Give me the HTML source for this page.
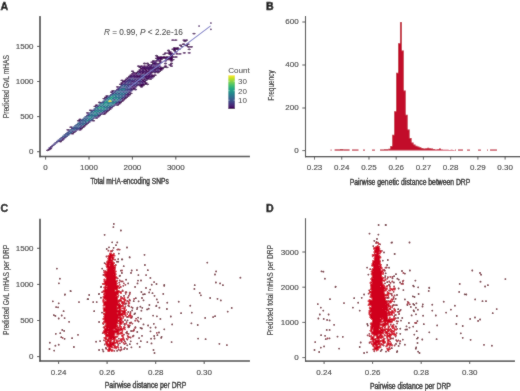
<!DOCTYPE html>
<html><head><meta charset="utf-8"><style>
html,body{margin:0;padding:0;background:#fff;}
svg{display:block;will-change:transform;}
text{font-family:"Liberation Sans",sans-serif;}
</style></head><body>
<svg width="520" height="391" viewBox="0 0 520 391">
<defs><filter id="sb" x="0" y="0" width="520" height="391" filterUnits="userSpaceOnUse"><feConvolveMatrix order="3" kernelMatrix="1 2 1 2 24 2 1 2 1" divisor="36" edgeMode="duplicate"/></filter></defs>
<rect width="520" height="391" fill="#fff"/>
<g filter="url(#sb)">
<rect width="520" height="391" fill="#fff"/>
<g><path d="M194.00 32.70l1.56 0.46v0.87l-1.56 0.46l-1.56 -0.46v-0.87zM186.50 39.20l1.56 0.46v0.87l-1.56 0.46l-1.56 -0.46v-0.87zM185.00 40.50l1.56 0.46v0.87l-1.56 0.46l-1.56 -0.46v-0.87zM180.50 44.40l1.56 0.46v0.87l-1.56 0.46l-1.56 -0.46v-0.87zM182.00 45.70l1.56 0.46v0.87l-1.56 0.46l-1.56 -0.46v-0.87zM174.50 47.00l1.56 0.46v0.87l-1.56 0.46l-1.56 -0.46v-0.87zM177.50 47.00l1.56 0.46v0.87l-1.56 0.46l-1.56 -0.46v-0.87zM173.00 48.30l1.56 0.46v0.87l-1.56 0.46l-1.56 -0.46v-0.87zM176.00 48.30l1.56 0.46v0.87l-1.56 0.46l-1.56 -0.46v-0.87zM179.00 48.30l1.56 0.46v0.87l-1.56 0.46l-1.56 -0.46v-0.87zM168.50 49.60l1.56 0.46v0.87l-1.56 0.46l-1.56 -0.46v-0.87zM174.50 49.60l1.56 0.46v0.87l-1.56 0.46l-1.56 -0.46v-0.87zM170.00 50.90l1.56 0.46v0.87l-1.56 0.46l-1.56 -0.46v-0.87zM176.00 50.90l1.56 0.46v0.87l-1.56 0.46l-1.56 -0.46v-0.87zM165.50 52.20l1.56 0.46v0.87l-1.56 0.46l-1.56 -0.46v-0.87zM168.50 52.20l1.56 0.46v0.87l-1.56 0.46l-1.56 -0.46v-0.87zM171.50 52.20l1.56 0.46v0.87l-1.56 0.46l-1.56 -0.46v-0.87zM164.00 53.50l1.56 0.46v0.87l-1.56 0.46l-1.56 -0.46v-0.87zM170.00 53.50l1.56 0.46v0.87l-1.56 0.46l-1.56 -0.46v-0.87zM173.00 53.50l1.56 0.46v0.87l-1.56 0.46l-1.56 -0.46v-0.87zM156.50 54.80l1.56 0.46v0.87l-1.56 0.46l-1.56 -0.46v-0.87zM171.50 54.80l1.56 0.46v0.87l-1.56 0.46l-1.56 -0.46v-0.87zM158.00 56.10l1.56 0.46v0.87l-1.56 0.46l-1.56 -0.46v-0.87zM161.00 56.10l1.56 0.46v0.87l-1.56 0.46l-1.56 -0.46v-0.87zM164.00 56.10l1.56 0.46v0.87l-1.56 0.46l-1.56 -0.46v-0.87zM167.00 56.10l1.56 0.46v0.87l-1.56 0.46l-1.56 -0.46v-0.87zM170.00 56.10l1.56 0.46v0.87l-1.56 0.46l-1.56 -0.46v-0.87zM173.00 56.10l1.56 0.46v0.87l-1.56 0.46l-1.56 -0.46v-0.87zM176.00 56.10l1.56 0.46v0.87l-1.56 0.46l-1.56 -0.46v-0.87zM156.50 57.40l1.56 0.46v0.87l-1.56 0.46l-1.56 -0.46v-0.87zM159.50 57.40l1.56 0.46v0.87l-1.56 0.46l-1.56 -0.46v-0.87zM162.50 57.40l1.56 0.46v0.87l-1.56 0.46l-1.56 -0.46v-0.87zM165.50 57.40l1.56 0.46v0.87l-1.56 0.46l-1.56 -0.46v-0.87zM168.50 57.40l1.56 0.46v0.87l-1.56 0.46l-1.56 -0.46v-0.87zM171.50 57.40l1.56 0.46v0.87l-1.56 0.46l-1.56 -0.46v-0.87zM161.00 58.70l1.56 0.46v0.87l-1.56 0.46l-1.56 -0.46v-0.87zM167.00 58.70l1.56 0.46v0.87l-1.56 0.46l-1.56 -0.46v-0.87zM170.00 58.70l1.56 0.46v0.87l-1.56 0.46l-1.56 -0.46v-0.87zM173.00 58.70l1.56 0.46v0.87l-1.56 0.46l-1.56 -0.46v-0.87zM153.50 60.00l1.56 0.46v0.87l-1.56 0.46l-1.56 -0.46v-0.87zM156.50 60.00l1.56 0.46v0.87l-1.56 0.46l-1.56 -0.46v-0.87zM159.50 60.00l1.56 0.46v0.87l-1.56 0.46l-1.56 -0.46v-0.87zM171.50 60.00l1.56 0.46v0.87l-1.56 0.46l-1.56 -0.46v-0.87zM152.00 61.30l1.56 0.46v0.87l-1.56 0.46l-1.56 -0.46v-0.87zM161.00 61.30l1.56 0.46v0.87l-1.56 0.46l-1.56 -0.46v-0.87zM144.50 62.60l1.56 0.46v0.87l-1.56 0.46l-1.56 -0.46v-0.87zM147.50 62.60l1.56 0.46v0.87l-1.56 0.46l-1.56 -0.46v-0.87zM153.50 62.60l1.56 0.46v0.87l-1.56 0.46l-1.56 -0.46v-0.87zM171.50 62.60l1.56 0.46v0.87l-1.56 0.46l-1.56 -0.46v-0.87zM170.00 63.90l1.56 0.46v0.87l-1.56 0.46l-1.56 -0.46v-0.87zM138.50 65.20l1.56 0.46v0.87l-1.56 0.46l-1.56 -0.46v-0.87zM141.50 65.20l1.56 0.46v0.87l-1.56 0.46l-1.56 -0.46v-0.87zM144.50 65.20l1.56 0.46v0.87l-1.56 0.46l-1.56 -0.46v-0.87zM165.50 65.20l1.56 0.46v0.87l-1.56 0.46l-1.56 -0.46v-0.87zM171.50 65.20l1.56 0.46v0.87l-1.56 0.46l-1.56 -0.46v-0.87zM140.00 66.50l1.56 0.46v0.87l-1.56 0.46l-1.56 -0.46v-0.87zM161.00 66.50l1.56 0.46v0.87l-1.56 0.46l-1.56 -0.46v-0.87zM164.00 66.50l1.56 0.46v0.87l-1.56 0.46l-1.56 -0.46v-0.87zM167.00 66.50l1.56 0.46v0.87l-1.56 0.46l-1.56 -0.46v-0.87zM141.50 67.80l1.56 0.46v0.87l-1.56 0.46l-1.56 -0.46v-0.87zM144.50 67.80l1.56 0.46v0.87l-1.56 0.46l-1.56 -0.46v-0.87zM159.50 67.80l1.56 0.46v0.87l-1.56 0.46l-1.56 -0.46v-0.87zM162.50 67.80l1.56 0.46v0.87l-1.56 0.46l-1.56 -0.46v-0.87zM146.00 69.10l1.56 0.46v0.87l-1.56 0.46l-1.56 -0.46v-0.87zM161.00 69.10l1.56 0.46v0.87l-1.56 0.46l-1.56 -0.46v-0.87zM132.50 70.40l1.56 0.46v0.87l-1.56 0.46l-1.56 -0.46v-0.87zM147.50 70.40l1.56 0.46v0.87l-1.56 0.46l-1.56 -0.46v-0.87zM159.50 70.40l1.56 0.46v0.87l-1.56 0.46l-1.56 -0.46v-0.87zM137.00 71.70l1.56 0.46v0.87l-1.56 0.46l-1.56 -0.46v-0.87zM149.00 71.70l1.56 0.46v0.87l-1.56 0.46l-1.56 -0.46v-0.87zM152.00 71.70l1.56 0.46v0.87l-1.56 0.46l-1.56 -0.46v-0.87zM158.00 71.70l1.56 0.46v0.87l-1.56 0.46l-1.56 -0.46v-0.87zM132.50 73.00l1.56 0.46v0.87l-1.56 0.46l-1.56 -0.46v-0.87zM135.50 73.00l1.56 0.46v0.87l-1.56 0.46l-1.56 -0.46v-0.87zM147.50 73.00l1.56 0.46v0.87l-1.56 0.46l-1.56 -0.46v-0.87zM152.00 74.30l1.56 0.46v0.87l-1.56 0.46l-1.56 -0.46v-0.87zM155.00 74.30l1.56 0.46v0.87l-1.56 0.46l-1.56 -0.46v-0.87zM138.50 75.60l1.56 0.46v0.87l-1.56 0.46l-1.56 -0.46v-0.87zM144.50 75.60l1.56 0.46v0.87l-1.56 0.46l-1.56 -0.46v-0.87zM153.50 75.60l1.56 0.46v0.87l-1.56 0.46l-1.56 -0.46v-0.87zM144.50 78.20l1.56 0.46v0.87l-1.56 0.46l-1.56 -0.46v-0.87zM150.50 78.20l1.56 0.46v0.87l-1.56 0.46l-1.56 -0.46v-0.87zM122.00 79.50l1.56 0.46v0.87l-1.56 0.46l-1.56 -0.46v-0.87zM144.50 80.80l1.56 0.46v0.87l-1.56 0.46l-1.56 -0.46v-0.87zM122.00 82.10l1.56 0.46v0.87l-1.56 0.46l-1.56 -0.46v-0.87zM146.00 82.10l1.56 0.46v0.87l-1.56 0.46l-1.56 -0.46v-0.87zM120.50 83.40l1.56 0.46v0.87l-1.56 0.46l-1.56 -0.46v-0.87zM141.50 83.40l1.56 0.46v0.87l-1.56 0.46l-1.56 -0.46v-0.87zM144.50 83.40l1.56 0.46v0.87l-1.56 0.46l-1.56 -0.46v-0.87zM147.50 83.40l1.56 0.46v0.87l-1.56 0.46l-1.56 -0.46v-0.87zM140.00 84.70l1.56 0.46v0.87l-1.56 0.46l-1.56 -0.46v-0.87zM143.00 84.70l1.56 0.46v0.87l-1.56 0.46l-1.56 -0.46v-0.87zM117.50 86.00l1.56 0.46v0.87l-1.56 0.46l-1.56 -0.46v-0.87zM141.50 86.00l1.56 0.46v0.87l-1.56 0.46l-1.56 -0.46v-0.87zM113.00 89.90l1.56 0.46v0.87l-1.56 0.46l-1.56 -0.46v-0.87zM111.50 91.20l1.56 0.46v0.87l-1.56 0.46l-1.56 -0.46v-0.87zM131.00 92.50l1.56 0.46v0.87l-1.56 0.46l-1.56 -0.46v-0.87zM129.50 93.80l1.56 0.46v0.87l-1.56 0.46l-1.56 -0.46v-0.87zM107.00 95.10l1.56 0.46v0.87l-1.56 0.46l-1.56 -0.46v-0.87zM105.50 96.40l1.56 0.46v0.87l-1.56 0.46l-1.56 -0.46v-0.87zM126.50 96.40l1.56 0.46v0.87l-1.56 0.46l-1.56 -0.46v-0.87zM104.00 97.70l1.56 0.46v0.87l-1.56 0.46l-1.56 -0.46v-0.87zM125.00 97.70l1.56 0.46v0.87l-1.56 0.46l-1.56 -0.46v-0.87zM123.50 99.00l1.56 0.46v0.87l-1.56 0.46l-1.56 -0.46v-0.87zM122.00 100.30l1.56 0.46v0.87l-1.56 0.46l-1.56 -0.46v-0.87zM99.50 101.60l1.56 0.46v0.87l-1.56 0.46l-1.56 -0.46v-0.87zM120.50 101.60l1.56 0.46v0.87l-1.56 0.46l-1.56 -0.46v-0.87zM119.00 102.90l1.56 0.46v0.87l-1.56 0.46l-1.56 -0.46v-0.87zM96.50 104.20l1.56 0.46v0.87l-1.56 0.46l-1.56 -0.46v-0.87zM117.50 104.20l1.56 0.46v0.87l-1.56 0.46l-1.56 -0.46v-0.87zM95.00 105.50l1.56 0.46v0.87l-1.56 0.46l-1.56 -0.46v-0.87zM90.50 109.40l1.56 0.46v0.87l-1.56 0.46l-1.56 -0.46v-0.87zM107.00 110.70l1.56 0.46v0.87l-1.56 0.46l-1.56 -0.46v-0.87zM87.50 112.00l1.56 0.46v0.87l-1.56 0.46l-1.56 -0.46v-0.87zM105.50 112.00l1.56 0.46v0.87l-1.56 0.46l-1.56 -0.46v-0.87zM104.00 113.30l1.56 0.46v0.87l-1.56 0.46l-1.56 -0.46v-0.87zM80.00 118.50l1.56 0.46v0.87l-1.56 0.46l-1.56 -0.46v-0.87zM78.50 119.80l1.56 0.46v0.87l-1.56 0.46l-1.56 -0.46v-0.87zM93.50 119.80l1.56 0.46v0.87l-1.56 0.46l-1.56 -0.46v-0.87zM84.50 125.00l1.56 0.46v0.87l-1.56 0.46l-1.56 -0.46v-0.87zM71.00 126.30l1.56 0.46v0.87l-1.56 0.46l-1.56 -0.46v-0.87zM83.00 126.30l1.56 0.46v0.87l-1.56 0.46l-1.56 -0.46v-0.87zM81.50 127.60l1.56 0.46v0.87l-1.56 0.46l-1.56 -0.46v-0.87zM68.00 128.90l1.56 0.46v0.87l-1.56 0.46l-1.56 -0.46v-0.87zM80.00 128.90l1.56 0.46v0.87l-1.56 0.46l-1.56 -0.46v-0.87zM72.50 132.80l1.56 0.46v0.87l-1.56 0.46l-1.56 -0.46v-0.87zM60.50 140.60l1.56 0.46v0.87l-1.56 0.46l-1.56 -0.46v-0.87zM47.60 149.50l1.56 0.46v0.87l-1.56 0.46l-1.56 -0.46v-0.87zM49.10 148.60l1.56 0.46v0.87l-1.56 0.46l-1.56 -0.46v-0.87zM50.60 147.70l1.56 0.46v0.87l-1.56 0.46l-1.56 -0.46v-0.87zM172.80 39.20l1.56 0.46v0.87l-1.56 0.46l-1.56 -0.46v-0.87zM175.80 39.20l1.56 0.46v0.87l-1.56 0.46l-1.56 -0.46v-0.87zM184.00 39.20l1.56 0.46v0.87l-1.56 0.46l-1.56 -0.46v-0.87zM183.50 43.30l1.56 0.46v0.87l-1.56 0.46l-1.56 -0.46v-0.87zM186.50 44.60l1.56 0.46v0.87l-1.56 0.46l-1.56 -0.46v-0.87zM188.00 43.30l1.56 0.46v0.87l-1.56 0.46l-1.56 -0.46v-0.87zM188.60 45.90l1.56 0.46v0.87l-1.56 0.46l-1.56 -0.46v-0.87zM191.30 45.90l1.56 0.46v0.87l-1.56 0.46l-1.56 -0.46v-0.87zM189.20 48.50l1.56 0.46v0.87l-1.56 0.46l-1.56 -0.46v-0.87zM184.30 52.00l1.56 0.46v0.87l-1.56 0.46l-1.56 -0.46v-0.87zM189.20 52.00l1.56 0.46v0.87l-1.56 0.46l-1.56 -0.46v-0.87zM180.00 53.00l1.56 0.46v0.87l-1.56 0.46l-1.56 -0.46v-0.87zM177.00 53.00l1.56 0.46v0.87l-1.56 0.46l-1.56 -0.46v-0.87z" fill="#440154"/>
<path d="M158.00 58.70l1.56 0.46v0.87l-1.56 0.46l-1.56 -0.46v-0.87zM165.50 60.00l1.56 0.46v0.87l-1.56 0.46l-1.56 -0.46v-0.87zM155.00 61.30l1.56 0.46v0.87l-1.56 0.46l-1.56 -0.46v-0.87zM155.00 63.90l1.56 0.46v0.87l-1.56 0.46l-1.56 -0.46v-0.87zM158.00 66.50l1.56 0.46v0.87l-1.56 0.46l-1.56 -0.46v-0.87zM132.50 75.60l1.56 0.46v0.87l-1.56 0.46l-1.56 -0.46v-0.87zM137.00 76.90l1.56 0.46v0.87l-1.56 0.46l-1.56 -0.46v-0.87zM140.00 76.90l1.56 0.46v0.87l-1.56 0.46l-1.56 -0.46v-0.87zM146.00 79.50l1.56 0.46v0.87l-1.56 0.46l-1.56 -0.46v-0.87zM132.50 80.80l1.56 0.46v0.87l-1.56 0.46l-1.56 -0.46v-0.87zM135.50 80.80l1.56 0.46v0.87l-1.56 0.46l-1.56 -0.46v-0.87zM141.50 80.80l1.56 0.46v0.87l-1.56 0.46l-1.56 -0.46v-0.87zM143.00 82.10l1.56 0.46v0.87l-1.56 0.46l-1.56 -0.46v-0.87zM138.50 83.40l1.56 0.46v0.87l-1.56 0.46l-1.56 -0.46v-0.87zM137.00 84.70l1.56 0.46v0.87l-1.56 0.46l-1.56 -0.46v-0.87zM129.50 91.20l1.56 0.46v0.87l-1.56 0.46l-1.56 -0.46v-0.87zM111.50 106.80l1.56 0.46v0.87l-1.56 0.46l-1.56 -0.46v-0.87zM101.00 113.30l1.56 0.46v0.87l-1.56 0.46l-1.56 -0.46v-0.87zM99.50 114.60l1.56 0.46v0.87l-1.56 0.46l-1.56 -0.46v-0.87zM98.00 115.90l1.56 0.46v0.87l-1.56 0.46l-1.56 -0.46v-0.87zM89.00 121.10l1.56 0.46v0.87l-1.56 0.46l-1.56 -0.46v-0.87zM87.50 122.40l1.56 0.46v0.87l-1.56 0.46l-1.56 -0.46v-0.87zM75.50 130.20l1.56 0.46v0.87l-1.56 0.46l-1.56 -0.46v-0.87zM51.50 145.80l1.56 0.46v0.87l-1.56 0.46l-1.56 -0.46v-0.87zM50.00 147.10l1.56 0.46v0.87l-1.56 0.46l-1.56 -0.46v-0.87z" fill="#471f70"/>
<path d="M156.50 62.60l1.56 0.46v0.87l-1.56 0.46l-1.56 -0.46v-0.87zM152.00 63.90l1.56 0.46v0.87l-1.56 0.46l-1.56 -0.46v-0.87zM150.50 65.20l1.56 0.46v0.87l-1.56 0.46l-1.56 -0.46v-0.87zM143.00 66.50l1.56 0.46v0.87l-1.56 0.46l-1.56 -0.46v-0.87zM146.00 66.50l1.56 0.46v0.87l-1.56 0.46l-1.56 -0.46v-0.87zM149.00 66.50l1.56 0.46v0.87l-1.56 0.46l-1.56 -0.46v-0.87zM152.00 66.50l1.56 0.46v0.87l-1.56 0.46l-1.56 -0.46v-0.87zM155.00 66.50l1.56 0.46v0.87l-1.56 0.46l-1.56 -0.46v-0.87zM147.50 67.80l1.56 0.46v0.87l-1.56 0.46l-1.56 -0.46v-0.87zM150.50 67.80l1.56 0.46v0.87l-1.56 0.46l-1.56 -0.46v-0.87zM143.00 69.10l1.56 0.46v0.87l-1.56 0.46l-1.56 -0.46v-0.87zM149.00 69.10l1.56 0.46v0.87l-1.56 0.46l-1.56 -0.46v-0.87zM141.50 70.40l1.56 0.46v0.87l-1.56 0.46l-1.56 -0.46v-0.87zM144.50 70.40l1.56 0.46v0.87l-1.56 0.46l-1.56 -0.46v-0.87zM156.50 70.40l1.56 0.46v0.87l-1.56 0.46l-1.56 -0.46v-0.87zM140.00 71.70l1.56 0.46v0.87l-1.56 0.46l-1.56 -0.46v-0.87zM146.00 71.70l1.56 0.46v0.87l-1.56 0.46l-1.56 -0.46v-0.87zM144.50 73.00l1.56 0.46v0.87l-1.56 0.46l-1.56 -0.46v-0.87zM150.50 73.00l1.56 0.46v0.87l-1.56 0.46l-1.56 -0.46v-0.87zM134.00 74.30l1.56 0.46v0.87l-1.56 0.46l-1.56 -0.46v-0.87zM140.00 74.30l1.56 0.46v0.87l-1.56 0.46l-1.56 -0.46v-0.87zM149.00 74.30l1.56 0.46v0.87l-1.56 0.46l-1.56 -0.46v-0.87zM135.50 75.60l1.56 0.46v0.87l-1.56 0.46l-1.56 -0.46v-0.87zM147.50 75.60l1.56 0.46v0.87l-1.56 0.46l-1.56 -0.46v-0.87zM150.50 75.60l1.56 0.46v0.87l-1.56 0.46l-1.56 -0.46v-0.87zM134.00 76.90l1.56 0.46v0.87l-1.56 0.46l-1.56 -0.46v-0.87zM152.00 76.90l1.56 0.46v0.87l-1.56 0.46l-1.56 -0.46v-0.87zM141.50 78.20l1.56 0.46v0.87l-1.56 0.46l-1.56 -0.46v-0.87zM132.50 83.40l1.56 0.46v0.87l-1.56 0.46l-1.56 -0.46v-0.87zM132.50 86.00l1.56 0.46v0.87l-1.56 0.46l-1.56 -0.46v-0.87zM135.50 86.00l1.56 0.46v0.87l-1.56 0.46l-1.56 -0.46v-0.87zM135.50 88.60l1.56 0.46v0.87l-1.56 0.46l-1.56 -0.46v-0.87zM63.50 138.00l1.56 0.46v0.87l-1.56 0.46l-1.56 -0.46v-0.87zM62.00 139.30l1.56 0.46v0.87l-1.56 0.46l-1.56 -0.46v-0.87z" fill="#461567"/>
<path d="M159.50 62.60l1.56 0.46v0.87l-1.56 0.46l-1.56 -0.46v-0.87zM165.50 62.60l1.56 0.46v0.87l-1.56 0.46l-1.56 -0.46v-0.87zM149.00 63.90l1.56 0.46v0.87l-1.56 0.46l-1.56 -0.46v-0.87zM158.00 63.90l1.56 0.46v0.87l-1.56 0.46l-1.56 -0.46v-0.87zM147.50 65.20l1.56 0.46v0.87l-1.56 0.46l-1.56 -0.46v-0.87zM156.50 65.20l1.56 0.46v0.87l-1.56 0.46l-1.56 -0.46v-0.87zM153.50 67.80l1.56 0.46v0.87l-1.56 0.46l-1.56 -0.46v-0.87zM156.50 67.80l1.56 0.46v0.87l-1.56 0.46l-1.56 -0.46v-0.87zM140.00 69.10l1.56 0.46v0.87l-1.56 0.46l-1.56 -0.46v-0.87zM152.00 69.10l1.56 0.46v0.87l-1.56 0.46l-1.56 -0.46v-0.87zM155.00 69.10l1.56 0.46v0.87l-1.56 0.46l-1.56 -0.46v-0.87zM138.50 70.40l1.56 0.46v0.87l-1.56 0.46l-1.56 -0.46v-0.87zM150.50 70.40l1.56 0.46v0.87l-1.56 0.46l-1.56 -0.46v-0.87zM134.00 71.70l1.56 0.46v0.87l-1.56 0.46l-1.56 -0.46v-0.87zM143.00 71.70l1.56 0.46v0.87l-1.56 0.46l-1.56 -0.46v-0.87zM155.00 71.70l1.56 0.46v0.87l-1.56 0.46l-1.56 -0.46v-0.87zM141.50 73.00l1.56 0.46v0.87l-1.56 0.46l-1.56 -0.46v-0.87zM131.00 74.30l1.56 0.46v0.87l-1.56 0.46l-1.56 -0.46v-0.87zM137.00 74.30l1.56 0.46v0.87l-1.56 0.46l-1.56 -0.46v-0.87zM146.00 74.30l1.56 0.46v0.87l-1.56 0.46l-1.56 -0.46v-0.87zM129.50 75.60l1.56 0.46v0.87l-1.56 0.46l-1.56 -0.46v-0.87zM128.00 76.90l1.56 0.46v0.87l-1.56 0.46l-1.56 -0.46v-0.87zM146.00 76.90l1.56 0.46v0.87l-1.56 0.46l-1.56 -0.46v-0.87zM149.00 76.90l1.56 0.46v0.87l-1.56 0.46l-1.56 -0.46v-0.87zM126.50 78.20l1.56 0.46v0.87l-1.56 0.46l-1.56 -0.46v-0.87zM147.50 78.20l1.56 0.46v0.87l-1.56 0.46l-1.56 -0.46v-0.87zM125.00 79.50l1.56 0.46v0.87l-1.56 0.46l-1.56 -0.46v-0.87zM143.00 79.50l1.56 0.46v0.87l-1.56 0.46l-1.56 -0.46v-0.87zM123.50 80.80l1.56 0.46v0.87l-1.56 0.46l-1.56 -0.46v-0.87zM138.50 80.80l1.56 0.46v0.87l-1.56 0.46l-1.56 -0.46v-0.87zM134.00 87.30l1.56 0.46v0.87l-1.56 0.46l-1.56 -0.46v-0.87zM132.50 88.60l1.56 0.46v0.87l-1.56 0.46l-1.56 -0.46v-0.87zM128.00 95.10l1.56 0.46v0.87l-1.56 0.46l-1.56 -0.46v-0.87zM110.00 108.10l1.56 0.46v0.87l-1.56 0.46l-1.56 -0.46v-0.87zM108.50 109.40l1.56 0.46v0.87l-1.56 0.46l-1.56 -0.46v-0.87zM96.50 117.20l1.56 0.46v0.87l-1.56 0.46l-1.56 -0.46v-0.87zM86.00 123.70l1.56 0.46v0.87l-1.56 0.46l-1.56 -0.46v-0.87zM74.00 131.50l1.56 0.46v0.87l-1.56 0.46l-1.56 -0.46v-0.87z" fill="#450b5d"/>
<path d="M153.50 65.20l1.56 0.46v0.87l-1.56 0.46l-1.56 -0.46v-0.87zM159.50 65.20l1.56 0.46v0.87l-1.56 0.46l-1.56 -0.46v-0.87zM158.00 69.10l1.56 0.46v0.87l-1.56 0.46l-1.56 -0.46v-0.87zM153.50 70.40l1.56 0.46v0.87l-1.56 0.46l-1.56 -0.46v-0.87zM141.50 75.60l1.56 0.46v0.87l-1.56 0.46l-1.56 -0.46v-0.87zM131.00 76.90l1.56 0.46v0.87l-1.56 0.46l-1.56 -0.46v-0.87zM138.50 78.20l1.56 0.46v0.87l-1.56 0.46l-1.56 -0.46v-0.87zM137.00 79.50l1.56 0.46v0.87l-1.56 0.46l-1.56 -0.46v-0.87zM126.50 80.80l1.56 0.46v0.87l-1.56 0.46l-1.56 -0.46v-0.87zM125.00 82.10l1.56 0.46v0.87l-1.56 0.46l-1.56 -0.46v-0.87zM129.50 83.40l1.56 0.46v0.87l-1.56 0.46l-1.56 -0.46v-0.87zM131.00 87.30l1.56 0.46v0.87l-1.56 0.46l-1.56 -0.46v-0.87zM117.50 88.60l1.56 0.46v0.87l-1.56 0.46l-1.56 -0.46v-0.87zM128.00 92.50l1.56 0.46v0.87l-1.56 0.46l-1.56 -0.46v-0.87zM126.50 93.80l1.56 0.46v0.87l-1.56 0.46l-1.56 -0.46v-0.87zM116.00 102.90l1.56 0.46v0.87l-1.56 0.46l-1.56 -0.46v-0.87zM113.00 105.50l1.56 0.46v0.87l-1.56 0.46l-1.56 -0.46v-0.87zM53.00 144.50l1.56 0.46v0.87l-1.56 0.46l-1.56 -0.46v-0.87z" fill="#472978"/>
<path d="M138.50 73.00l1.56 0.46v0.87l-1.56 0.46l-1.56 -0.46v-0.87zM143.00 76.90l1.56 0.46v0.87l-1.56 0.46l-1.56 -0.46v-0.87zM137.00 82.10l1.56 0.46v0.87l-1.56 0.46l-1.56 -0.46v-0.87zM123.50 83.40l1.56 0.46v0.87l-1.56 0.46l-1.56 -0.46v-0.87zM126.50 83.40l1.56 0.46v0.87l-1.56 0.46l-1.56 -0.46v-0.87zM135.50 83.40l1.56 0.46v0.87l-1.56 0.46l-1.56 -0.46v-0.87zM131.00 84.70l1.56 0.46v0.87l-1.56 0.46l-1.56 -0.46v-0.87zM129.50 88.60l1.56 0.46v0.87l-1.56 0.46l-1.56 -0.46v-0.87zM113.00 92.50l1.56 0.46v0.87l-1.56 0.46l-1.56 -0.46v-0.87zM117.50 101.60l1.56 0.46v0.87l-1.56 0.46l-1.56 -0.46v-0.87zM93.50 109.40l1.56 0.46v0.87l-1.56 0.46l-1.56 -0.46v-0.87zM87.50 114.60l1.56 0.46v0.87l-1.56 0.46l-1.56 -0.46v-0.87zM72.50 127.60l1.56 0.46v0.87l-1.56 0.46l-1.56 -0.46v-0.87zM77.00 128.90l1.56 0.46v0.87l-1.56 0.46l-1.56 -0.46v-0.87zM72.50 130.20l1.56 0.46v0.87l-1.56 0.46l-1.56 -0.46v-0.87zM62.00 136.70l1.56 0.46v0.87l-1.56 0.46l-1.56 -0.46v-0.87zM57.50 140.60l1.56 0.46v0.87l-1.56 0.46l-1.56 -0.46v-0.87zM54.50 143.20l1.56 0.46v0.87l-1.56 0.46l-1.56 -0.46v-0.87z" fill="#433b82"/>
<path d="M143.00 74.30l1.56 0.46v0.87l-1.56 0.46l-1.56 -0.46v-0.87zM132.50 78.20l1.56 0.46v0.87l-1.56 0.46l-1.56 -0.46v-0.87zM140.00 79.50l1.56 0.46v0.87l-1.56 0.46l-1.56 -0.46v-0.87zM129.50 80.80l1.56 0.46v0.87l-1.56 0.46l-1.56 -0.46v-0.87zM128.00 82.10l1.56 0.46v0.87l-1.56 0.46l-1.56 -0.46v-0.87zM128.00 84.70l1.56 0.46v0.87l-1.56 0.46l-1.56 -0.46v-0.87zM129.50 86.00l1.56 0.46v0.87l-1.56 0.46l-1.56 -0.46v-0.87zM126.50 88.60l1.56 0.46v0.87l-1.56 0.46l-1.56 -0.46v-0.87zM116.00 89.90l1.56 0.46v0.87l-1.56 0.46l-1.56 -0.46v-0.87zM128.00 89.90l1.56 0.46v0.87l-1.56 0.46l-1.56 -0.46v-0.87zM114.50 91.20l1.56 0.46v0.87l-1.56 0.46l-1.56 -0.46v-0.87zM123.50 96.40l1.56 0.46v0.87l-1.56 0.46l-1.56 -0.46v-0.87zM114.50 99.00l1.56 0.46v0.87l-1.56 0.46l-1.56 -0.46v-0.87zM102.50 101.60l1.56 0.46v0.87l-1.56 0.46l-1.56 -0.46v-0.87zM98.00 105.50l1.56 0.46v0.87l-1.56 0.46l-1.56 -0.46v-0.87zM105.50 109.40l1.56 0.46v0.87l-1.56 0.46l-1.56 -0.46v-0.87zM104.00 110.70l1.56 0.46v0.87l-1.56 0.46l-1.56 -0.46v-0.87zM89.00 113.30l1.56 0.46v0.87l-1.56 0.46l-1.56 -0.46v-0.87zM93.50 117.20l1.56 0.46v0.87l-1.56 0.46l-1.56 -0.46v-0.87zM90.50 119.80l1.56 0.46v0.87l-1.56 0.46l-1.56 -0.46v-0.87zM80.00 121.10l1.56 0.46v0.87l-1.56 0.46l-1.56 -0.46v-0.87zM81.50 125.00l1.56 0.46v0.87l-1.56 0.46l-1.56 -0.46v-0.87zM80.00 126.30l1.56 0.46v0.87l-1.56 0.46l-1.56 -0.46v-0.87zM69.50 130.20l1.56 0.46v0.87l-1.56 0.46l-1.56 -0.46v-0.87zM66.50 135.40l1.56 0.46v0.87l-1.56 0.46l-1.56 -0.46v-0.87zM59.00 139.30l1.56 0.46v0.87l-1.56 0.46l-1.56 -0.46v-0.87z" fill="#414487"/>
<path d="M129.50 78.20l1.56 0.46v0.87l-1.56 0.46l-1.56 -0.46v-0.87zM135.50 78.20l1.56 0.46v0.87l-1.56 0.46l-1.56 -0.46v-0.87zM128.00 79.50l1.56 0.46v0.87l-1.56 0.46l-1.56 -0.46v-0.87zM131.00 79.50l1.56 0.46v0.87l-1.56 0.46l-1.56 -0.46v-0.87zM134.00 79.50l1.56 0.46v0.87l-1.56 0.46l-1.56 -0.46v-0.87zM131.00 82.10l1.56 0.46v0.87l-1.56 0.46l-1.56 -0.46v-0.87zM134.00 82.10l1.56 0.46v0.87l-1.56 0.46l-1.56 -0.46v-0.87zM140.00 82.10l1.56 0.46v0.87l-1.56 0.46l-1.56 -0.46v-0.87zM134.00 84.70l1.56 0.46v0.87l-1.56 0.46l-1.56 -0.46v-0.87zM120.50 86.00l1.56 0.46v0.87l-1.56 0.46l-1.56 -0.46v-0.87zM119.00 87.30l1.56 0.46v0.87l-1.56 0.46l-1.56 -0.46v-0.87zM131.00 89.90l1.56 0.46v0.87l-1.56 0.46l-1.56 -0.46v-0.87zM125.00 95.10l1.56 0.46v0.87l-1.56 0.46l-1.56 -0.46v-0.87zM122.00 97.70l1.56 0.46v0.87l-1.56 0.46l-1.56 -0.46v-0.87zM119.00 100.30l1.56 0.46v0.87l-1.56 0.46l-1.56 -0.46v-0.87zM114.50 104.20l1.56 0.46v0.87l-1.56 0.46l-1.56 -0.46v-0.87zM102.50 112.00l1.56 0.46v0.87l-1.56 0.46l-1.56 -0.46v-0.87zM65.00 136.70l1.56 0.46v0.87l-1.56 0.46l-1.56 -0.46v-0.87zM56.00 141.90l1.56 0.46v0.87l-1.56 0.46l-1.56 -0.46v-0.87z" fill="#45327d"/>
<path d="M122.00 84.70l1.56 0.46v0.87l-1.56 0.46l-1.56 -0.46v-0.87zM126.50 86.00l1.56 0.46v0.87l-1.56 0.46l-1.56 -0.46v-0.87zM128.00 87.30l1.56 0.46v0.87l-1.56 0.46l-1.56 -0.46v-0.87zM122.00 89.90l1.56 0.46v0.87l-1.56 0.46l-1.56 -0.46v-0.87zM125.00 89.90l1.56 0.46v0.87l-1.56 0.46l-1.56 -0.46v-0.87zM119.00 92.50l1.56 0.46v0.87l-1.56 0.46l-1.56 -0.46v-0.87zM111.50 93.80l1.56 0.46v0.87l-1.56 0.46l-1.56 -0.46v-0.87zM110.00 95.10l1.56 0.46v0.87l-1.56 0.46l-1.56 -0.46v-0.87zM105.50 99.00l1.56 0.46v0.87l-1.56 0.46l-1.56 -0.46v-0.87zM99.50 112.00l1.56 0.46v0.87l-1.56 0.46l-1.56 -0.46v-0.87zM86.00 115.90l1.56 0.46v0.87l-1.56 0.46l-1.56 -0.46v-0.87zM95.00 115.90l1.56 0.46v0.87l-1.56 0.46l-1.56 -0.46v-0.87zM81.50 119.80l1.56 0.46v0.87l-1.56 0.46l-1.56 -0.46v-0.87zM75.50 127.60l1.56 0.46v0.87l-1.56 0.46l-1.56 -0.46v-0.87zM78.50 127.60l1.56 0.46v0.87l-1.56 0.46l-1.56 -0.46v-0.87zM68.00 131.50l1.56 0.46v0.87l-1.56 0.46l-1.56 -0.46v-0.87zM65.00 134.10l1.56 0.46v0.87l-1.56 0.46l-1.56 -0.46v-0.87zM60.50 138.00l1.56 0.46v0.87l-1.56 0.46l-1.56 -0.46v-0.87z" fill="#3e4c89"/>
<path d="M125.00 84.70l1.56 0.46v0.87l-1.56 0.46l-1.56 -0.46v-0.87zM123.50 86.00l1.56 0.46v0.87l-1.56 0.46l-1.56 -0.46v-0.87zM126.50 91.20l1.56 0.46v0.87l-1.56 0.46l-1.56 -0.46v-0.87zM116.00 92.50l1.56 0.46v0.87l-1.56 0.46l-1.56 -0.46v-0.87zM119.00 95.10l1.56 0.46v0.87l-1.56 0.46l-1.56 -0.46v-0.87zM108.50 96.40l1.56 0.46v0.87l-1.56 0.46l-1.56 -0.46v-0.87zM107.00 97.70l1.56 0.46v0.87l-1.56 0.46l-1.56 -0.46v-0.87zM104.00 100.30l1.56 0.46v0.87l-1.56 0.46l-1.56 -0.46v-0.87zM113.00 100.30l1.56 0.46v0.87l-1.56 0.46l-1.56 -0.46v-0.87zM110.00 105.50l1.56 0.46v0.87l-1.56 0.46l-1.56 -0.46v-0.87zM108.50 106.80l1.56 0.46v0.87l-1.56 0.46l-1.56 -0.46v-0.87zM95.00 108.10l1.56 0.46v0.87l-1.56 0.46l-1.56 -0.46v-0.87zM92.00 110.70l1.56 0.46v0.87l-1.56 0.46l-1.56 -0.46v-0.87zM90.50 112.00l1.56 0.46v0.87l-1.56 0.46l-1.56 -0.46v-0.87zM84.50 117.20l1.56 0.46v0.87l-1.56 0.46l-1.56 -0.46v-0.87zM87.50 117.20l1.56 0.46v0.87l-1.56 0.46l-1.56 -0.46v-0.87zM92.00 118.50l1.56 0.46v0.87l-1.56 0.46l-1.56 -0.46v-0.87zM84.50 119.80l1.56 0.46v0.87l-1.56 0.46l-1.56 -0.46v-0.87zM86.00 121.10l1.56 0.46v0.87l-1.56 0.46l-1.56 -0.46v-0.87zM84.50 122.40l1.56 0.46v0.87l-1.56 0.46l-1.56 -0.46v-0.87zM77.00 123.70l1.56 0.46v0.87l-1.56 0.46l-1.56 -0.46v-0.87zM74.00 126.30l1.56 0.46v0.87l-1.56 0.46l-1.56 -0.46v-0.87zM77.00 126.30l1.56 0.46v0.87l-1.56 0.46l-1.56 -0.46v-0.87zM71.00 128.90l1.56 0.46v0.87l-1.56 0.46l-1.56 -0.46v-0.87zM63.50 135.40l1.56 0.46v0.87l-1.56 0.46l-1.56 -0.46v-0.87z" fill="#375b8c"/>
<path d="M122.00 87.30l1.56 0.46v0.87l-1.56 0.46l-1.56 -0.46v-0.87zM125.00 87.30l1.56 0.46v0.87l-1.56 0.46l-1.56 -0.46v-0.87zM119.00 89.90l1.56 0.46v0.87l-1.56 0.46l-1.56 -0.46v-0.87zM123.50 91.20l1.56 0.46v0.87l-1.56 0.46l-1.56 -0.46v-0.87zM122.00 95.10l1.56 0.46v0.87l-1.56 0.46l-1.56 -0.46v-0.87zM120.50 99.00l1.56 0.46v0.87l-1.56 0.46l-1.56 -0.46v-0.87zM83.00 118.50l1.56 0.46v0.87l-1.56 0.46l-1.56 -0.46v-0.87zM81.50 122.40l1.56 0.46v0.87l-1.56 0.46l-1.56 -0.46v-0.87zM80.00 123.70l1.56 0.46v0.87l-1.56 0.46l-1.56 -0.46v-0.87zM75.50 125.00l1.56 0.46v0.87l-1.56 0.46l-1.56 -0.46v-0.87zM66.50 132.80l1.56 0.46v0.87l-1.56 0.46l-1.56 -0.46v-0.87zM69.50 132.80l1.56 0.46v0.87l-1.56 0.46l-1.56 -0.46v-0.87zM68.00 134.10l1.56 0.46v0.87l-1.56 0.46l-1.56 -0.46v-0.87z" fill="#3a538a"/>
<path d="M120.50 88.60l1.56 0.46v0.87l-1.56 0.46l-1.56 -0.46v-0.87zM117.50 91.20l1.56 0.46v0.87l-1.56 0.46l-1.56 -0.46v-0.87zM117.50 93.80l1.56 0.46v0.87l-1.56 0.46l-1.56 -0.46v-0.87zM120.50 93.80l1.56 0.46v0.87l-1.56 0.46l-1.56 -0.46v-0.87zM116.00 100.30l1.56 0.46v0.87l-1.56 0.46l-1.56 -0.46v-0.87zM105.50 106.80l1.56 0.46v0.87l-1.56 0.46l-1.56 -0.46v-0.87zM98.00 108.10l1.56 0.46v0.87l-1.56 0.46l-1.56 -0.46v-0.87zM102.50 109.40l1.56 0.46v0.87l-1.56 0.46l-1.56 -0.46v-0.87zM92.00 113.30l1.56 0.46v0.87l-1.56 0.46l-1.56 -0.46v-0.87zM90.50 114.60l1.56 0.46v0.87l-1.56 0.46l-1.56 -0.46v-0.87zM83.00 123.70l1.56 0.46v0.87l-1.56 0.46l-1.56 -0.46v-0.87z" fill="#2d718e"/>
<path d="M123.50 88.60l1.56 0.46v0.87l-1.56 0.46l-1.56 -0.46v-0.87zM108.50 101.60l1.56 0.46v0.87l-1.56 0.46l-1.56 -0.46v-0.87zM114.50 101.60l1.56 0.46v0.87l-1.56 0.46l-1.56 -0.46v-0.87zM107.00 102.90l1.56 0.46v0.87l-1.56 0.46l-1.56 -0.46v-0.87zM110.00 102.90l1.56 0.46v0.87l-1.56 0.46l-1.56 -0.46v-0.87zM101.00 110.70l1.56 0.46v0.87l-1.56 0.46l-1.56 -0.46v-0.87zM89.00 115.90l1.56 0.46v0.87l-1.56 0.46l-1.56 -0.46v-0.87z" fill="#25868d"/>
<path d="M120.50 91.20l1.56 0.46v0.87l-1.56 0.46l-1.56 -0.46v-0.87zM125.00 92.50l1.56 0.46v0.87l-1.56 0.46l-1.56 -0.46v-0.87zM99.50 104.20l1.56 0.46v0.87l-1.56 0.46l-1.56 -0.46v-0.87zM104.00 105.50l1.56 0.46v0.87l-1.56 0.46l-1.56 -0.46v-0.87zM107.00 108.10l1.56 0.46v0.87l-1.56 0.46l-1.56 -0.46v-0.87zM83.00 121.10l1.56 0.46v0.87l-1.56 0.46l-1.56 -0.46v-0.87zM78.50 125.00l1.56 0.46v0.87l-1.56 0.46l-1.56 -0.46v-0.87zM74.00 128.90l1.56 0.46v0.87l-1.56 0.46l-1.56 -0.46v-0.87zM71.00 131.50l1.56 0.46v0.87l-1.56 0.46l-1.56 -0.46v-0.87z" fill="#33638d"/>
<path d="M122.00 92.50l1.56 0.46v0.87l-1.56 0.46l-1.56 -0.46v-0.87zM114.50 93.80l1.56 0.46v0.87l-1.56 0.46l-1.56 -0.46v-0.87zM116.00 95.10l1.56 0.46v0.87l-1.56 0.46l-1.56 -0.46v-0.87zM114.50 96.40l1.56 0.46v0.87l-1.56 0.46l-1.56 -0.46v-0.87zM117.50 96.40l1.56 0.46v0.87l-1.56 0.46l-1.56 -0.46v-0.87zM120.50 96.40l1.56 0.46v0.87l-1.56 0.46l-1.56 -0.46v-0.87zM113.00 97.70l1.56 0.46v0.87l-1.56 0.46l-1.56 -0.46v-0.87zM117.50 99.00l1.56 0.46v0.87l-1.56 0.46l-1.56 -0.46v-0.87zM111.50 101.60l1.56 0.46v0.87l-1.56 0.46l-1.56 -0.46v-0.87zM101.00 105.50l1.56 0.46v0.87l-1.56 0.46l-1.56 -0.46v-0.87zM101.00 108.10l1.56 0.46v0.87l-1.56 0.46l-1.56 -0.46v-0.87z" fill="#2a788e"/>
<path d="M123.50 93.80l1.56 0.46v0.87l-1.56 0.46l-1.56 -0.46v-0.87zM119.00 97.70l1.56 0.46v0.87l-1.56 0.46l-1.56 -0.46v-0.87zM101.00 102.90l1.56 0.46v0.87l-1.56 0.46l-1.56 -0.46v-0.87zM111.50 104.20l1.56 0.46v0.87l-1.56 0.46l-1.56 -0.46v-0.87zM96.50 106.80l1.56 0.46v0.87l-1.56 0.46l-1.56 -0.46v-0.87zM99.50 109.40l1.56 0.46v0.87l-1.56 0.46l-1.56 -0.46v-0.87zM93.50 112.00l1.56 0.46v0.87l-1.56 0.46l-1.56 -0.46v-0.87zM96.50 112.00l1.56 0.46v0.87l-1.56 0.46l-1.56 -0.46v-0.87zM98.00 113.30l1.56 0.46v0.87l-1.56 0.46l-1.56 -0.46v-0.87zM93.50 114.60l1.56 0.46v0.87l-1.56 0.46l-1.56 -0.46v-0.87zM96.50 114.60l1.56 0.46v0.87l-1.56 0.46l-1.56 -0.46v-0.87zM86.00 118.50l1.56 0.46v0.87l-1.56 0.46l-1.56 -0.46v-0.87zM78.50 122.40l1.56 0.46v0.87l-1.56 0.46l-1.56 -0.46v-0.87z" fill="#306a8d"/>
<path d="M113.00 95.10l1.56 0.46v0.87l-1.56 0.46l-1.56 -0.46v-0.87zM108.50 99.00l1.56 0.46v0.87l-1.56 0.46l-1.56 -0.46v-0.87zM104.00 102.90l1.56 0.46v0.87l-1.56 0.46l-1.56 -0.46v-0.87zM113.00 102.90l1.56 0.46v0.87l-1.56 0.46l-1.56 -0.46v-0.87zM102.50 104.20l1.56 0.46v0.87l-1.56 0.46l-1.56 -0.46v-0.87zM108.50 104.20l1.56 0.46v0.87l-1.56 0.46l-1.56 -0.46v-0.87zM107.00 105.50l1.56 0.46v0.87l-1.56 0.46l-1.56 -0.46v-0.87zM96.50 109.40l1.56 0.46v0.87l-1.56 0.46l-1.56 -0.46v-0.87zM92.00 115.90l1.56 0.46v0.87l-1.56 0.46l-1.56 -0.46v-0.87zM90.50 117.20l1.56 0.46v0.87l-1.56 0.46l-1.56 -0.46v-0.87zM89.00 118.50l1.56 0.46v0.87l-1.56 0.46l-1.56 -0.46v-0.87zM87.50 119.80l1.56 0.46v0.87l-1.56 0.46l-1.56 -0.46v-0.87z" fill="#277f8d"/>
<path d="M111.50 96.40l1.56 0.46v0.87l-1.56 0.46l-1.56 -0.46v-0.87z" fill="#22a186"/>
<path d="M110.00 97.70l1.56 0.46v0.87l-1.56 0.46l-1.56 -0.46v-0.87zM116.00 97.70l1.56 0.46v0.87l-1.56 0.46l-1.56 -0.46v-0.87zM105.50 104.20l1.56 0.46v0.87l-1.56 0.46l-1.56 -0.46v-0.87zM102.50 106.80l1.56 0.46v0.87l-1.56 0.46l-1.56 -0.46v-0.87z" fill="#219b89"/>
<path d="M111.50 99.00l1.56 0.46v0.87l-1.56 0.46l-1.56 -0.46v-0.87zM105.50 101.60l1.56 0.46v0.87l-1.56 0.46l-1.56 -0.46v-0.87z" fill="#21948b"/>
<path d="M107.00 100.30l1.56 0.46v0.87l-1.56 0.46l-1.56 -0.46v-0.87zM104.00 108.10l1.56 0.46v0.87l-1.56 0.46l-1.56 -0.46v-0.87zM95.00 110.70l1.56 0.46v0.87l-1.56 0.46l-1.56 -0.46v-0.87zM98.00 110.70l1.56 0.46v0.87l-1.56 0.46l-1.56 -0.46v-0.87zM95.00 113.30l1.56 0.46v0.87l-1.56 0.46l-1.56 -0.46v-0.87z" fill="#228d8c"/>
<path d="M110.00 100.30l1.56 0.46v0.87l-1.56 0.46l-1.56 -0.46v-0.87z" fill="#ebe525"/>
<path d="M99.50 106.80l1.56 0.46v0.87l-1.56 0.46l-1.56 -0.46v-0.87z" fill="#2caf7e"/>
<path d="M199.1 26h0M210.9 23h0M210.9 29.3h0" stroke="#3a0a55" stroke-width="1.7" stroke-linecap="round"/>
<line x1="47" y1="149.26" x2="128" y2="88.19" stroke="#7070c0" stroke-width="0.8" opacity="0.25"/>
<line x1="128" y1="88.19" x2="210.6" y2="25.91" stroke="#7c7cc6" stroke-width="1.1" opacity="0.95"/>
<defs><linearGradient id="vg" x1="0" y1="1" x2="0" y2="0">
<stop offset="0.00" stop-color="#440154"/>
<stop offset="0.10" stop-color="#482475"/>
<stop offset="0.20" stop-color="#414487"/>
<stop offset="0.30" stop-color="#355f8d"/>
<stop offset="0.40" stop-color="#2a788e"/>
<stop offset="0.50" stop-color="#21918c"/>
<stop offset="0.60" stop-color="#22a884"/>
<stop offset="0.70" stop-color="#44bf70"/>
<stop offset="0.80" stop-color="#7ad151"/>
<stop offset="0.90" stop-color="#bddf26"/>
<stop offset="1.00" stop-color="#fde725"/>
</linearGradient></defs>
<rect x="228.3" y="75.3" width="6.6" height="33.7" fill="url(#vg)"/>
<line x1="228.3" y1="81.2" x2="229.6" y2="81.2" stroke="#fff" stroke-width="0.5"/>
<line x1="233.6" y1="81.2" x2="234.9" y2="81.2" stroke="#fff" stroke-width="0.5"/>
<line x1="228.3" y1="90.7" x2="229.6" y2="90.7" stroke="#fff" stroke-width="0.5"/>
<line x1="233.6" y1="90.7" x2="234.9" y2="90.7" stroke="#fff" stroke-width="0.5"/>
<line x1="228.3" y1="100.2" x2="229.6" y2="100.2" stroke="#fff" stroke-width="0.5"/>
<line x1="233.6" y1="100.2" x2="234.9" y2="100.2" stroke="#fff" stroke-width="0.5"/></g>
<g><path d="M388.25 150.60V148.80H390.20V146.00H392.15V134.80H394.10V111.20H396.05V72.70H398.00V43.20H399.95V22.10H401.90V50.60H403.85V90.60H405.80V114.80H407.75V129.50H409.70V138.00H411.65V142.50H413.60V144.50H415.55V145.80H417.50V146.40H419.45V147.30H421.40V148.00H423.35V148.40H425.30V148.30H427.25V147.80H429.20V148.20H431.15V148.60H433.10V149.10H435.05V149.40H437.00V149.30H438.95V148.60H440.90V149.60H442.85V149.70H444.80V149.80H446.75V149.70H448.70V149.90H450.65V149.80H452.60V149.90H454.55V150.60Z" fill="#c20a2a"/>
<rect x="330.60" y="149.60" width="1.00" height="1.00" fill="#b8182e"/>
<rect x="334.60" y="149.40" width="5.40" height="1.20" fill="#b8182e"/>
<rect x="340.00" y="149.00" width="3.50" height="1.60" fill="#b8182e"/>
<rect x="343.50" y="149.40" width="6.10" height="1.20" fill="#b8182e"/>
<rect x="352.00" y="149.50" width="6.50" height="1.10" fill="#b8182e"/>
<rect x="363.00" y="149.60" width="2.00" height="1.00" fill="#b8182e"/>
<rect x="372.00" y="149.60" width="3.00" height="1.00" fill="#b8182e"/>
<rect x="380.00" y="149.50" width="4.00" height="1.10" fill="#b8182e"/>
<rect x="384.00" y="149.20" width="4.25" height="1.40" fill="#b8182e"/>
<rect x="455.00" y="149.60" width="1.00" height="1.00" fill="#b8182e"/>
<rect x="458.00" y="149.50" width="5.00" height="1.10" fill="#b8182e"/>
<rect x="467.00" y="149.60" width="3.00" height="1.00" fill="#b8182e"/>
<rect x="478.00" y="149.60" width="3.00" height="1.00" fill="#b8182e"/>
<rect x="487.00" y="149.60" width="1.00" height="1.00" fill="#b8182e"/>
<rect x="490.00" y="149.50" width="7.00" height="1.10" fill="#b8182e"/></g>
<g fill="#c8102e"><path d="M147.8 270.2h0M141.4 292.0h0M142.0 335.8h0M141.4 310.7h0M120.8 270.6h0M101.2 286.7h0M127.1 348.9h0M161.2 337.8h0M142.0 298.0h0M149.2 292.4h0M140.8 341.2h0M121.9 273.0h0M116.9 261.7h0M127.5 320.3h0M148.7 308.7h0M140.8 318.7h0M118.2 259.1h0M119.6 275.9h0M127.3 345.3h0M140.4 306.7h0M143.5 300.3h0M133.5 335.7h0M105.9 348.0h0M141.0 280.5h0M161.6 336.8h0M132.6 307.8h0M102.0 312.6h0M118.3 261.7h0M156.3 306.2h0M137.3 343.6h0M143.5 324.4h0M135.4 327.2h0M141.9 328.5h0M132.2 310.4h0M124.1 349.1h0M139.7 346.9h0M156.9 316.3h0M144.8 294.2h0M103.4 351.4h0M131.7 270.5h0M117.1 350.8h0M131.1 331.0h0M133.7 301.2h0M150.2 289.6h0M154.5 338.5h0M155.6 327.5h0M126.1 279.7h0M134.4 314.2h0M158.0 302.3h0M131.4 347.3h0M120.0 275.7h0M151.5 343.4h0M139.1 338.1h0M147.1 309.4h0M137.0 309.1h0M128.2 283.4h0M146.0 287.9h0M100.9 297.7h0M104.6 263.1h0M151.1 338.7h0M138.6 301.3h0M135.8 298.2h0M154.2 336.0h0M124.0 295.8h0M130.7 341.3h0M149.4 305.0h0M143.1 294.4h0M142.3 307.8h0M159.0 332.5h0M135.1 313.3h0M138.6 321.6h0M153.1 315.6h0M156.8 299.4h0M140.5 327.8h0M137.3 332.0h0M125.0 320.1h0M152.5 293.2h0M138.1 317.6h0M156.5 284.0h0M153.8 323.8h0M135.1 286.9h0M129.8 344.2h0M150.5 327.6h0M137.4 307.6h0M146.1 275.1h0M147.3 342.1h0M148.1 325.5h0M56.9 268.6h0M59.9 278.7h0M58.9 283.3h0M102.2 268.6h0M70.5 290.9h0M65.0 294.5h0M52.8 301.3h0M58.7 303.3h0M56.1 307.1h0M58.1 307.3h0M79.0 302.1h0M88.2 299.2h0M89.2 294.8h0M93.2 302.1h0M96.7 302.1h0M99.1 293.9h0M63.6 311.2h0M53.8 315.1h0M55.4 315.9h0M61.7 315.5h0M58.7 318.5h0M64.6 318.1h0M69.1 321.8h0M94.2 311.2h0M99.1 322.0h0M62.3 329.9h0M64.2 330.9h0M55.8 333.8h0M60.3 333.2h0M78.0 334.8h0M61.3 337.2h0M64.6 338.8h0M72.1 338.2h0M49.8 342.7h0M55.4 345.7h0M58.7 344.7h0M49.5 349.0h0M54.2 350.6h0M73.9 347.0h0M96.1 341.7h0M100.1 341.1h0M99.1 350.0h0M102.6 349.6h0M101.0 287.0h0M70.7 291.2h0M64.9 294.8h0M89.2 295.0h0M98.8 294.1h0M87.6 299.2h0M120.9 230.5h0M127.0 247.5h0M129.6 257.2h0M121.8 259.4h0M144.5 254.8h0M144.9 265.0h0M123.7 266.2h0M131.0 272.9h0M136.9 270.1h0M138.4 275.1h0M150.4 277.9h0M138.0 280.6h0M154.1 282.1h0M137.5 283.4h0M164.2 285.8h0M151.7 284.7h0M164.3 285.0h0M178.7 301.7h0M181.1 313.2h0M167.3 302.7h0M166.9 309.0h0M170.8 316.5h0M172.2 324.4h0M160.4 318.9h0M164.3 329.3h0M171.6 342.1h0M153.5 350.0h0M154.5 353.0h0M157.4 335.2h0M150.5 331.3h0M163.3 293.9h0M154.5 295.8h0M156.4 305.7h0M159.4 307.7h0M207.3 262.6h0M216.1 271.4h0M215.0 274.5h0M240.4 277.7h0M194.7 285.2h0M215.9 282.5h0M220.1 283.4h0M222.9 285.2h0M194.4 288.9h0M199.7 292.9h0M200.9 295.3h0M210.2 298.0h0M217.5 298.8h0M220.8 300.4h0M190.3 305.7h0M231.7 307.9h0M227.7 311.6h0M191.8 312.6h0M205.2 317.9h0M213.1 317.1h0M215.1 316.2h0M191.4 323.3h0M197.7 325.0h0M198.1 338.6h0M205.6 339.2h0M219.4 343.8h0M226.9 345.1h0M113.8 223.9h0M113.4 227.1h0M104.6 234.8h0M112.2 242.3h0M117.3 242.4h0M116.0 245.2h0M106.7 249.0h0M109.0 247.3h0M113.6 247.8h0M118.8 253.6h0M129.7 257.4h0M122.3 259.4h0" stroke="#600516" stroke-width="1.80" stroke-linecap="round" fill="none"/>
<path d="M130.1 323.0h0M102.7 333.2h0M124.3 340.5h0M124.7 324.9h0M123.1 321.6h0M122.5 290.4h0M128.1 336.6h0M102.9 323.4h0M125.1 341.6h0M103.8 270.6h0M103.5 324.0h0M119.3 282.7h0M130.1 292.6h0M126.2 332.7h0M127.4 339.6h0M126.6 322.1h0M124.4 344.1h0M106.5 256.5h0M131.1 322.4h0M121.1 347.4h0M125.6 292.2h0M118.3 344.9h0M124.3 323.9h0M121.0 296.7h0M132.1 316.5h0M156.8 332.8h0M121.5 349.7h0M129.1 337.2h0M119.7 280.4h0M123.3 285.8h0M121.5 349.5h0M129.7 292.7h0M133.0 331.0h0M128.0 317.1h0M117.7 278.3h0M120.3 350.5h0M103.6 327.4h0M127.0 331.7h0M132.4 323.6h0M122.8 291.0h0M127.7 297.6h0M134.1 329.4h0M125.7 293.8h0M126.1 303.5h0M122.7 281.3h0M131.5 307.2h0M124.9 347.8h0M130.4 313.5h0M128.3 305.5h0M103.6 327.3h0M102.1 292.2h0M126.4 292.2h0M126.7 338.8h0M127.1 333.5h0M129.6 299.7h0M122.0 270.5h0M133.9 330.6h0M121.3 281.4h0M128.2 325.8h0M132.8 336.4h0M129.2 306.3h0M130.0 300.6h0M135.4 327.8h0M115.1 259.7h0M121.7 341.8h0M131.1 317.9h0M124.0 334.6h0M125.4 306.5h0M129.2 327.0h0M111.9 251.0h0M136.1 318.6h0M130.5 311.9h0M125.0 304.0h0M120.8 286.9h0M125.9 343.4h0M104.8 344.5h0M135.2 320.7h0M118.8 338.6h0M129.7 322.8h0M128.6 305.7h0M125.0 323.8h0M103.9 340.3h0M124.8 327.5h0M120.8 347.3h0M128.3 327.3h0M130.6 337.5h0M137.5 320.5h0M115.8 264.9h0M123.8 283.3h0M106.2 348.8h0M114.3 350.9h0M127.0 317.0h0M128.2 312.0h0M129.8 325.5h0M112.7 250.3h0M128.8 295.7h0M118.6 349.6h0M129.7 294.1h0M128.6 333.8h0M128.0 297.4h0M119.9 343.3h0M129.4 303.1h0M131.8 317.6h0M118.3 249.3h0M127.2 300.9h0M134.1 298.9h0M115.7 265.2h0M125.4 284.8h0M103.4 275.0h0M62.6 337.8h0M117.3 249.6h0M119.7 249.6h0M108.4 250.7h0M111.9 251.3h0" stroke="#960a20" stroke-width="1.80" stroke-linecap="round" fill="none"/>
<path d="M115.9 317.4h0M116.5 321.7h0M110.8 305.7h0M109.2 286.0h0M105.4 308.9h0M112.3 321.1h0M111.8 305.8h0M106.4 328.1h0M106.7 324.6h0M112.8 278.4h0M109.3 321.2h0M111.0 289.5h0M119.5 314.5h0M118.3 317.3h0M111.8 270.8h0M110.7 296.0h0M113.4 291.4h0M107.0 277.3h0M110.6 279.4h0M108.6 298.7h0M117.2 289.1h0M106.7 299.0h0M112.8 291.0h0M116.4 289.6h0M109.7 287.7h0M120.6 339.4h0M117.0 293.8h0M103.5 302.5h0M112.5 319.8h0M110.6 270.2h0M111.0 294.9h0M107.7 280.8h0M109.4 307.1h0M115.4 306.9h0M110.5 264.4h0M108.1 279.6h0M113.2 284.5h0M112.2 323.9h0M113.9 253.7h0M109.5 303.5h0M109.1 289.2h0M116.1 306.5h0M111.8 286.5h0M111.2 347.1h0M110.0 304.9h0M103.5 291.7h0M106.5 304.7h0M115.6 283.3h0M109.5 297.7h0M111.5 304.9h0M110.6 309.2h0M108.9 319.4h0M115.7 301.7h0M113.8 345.5h0M113.1 316.6h0M111.1 331.4h0M109.2 304.0h0M112.4 288.1h0M108.0 302.4h0M113.8 307.5h0M113.7 290.7h0M110.2 290.3h0M117.1 329.6h0M107.8 339.4h0M112.0 337.6h0M114.9 294.9h0M112.1 294.5h0M114.5 342.7h0M113.8 319.9h0M112.2 282.3h0M115.3 289.2h0M107.6 285.2h0M112.8 288.6h0M117.1 318.1h0M112.1 295.8h0M111.0 263.1h0M110.4 310.9h0M109.4 343.3h0M110.8 325.5h0M110.5 343.2h0M112.3 274.8h0M121.3 300.2h0M109.7 272.0h0M108.3 303.7h0M114.2 282.5h0M107.5 306.6h0M110.8 321.3h0M106.3 304.8h0M118.7 329.7h0M116.8 311.9h0M107.8 291.7h0M111.9 328.3h0M109.4 255.4h0M112.0 327.5h0M112.0 289.8h0M108.6 279.3h0M115.9 286.9h0M108.8 307.4h0M110.5 279.0h0M107.0 262.1h0M108.2 308.3h0M109.1 298.9h0M123.3 337.2h0M120.1 318.7h0M110.7 275.9h0M112.0 286.4h0M113.2 283.2h0M117.3 321.7h0M109.5 300.5h0M114.9 298.2h0M111.1 309.7h0M113.6 315.7h0M112.3 286.1h0M111.5 269.6h0M112.7 300.3h0M113.2 292.0h0M104.5 311.1h0M107.4 271.4h0M107.3 335.0h0M109.4 300.3h0M106.9 332.7h0M105.3 315.0h0M109.1 300.3h0M112.6 281.5h0M117.1 299.2h0M108.8 282.6h0M109.5 342.0h0M111.3 284.3h0M112.9 304.1h0M115.3 285.0h0M124.6 302.1h0M110.3 306.8h0M113.7 304.8h0M109.3 328.2h0M114.7 303.4h0M109.7 292.1h0M117.8 311.6h0M110.5 289.4h0M113.1 264.8h0M110.8 281.3h0M109.7 289.7h0M111.8 325.5h0M106.0 303.8h0M106.6 284.5h0M112.4 342.8h0M111.8 329.6h0M116.3 293.5h0M112.1 304.1h0M110.7 291.1h0M112.3 278.5h0M112.9 298.2h0M111.8 305.5h0M111.2 310.3h0M110.8 307.1h0M113.0 327.3h0M108.9 337.9h0M111.2 302.5h0M112.9 318.6h0M107.7 332.3h0M115.7 286.9h0M109.6 297.4h0M111.0 253.5h0M108.9 312.5h0M106.1 322.2h0M105.1 272.9h0M110.5 254.6h0M118.9 310.5h0M108.4 351.2h0M112.6 255.8h0M110.2 330.4h0M106.1 312.6h0M107.1 317.7h0M112.6 299.8h0M110.7 301.0h0M110.6 255.3h0M110.9 340.6h0M109.5 288.0h0M111.1 284.9h0M121.7 313.8h0M108.2 294.3h0M113.4 273.4h0M110.0 276.3h0M106.9 308.3h0M109.3 330.4h0M108.0 289.0h0M109.9 313.2h0M107.5 329.0h0M106.1 277.1h0M109.4 290.0h0M110.6 296.8h0M114.2 337.8h0M121.7 323.7h0M108.8 313.5h0M113.6 292.8h0M122.4 330.2h0M107.3 289.1h0M116.6 296.5h0M110.6 304.2h0M116.9 341.4h0M108.8 295.7h0M112.4 320.2h0M111.4 313.2h0M107.7 279.4h0M114.7 310.9h0M114.6 278.5h0M111.4 293.3h0M111.0 299.7h0M125.0 329.3h0M109.4 300.4h0M116.3 293.3h0M111.0 290.0h0M109.0 292.6h0M108.6 307.0h0M106.7 271.8h0M109.4 286.4h0M108.7 302.5h0M105.1 317.9h0M112.1 322.7h0M110.8 286.3h0M103.7 301.2h0M107.7 300.7h0M120.4 306.1h0M107.5 306.2h0M109.7 275.7h0M107.2 287.2h0M111.9 327.3h0M116.3 309.1h0M104.0 314.2h0M106.8 309.9h0M122.5 313.5h0M113.6 319.0h0M109.5 327.0h0M110.4 290.5h0M108.7 333.8h0M121.0 310.6h0M105.3 298.5h0M111.4 254.5h0M107.6 281.4h0M110.5 298.2h0M117.0 322.1h0M112.7 287.1h0M107.2 287.5h0M110.0 306.5h0M110.5 270.3h0M110.3 292.2h0M113.6 332.9h0M116.3 336.9h0M109.4 289.9h0M111.0 294.2h0M105.8 320.2h0M109.7 331.4h0M123.6 308.2h0M111.7 283.0h0M110.4 286.6h0M112.5 330.6h0M110.3 315.7h0M115.0 284.9h0M109.5 341.1h0M109.7 296.4h0M116.4 285.0h0M110.7 327.7h0M107.8 287.9h0M114.7 291.3h0M111.0 318.0h0M111.9 296.3h0M117.4 332.3h0M108.1 323.2h0M110.4 291.7h0M109.1 305.3h0M110.0 302.6h0M115.0 279.9h0M110.5 300.6h0M116.9 340.9h0M103.4 299.2h0M113.0 302.7h0M107.1 318.9h0M112.6 294.7h0M108.2 283.7h0M109.5 315.1h0M105.2 296.5h0M105.6 314.0h0M107.7 334.9h0M108.0 323.5h0M116.6 277.5h0M108.9 282.7h0M113.5 272.4h0M103.6 291.5h0M105.9 286.9h0M106.4 314.5h0M116.1 313.6h0M122.3 310.9h0M108.9 304.7h0M108.8 333.7h0M113.5 314.1h0M108.3 321.7h0M110.2 269.4h0M110.9 315.6h0M111.3 327.6h0M110.3 278.2h0M113.8 344.1h0M114.0 289.3h0M106.5 279.4h0M116.1 310.0h0M112.3 284.4h0M111.1 344.0h0M113.9 291.0h0M109.1 303.1h0M110.3 320.3h0M110.5 294.6h0M105.6 341.2h0M114.3 303.1h0M107.7 308.6h0M108.9 321.2h0M119.3 288.2h0M114.1 307.9h0M109.5 289.4h0M113.5 309.5h0M115.4 318.4h0M109.3 295.6h0M112.6 300.9h0M111.9 266.0h0M106.3 314.1h0M112.1 275.9h0M112.2 323.1h0M111.3 287.3h0M114.5 341.9h0M105.2 296.9h0M109.2 290.9h0M109.0 300.1h0M109.6 290.2h0M106.5 331.2h0M109.9 318.3h0M111.3 308.0h0M107.3 261.5h0M109.0 301.7h0M110.1 292.0h0M107.4 330.4h0M116.8 332.4h0M118.2 286.2h0M111.0 308.7h0M106.5 294.2h0M109.0 325.1h0M111.6 291.4h0M109.9 334.9h0M112.6 343.2h0M114.3 275.1h0M118.5 295.5h0M111.7 306.7h0M108.9 297.7h0M121.3 314.0h0M117.1 298.6h0M107.9 268.1h0M107.1 316.1h0M112.8 281.2h0M114.8 289.1h0M104.9 298.2h0M107.5 306.7h0M112.0 307.4h0M111.5 268.0h0M116.1 307.2h0M110.5 311.7h0M111.2 319.8h0M110.3 268.8h0M113.4 308.5h0M113.8 309.0h0M124.9 314.3h0M108.0 311.0h0M107.8 279.0h0M109.3 284.0h0M110.0 328.7h0M111.9 322.3h0M108.4 312.7h0M112.6 295.3h0M115.0 286.4h0M104.9 272.2h0M120.4 312.3h0M107.1 264.3h0M109.9 302.9h0M110.9 284.6h0M110.8 294.1h0M108.8 290.9h0M112.9 344.4h0M118.4 347.7h0M109.0 277.1h0M107.8 325.2h0M111.9 317.6h0M108.4 329.9h0M117.0 310.0h0M110.4 293.9h0M117.1 334.1h0M110.5 290.2h0M110.9 281.3h0M107.5 315.1h0M105.3 296.5h0M112.3 289.3h0M107.0 298.5h0M111.8 322.0h0M110.8 303.1h0M119.8 320.3h0M109.9 301.1h0M104.1 287.5h0M109.4 284.8h0M112.0 295.0h0M108.4 288.9h0M108.8 292.7h0M112.4 318.0h0M108.7 306.1h0M109.4 305.6h0M109.8 283.5h0M111.8 293.8h0M108.4 288.2h0M118.8 320.3h0M115.1 345.8h0M113.7 327.5h0M110.8 281.7h0M112.0 294.8h0M107.6 318.5h0M110.7 297.2h0M112.6 275.2h0M110.4 275.0h0M111.6 316.6h0M115.9 287.3h0M104.2 318.7h0M107.5 325.1h0M125.4 300.0h0M112.4 284.5h0M116.9 340.2h0M111.6 300.5h0M105.4 313.2h0M110.7 312.8h0M114.1 300.4h0M105.8 305.8h0M111.7 320.2h0M125.0 313.1h0M107.9 262.1h0M106.2 294.4h0M108.4 291.2h0M112.2 293.2h0M121.2 338.8h0M108.0 265.8h0M117.2 318.5h0M110.1 274.4h0M110.9 290.0h0M116.7 314.7h0M108.2 283.2h0M111.0 332.8h0M117.5 325.8h0M108.9 295.5h0M116.1 295.1h0M111.3 292.9h0M111.4 284.8h0M115.6 286.4h0M105.9 305.4h0M108.6 317.3h0M107.2 283.9h0M110.5 318.4h0M110.6 317.0h0M109.4 336.4h0M111.6 289.5h0M113.2 273.6h0M111.6 302.0h0M108.7 315.1h0M113.0 278.4h0M112.5 281.2h0M111.7 274.3h0M112.2 316.3h0M108.5 274.6h0M118.2 304.8h0M109.1 302.0h0M110.1 296.5h0M109.3 302.4h0M109.0 272.6h0M111.2 281.4h0M110.8 310.4h0M113.8 342.5h0M110.9 319.7h0M114.2 304.0h0M103.5 308.1h0M110.9 335.7h0M112.0 328.7h0M110.7 261.9h0M110.1 301.9h0M115.3 331.3h0M111.2 284.6h0M108.3 304.8h0M109.2 297.8h0M111.6 350.9h0M109.7 337.0h0M107.9 287.0h0M119.4 303.5h0M107.5 290.3h0M114.0 325.7h0M111.6 314.4h0M111.8 280.4h0M114.0 300.9h0M105.3 276.3h0M112.3 329.6h0M111.2 309.4h0M112.2 324.2h0M104.2 272.5h0M104.0 302.8h0M110.5 345.2h0M111.8 289.8h0M108.9 300.3h0M107.7 290.3h0M110.3 286.4h0M112.7 305.5h0M116.3 298.0h0M115.2 282.9h0M102.7 283.8h0M109.8 314.6h0M111.4 336.1h0M116.3 311.5h0M110.4 314.0h0M114.4 288.0h0M113.2 295.0h0M105.9 283.7h0M110.7 303.3h0M114.3 331.3h0M108.7 333.7h0M119.1 306.1h0M110.0 299.4h0M110.7 276.0h0M106.8 289.4h0M115.5 310.4h0M114.2 309.3h0M109.5 318.9h0M114.0 285.3h0M112.0 297.8h0M116.8 324.1h0M107.6 311.1h0M110.2 253.4h0M116.8 302.3h0M106.0 321.9h0M107.9 317.0h0M116.0 313.7h0M109.8 288.4h0M108.7 289.1h0M106.4 307.4h0M108.5 293.3h0M104.6 329.0h0M113.2 320.2h0M112.9 321.8h0M107.6 281.9h0M118.1 330.4h0M111.6 306.9h0M114.1 306.5h0M114.1 322.9h0M107.1 289.3h0M114.7 288.5h0M111.6 294.5h0M111.1 275.1h0M107.7 297.4h0M110.1 256.2h0M110.4 337.4h0M114.8 343.7h0M110.4 319.8h0M110.8 307.7h0M113.6 257.7h0M110.8 285.8h0M105.0 283.4h0M110.6 308.0h0M124.5 298.6h0M106.3 313.6h0M111.2 325.9h0M112.0 273.4h0M111.0 267.5h0M107.6 287.5h0M110.5 325.9h0M106.8 309.2h0M106.4 306.4h0M108.7 298.6h0M108.5 330.8h0M111.8 280.1h0M109.5 285.2h0M108.6 312.5h0M117.8 334.0h0M110.3 307.7h0M114.3 272.7h0M117.1 304.9h0M115.2 265.3h0M107.4 323.5h0M121.2 319.0h0M108.0 301.2h0M113.6 316.9h0M106.2 276.3h0M110.1 259.0h0M106.9 294.8h0M114.0 293.3h0M109.9 257.2h0M110.4 306.4h0M109.5 325.4h0M111.7 339.1h0M119.9 330.7h0M114.1 303.3h0M110.3 323.8h0M112.7 337.3h0M109.3 305.8h0M107.0 316.9h0M109.1 311.4h0M108.1 321.4h0M110.6 285.8h0M114.2 262.9h0M114.9 298.3h0M108.0 302.4h0M107.3 300.2h0M110.2 323.4h0M116.8 297.4h0M110.5 318.6h0M110.8 318.1h0M109.5 306.1h0M110.5 296.8h0M113.1 271.5h0M109.5 275.4h0M112.6 317.6h0M114.8 288.4h0M108.6 294.1h0M111.3 319.3h0M107.8 318.9h0M109.8 291.1h0M106.5 266.0h0M105.3 291.4h0M106.4 281.2h0M120.0 329.8h0M112.1 262.7h0M112.9 305.1h0M116.2 312.8h0M108.6 258.3h0M109.4 309.8h0M113.3 308.7h0M119.1 340.9h0M111.1 315.5h0M108.5 322.5h0M105.9 307.6h0M106.3 338.8h0M114.2 289.3h0M121.0 340.8h0M108.4 264.2h0M114.8 289.2h0M105.9 335.4h0M117.8 329.2h0M113.7 297.8h0M111.9 295.2h0M110.6 320.5h0M110.2 267.3h0M123.6 316.6h0M109.6 335.4h0M109.2 269.9h0M116.2 342.5h0M110.6 345.7h0M111.3 288.7h0M111.3 276.0h0M107.4 302.4h0M107.1 313.9h0M112.5 295.1h0M112.3 276.5h0M110.9 331.4h0M109.0 286.3h0M107.9 277.2h0M112.3 283.4h0M104.8 318.4h0M104.8 290.2h0M108.7 291.3h0M113.5 325.6h0M120.7 293.0h0M111.2 310.8h0M110.2 312.3h0M128.0 325.1h0M109.2 288.0h0M111.1 270.5h0M110.9 292.1h0M107.4 276.1h0M107.0 325.0h0M103.8 310.2h0M116.1 348.3h0M110.1 321.2h0M113.6 297.9h0M111.3 336.1h0M111.3 284.0h0M118.7 330.5h0M110.4 328.9h0M107.3 296.9h0M112.7 284.9h0M106.1 303.5h0M111.5 292.6h0M110.2 305.3h0M112.3 315.0h0M112.8 310.9h0M118.4 306.0h0M114.8 311.1h0M117.1 342.7h0M110.3 309.1h0M109.4 289.4h0M105.0 331.2h0M111.6 305.9h0M106.6 332.8h0M109.4 341.4h0M110.7 300.5h0M110.5 329.6h0M116.5 325.1h0M110.9 287.1h0M113.5 290.0h0M105.0 322.5h0M112.9 258.6h0M116.2 293.7h0M104.4 290.1h0M109.9 299.5h0M114.3 303.4h0M108.0 349.7h0M114.5 274.2h0M130.2 317.1h0M114.5 281.1h0M114.5 324.3h0M114.8 323.1h0M119.7 284.8h0M109.5 310.0h0M112.4 291.8h0M107.4 301.8h0M106.5 312.4h0M109.9 273.3h0M110.6 269.8h0M110.4 279.1h0M111.8 288.6h0M109.9 316.1h0M113.9 324.5h0M111.2 342.2h0M114.3 282.4h0M114.5 321.9h0M112.5 285.0h0M105.7 263.9h0M114.8 339.6h0M121.2 328.4h0M107.3 285.2h0M115.4 297.8h0M116.9 322.5h0M114.3 326.9h0M109.6 322.1h0M109.7 286.1h0M112.0 302.9h0M110.7 272.5h0M116.0 293.0h0M111.9 334.8h0M107.6 309.5h0M108.9 262.5h0M119.0 291.8h0M111.7 275.8h0M108.5 315.6h0M111.0 288.9h0M110.7 301.8h0M114.9 276.9h0M109.1 315.3h0M105.8 338.3h0M119.5 314.0h0M110.3 302.1h0M107.2 291.9h0M113.2 295.8h0M111.2 261.0h0M113.8 317.7h0M107.9 284.9h0M111.5 308.3h0M119.5 304.8h0M114.6 325.9h0M123.2 317.8h0M116.7 319.1h0M107.9 275.6h0M112.8 318.5h0M107.1 313.9h0M105.5 299.7h0M112.3 292.0h0M104.1 311.2h0M106.6 314.9h0M111.6 302.3h0M107.0 306.1h0M112.4 293.7h0M108.7 287.3h0M109.6 271.9h0M111.0 327.0h0M111.0 312.6h0M118.7 306.8h0M115.6 295.7h0M123.4 311.6h0M108.4 288.4h0M106.5 323.3h0M114.6 308.7h0M112.1 305.2h0M105.9 298.1h0M112.0 284.1h0M109.0 334.7h0M109.4 299.7h0M114.0 324.5h0M112.6 288.7h0M109.4 307.6h0M113.1 329.1h0M110.2 272.8h0M116.1 284.5h0M111.5 280.5h0M111.0 310.9h0M108.1 263.2h0M111.6 291.6h0M109.9 269.0h0M113.3 263.7h0M108.0 295.6h0M111.6 331.8h0M110.6 330.2h0M113.0 276.9h0M111.5 265.4h0M108.9 259.8h0M107.4 318.3h0M113.5 323.9h0M121.9 335.6h0M105.5 296.1h0M110.7 271.2h0M108.9 308.8h0M112.8 301.1h0M111.4 337.5h0M112.1 301.4h0M116.1 324.4h0M112.6 286.6h0M109.3 313.4h0M122.7 314.7h0M112.3 288.7h0M108.3 303.0h0M113.2 328.4h0M103.2 323.2h0M109.2 278.7h0M111.3 333.2h0M111.4 339.4h0M114.8 287.6h0M111.1 314.8h0M112.6 280.3h0M111.7 306.9h0M112.6 301.6h0M107.2 311.2h0M120.3 315.5h0M116.8 292.5h0M120.3 326.4h0M113.6 277.7h0M109.7 303.3h0M120.7 313.9h0M115.9 316.3h0M111.4 281.0h0M108.6 269.4h0M130.8 315.3h0M108.8 289.9h0M108.8 256.5h0M110.5 324.2h0M118.5 312.4h0M109.5 300.0h0M107.3 281.6h0M116.3 306.2h0M112.2 319.0h0M110.4 302.6h0M112.2 291.3h0M116.4 304.3h0M116.5 311.5h0M109.2 322.8h0M109.2 289.7h0M116.9 283.4h0M111.9 289.8h0M108.8 290.5h0M119.5 301.1h0M109.7 346.2h0M112.1 289.2h0M113.6 290.2h0M115.2 322.3h0M114.3 301.5h0M114.1 296.2h0M108.4 266.9h0M109.4 272.2h0M116.0 319.0h0M112.0 311.9h0M120.5 317.1h0M105.7 282.5h0M110.6 308.1h0M109.7 303.1h0M107.0 304.4h0M107.3 264.6h0M116.0 336.5h0M117.7 291.3h0M111.6 329.1h0M108.9 272.3h0M111.9 288.3h0M108.7 309.3h0M108.0 315.3h0M112.0 311.7h0M111.6 264.3h0M115.8 310.9h0M105.4 285.0h0M107.7 340.5h0M112.0 296.7h0M114.2 299.7h0M111.2 310.8h0M110.4 310.9h0M105.2 289.0h0M112.2 308.3h0M117.2 302.8h0M107.4 275.7h0M111.5 266.3h0M103.8 318.9h0M109.0 308.0h0M108.6 261.8h0M116.7 320.1h0M109.5 303.1h0M111.3 292.7h0M113.6 302.2h0M104.3 281.1h0M108.7 274.5h0M115.6 312.0h0M109.0 344.4h0M110.0 328.5h0M119.9 325.2h0M113.8 321.0h0M117.1 314.6h0M115.8 325.3h0M111.8 325.2h0M108.3 275.6h0M112.6 286.5h0M110.7 338.4h0M113.8 283.2h0M112.3 260.9h0M115.5 332.4h0M105.3 305.1h0M107.2 315.4h0M118.3 332.5h0M112.8 281.6h0M118.7 307.8h0M106.7 310.4h0M111.6 297.4h0M103.8 300.9h0M108.3 296.5h0M105.5 314.8h0M108.1 286.0h0M110.3 300.6h0M107.3 277.0h0M114.1 305.9h0M113.6 324.8h0M112.2 285.5h0M109.8 278.6h0M108.8 344.8h0M110.1 302.6h0M114.6 312.6h0M113.3 300.8h0M114.0 285.9h0M109.4 274.0h0M108.3 339.8h0M111.8 309.4h0M121.0 317.8h0M109.6 313.1h0M114.3 287.5h0M114.2 309.4h0M108.8 315.4h0M112.6 327.7h0M121.6 313.7h0M107.9 293.3h0M109.0 305.7h0M110.5 320.2h0M107.9 326.8h0M110.7 294.5h0M112.4 288.8h0M114.9 269.3h0M112.4 290.4h0M111.5 307.6h0M124.0 327.0h0M108.6 277.2h0M112.6 262.5h0M109.7 281.4h0M107.1 297.9h0M108.6 349.2h0M107.0 296.6h0M110.5 308.7h0M113.8 304.7h0M109.4 299.3h0M122.2 336.2h0M116.5 301.9h0M108.7 305.5h0M114.5 312.7h0M112.5 326.3h0M108.2 270.1h0M112.9 283.2h0M112.6 294.6h0M117.6 287.5h0M109.1 298.7h0M107.3 280.4h0M111.9 280.8h0M115.7 273.9h0M107.4 307.3h0M107.2 336.1h0M108.6 280.1h0M115.0 330.7h0M108.2 258.5h0M117.3 308.3h0M111.5 311.9h0M103.4 297.1h0M105.9 306.1h0M108.6 336.1h0M106.1 306.2h0M107.6 312.0h0M106.9 274.5h0M107.3 320.2h0M107.7 319.3h0M111.5 321.6h0M116.3 301.0h0M117.0 322.5h0M111.4 299.4h0M105.3 317.2h0M124.3 309.7h0M106.7 278.3h0M104.1 330.6h0M114.4 290.6h0M113.8 298.1h0M115.1 310.9h0M109.6 297.1h0M121.0 319.7h0M118.8 320.8h0M106.0 334.6h0M116.4 307.9h0M116.1 287.6h0M111.2 283.3h0M116.7 316.4h0M120.8 306.7h0M120.0 292.0h0M109.3 336.3h0M108.3 278.4h0M114.0 316.4h0M112.2 319.9h0M117.1 302.6h0M111.4 272.2h0M107.0 320.4h0M110.1 316.0h0M128.7 315.9h0M113.1 326.1h0M107.1 293.6h0M108.1 267.9h0M110.7 251.1h0M123.5 303.8h0M111.2 319.0h0M109.8 310.8h0M107.5 306.5h0M109.0 288.7h0M110.9 304.5h0M109.2 325.0h0M108.1 279.1h0M117.4 333.9h0M114.0 298.9h0M113.4 318.5h0M109.8 287.1h0M110.9 322.7h0M117.2 300.6h0M109.9 303.0h0M110.9 310.8h0M107.3 343.2h0M110.8 319.4h0M105.6 308.2h0M114.6 276.5h0M106.9 274.5h0M109.0 311.5h0M125.0 308.1h0M108.3 303.7h0M114.1 284.0h0M106.9 302.7h0M110.5 309.1h0M117.0 341.7h0M116.0 315.1h0M115.2 319.3h0M110.2 280.0h0M110.6 323.5h0M107.3 289.6h0M112.9 294.0h0M112.0 308.4h0M111.6 292.8h0M113.3 289.3h0M109.9 316.0h0M109.4 282.9h0M120.1 307.6h0M107.8 289.5h0M125.7 315.7h0M110.5 306.2h0M110.9 283.8h0M110.4 325.8h0M104.8 310.7h0M110.0 331.0h0M110.6 339.1h0M105.2 314.7h0M104.2 316.4h0M104.4 293.3h0M114.1 293.6h0M104.3 279.5h0M112.2 265.1h0M112.8 254.6h0M105.9 310.2h0M111.8 331.4h0M107.7 296.0h0M117.9 286.3h0M109.7 309.8h0M107.7 329.5h0M111.0 256.7h0M109.3 294.2h0M107.1 304.3h0M114.4 273.8h0M109.5 275.2h0M118.9 290.8h0M112.5 280.2h0M117.9 316.5h0M113.6 297.7h0M117.1 304.3h0M109.7 267.2h0M120.1 304.7h0M111.8 315.5h0M122.4 305.2h0M112.0 297.9h0M109.3 350.3h0M117.6 317.4h0M109.6 304.5h0M110.8 287.0h0M116.8 319.4h0M111.6 301.7h0M113.7 282.4h0M107.2 300.1h0M107.2 301.2h0M107.9 282.0h0M107.9 272.4h0M104.4 281.7h0M105.7 290.4h0M111.0 278.5h0M113.5 314.4h0M115.3 267.1h0M109.8 268.7h0M110.8 275.4h0M110.3 291.2h0M111.1 314.4h0M117.9 297.0h0M111.5 321.1h0M114.5 300.3h0M118.0 304.8h0M110.8 328.3h0M110.2 303.1h0M108.1 311.2h0M113.6 290.2h0M114.6 276.5h0M112.2 291.1h0M110.0 337.6h0M112.5 306.0h0M109.0 271.7h0M114.6 311.4h0M123.3 299.1h0M110.2 318.0h0M113.1 308.3h0M110.9 292.0h0M109.1 341.4h0M119.1 308.4h0M109.4 350.6h0M116.9 315.9h0M116.2 308.8h0M108.8 278.5h0M114.5 294.7h0M109.1 311.2h0M109.7 279.6h0M110.3 325.9h0M110.4 304.9h0M111.1 305.2h0M115.2 300.9h0M108.7 310.6h0M107.9 321.7h0M110.7 301.9h0M111.8 308.0h0M108.5 293.1h0M113.9 299.5h0M111.9 263.2h0M112.7 305.2h0M106.4 309.2h0M110.5 279.3h0M105.6 291.5h0M109.1 327.4h0M114.6 332.2h0M114.7 270.8h0M109.2 281.8h0M119.9 312.4h0M122.6 329.6h0M121.8 319.1h0M112.2 309.1h0M113.9 325.4h0M110.6 318.4h0M106.9 272.6h0M109.1 314.4h0M118.2 293.0h0M108.0 293.8h0M111.1 304.6h0M113.3 299.8h0M110.4 299.7h0M112.6 324.0h0M110.9 349.5h0M107.0 312.8h0M106.6 284.1h0M111.4 272.9h0M112.2 272.1h0M111.0 269.1h0M106.9 297.3h0M105.4 331.5h0M116.8 310.2h0M120.7 324.0h0M119.3 303.6h0M111.8 321.9h0M111.1 308.8h0M113.6 316.8h0M111.9 319.3h0M111.7 278.5h0M114.8 297.5h0M116.5 340.3h0M106.2 319.3h0M119.6 314.9h0M111.1 316.9h0M112.5 339.2h0M113.6 288.5h0M108.8 303.1h0M113.5 287.2h0M110.5 292.4h0M107.6 305.0h0M108.2 290.5h0M115.4 312.5h0M111.2 266.0h0M111.2 306.7h0M110.1 284.4h0M113.4 295.2h0M112.9 337.2h0M114.6 291.1h0M109.0 306.1h0M114.2 318.0h0M111.6 326.7h0M108.4 325.1h0M117.7 294.3h0M113.1 287.4h0M111.2 325.7h0M112.3 333.7h0M111.2 277.3h0M111.2 325.7h0M111.8 302.6h0M114.9 316.2h0M109.2 285.9h0M116.7 325.6h0M109.6 256.9h0M115.5 337.7h0M114.4 309.5h0M108.9 278.2h0M108.8 325.1h0M111.0 279.2h0M115.5 321.1h0M107.3 336.5h0M107.3 291.8h0M109.7 286.7h0M111.5 266.7h0M112.3 288.7h0M110.3 343.9h0M112.3 277.8h0M109.6 336.2h0M109.8 323.4h0M116.0 294.4h0M111.1 317.7h0M110.4 305.4h0M111.3 308.1h0M108.3 320.4h0M111.1 316.4h0M106.8 291.0h0M108.3 307.4h0M112.8 308.7h0M116.2 299.1h0M128.5 301.3h0M115.9 300.8h0M110.6 301.2h0M107.0 305.6h0M107.8 275.2h0M110.1 257.6h0M122.4 333.2h0M110.7 307.1h0M111.6 280.6h0M110.9 321.5h0M107.0 295.4h0M113.5 284.3h0M103.9 332.7h0M112.5 328.0h0M109.4 295.8h0M128.4 337.7h0M114.1 316.8h0M111.6 270.6h0M108.3 266.6h0M110.2 306.9h0M109.9 289.6h0M121.0 293.2h0M110.5 296.6h0M111.5 308.6h0M110.7 320.2h0M109.6 298.1h0M113.5 284.0h0M110.6 323.6h0M111.1 274.9h0M112.5 274.7h0M113.2 289.2h0M107.7 287.4h0M120.3 322.7h0M108.0 289.8h0M111.1 323.3h0M120.2 299.8h0M110.2 342.2h0M110.5 294.9h0M112.4 289.1h0M110.0 309.8h0M111.7 330.5h0M114.5 332.2h0M108.2 284.2h0M113.5 262.8h0M111.5 332.7h0M114.7 285.1h0M111.2 279.6h0M111.1 327.6h0M106.7 299.8h0M109.6 300.0h0M105.8 337.2h0M110.7 318.9h0M113.1 271.6h0M110.3 310.9h0M120.1 315.9h0M127.6 335.8h0M109.6 269.6h0M109.7 297.8h0M108.4 283.4h0M109.9 304.1h0M112.2 279.4h0M115.1 319.3h0M111.8 326.3h0M112.3 328.3h0M123.8 312.7h0M106.5 333.6h0M111.8 333.8h0M109.6 299.1h0M113.7 281.2h0M109.7 289.1h0M108.1 288.7h0M123.0 322.1h0M107.3 319.8h0M108.9 323.5h0M109.1 284.8h0M110.3 292.0h0M111.2 273.1h0M116.7 320.5h0M115.6 323.2h0M115.5 308.7h0M112.2 309.8h0M109.3 288.6h0M111.0 336.2h0M116.3 331.7h0M109.4 274.8h0M107.4 287.2h0M113.9 326.5h0M113.6 285.1h0M111.4 260.8h0M112.2 318.0h0M108.8 323.1h0M119.9 325.8h0M111.8 271.0h0M121.0 322.0h0M115.3 301.6h0M115.8 295.7h0M107.9 309.4h0M108.1 279.4h0M109.4 333.3h0M123.1 302.1h0M107.2 306.6h0M105.9 312.5h0M108.4 301.4h0M109.5 321.3h0M113.6 303.9h0M106.9 315.7h0M113.6 275.9h0M112.6 313.8h0M114.2 303.1h0M114.0 273.3h0M110.0 302.5h0M124.7 300.8h0M112.1 290.1h0M113.2 268.4h0M115.1 278.4h0M109.0 283.9h0M115.2 300.0h0M106.2 303.6h0M110.8 296.3h0M110.6 281.5h0M105.6 303.3h0M110.5 330.0h0M113.3 309.7h0M108.6 310.7h0M112.8 298.5h0M116.5 305.1h0M115.8 311.5h0M115.7 310.2h0M116.7 318.5h0M110.6 327.8h0M115.8 329.2h0M112.3 315.1h0M108.6 297.3h0M111.2 277.8h0M113.3 326.5h0M111.5 317.3h0M113.4 279.7h0M111.0 309.7h0M113.7 334.9h0M110.8 335.9h0M105.9 324.9h0M110.4 324.9h0M108.7 332.9h0M114.3 322.8h0M108.6 287.1h0M106.9 312.7h0M107.1 267.5h0M114.7 279.4h0M114.4 281.2h0M109.0 290.5h0M108.2 319.6h0M109.6 278.5h0M113.6 319.3h0M107.3 326.9h0M107.3 276.8h0M108.8 325.7h0M107.5 317.9h0M115.0 337.1h0M122.0 303.1h0M116.1 288.7h0M112.7 300.0h0M112.1 299.8h0M112.2 280.1h0M116.8 293.9h0M110.9 281.8h0M111.2 315.8h0M110.8 327.9h0M105.5 271.1h0M118.4 331.2h0M115.8 281.5h0M117.0 316.7h0M107.2 296.6h0M109.0 336.3h0M111.4 304.5h0M110.1 305.8h0M107.2 303.4h0M103.4 300.3h0M108.2 311.2h0M107.0 345.6h0M110.9 340.6h0M121.4 333.2h0M105.4 305.9h0M105.6 301.8h0M104.6 284.1h0M107.6 280.8h0M115.4 288.2h0M113.6 310.5h0M111.7 310.9h0M106.9 298.0h0M112.3 286.8h0M114.4 255.6h0M119.3 300.0h0M106.9 327.2h0M111.2 277.3h0M108.9 305.8h0M109.8 315.5h0M107.2 311.2h0M105.7 320.7h0M108.8 310.5h0M110.6 323.8h0M114.0 302.7h0M120.9 314.5h0M118.5 301.8h0M113.5 297.1h0M109.3 280.5h0M114.5 303.9h0M106.7 285.2h0M112.3 303.5h0M113.8 273.3h0M113.7 331.1h0M113.8 306.5h0M107.3 293.3h0M112.0 297.4h0M109.3 320.0h0M111.9 287.5h0M114.9 311.8h0M114.7 295.4h0M111.0 273.1h0M105.8 292.9h0M107.0 302.9h0M113.6 313.2h0M113.8 338.7h0M114.4 279.2h0M111.1 287.6h0M112.7 313.9h0M108.7 300.5h0M113.3 267.4h0M107.8 322.6h0M110.8 276.9h0M114.9 269.2h0M113.5 278.0h0M111.6 257.9h0M111.9 283.7h0M108.5 310.6h0M106.5 327.2h0M118.0 292.5h0M110.1 284.8h0M113.3 303.6h0M109.4 290.1h0M123.9 310.9h0M111.2 314.7h0M109.5 322.4h0M112.3 299.3h0M109.9 322.7h0M108.2 256.1h0M107.7 310.7h0M109.8 325.6h0M110.5 278.9h0M111.8 313.4h0M111.1 300.8h0M106.8 294.9h0M116.5 277.1h0M113.5 339.3h0M109.6 296.9h0M110.3 323.1h0M117.7 304.2h0M113.4 273.5h0M108.6 303.4h0M108.4 260.6h0M110.4 303.0h0M112.8 265.2h0M111.3 314.9h0M109.0 335.7h0M110.1 283.7h0M111.0 257.2h0M105.4 288.1h0M112.2 339.2h0M111.0 273.7h0M108.0 346.6h0M106.2 275.4h0M111.0 305.7h0M111.6 265.4h0M115.0 320.2h0M112.1 296.2h0M111.9 331.4h0M113.4 305.4h0M114.1 313.9h0M110.3 319.5h0M109.9 313.6h0M118.3 311.8h0M110.8 297.7h0M110.2 299.5h0M116.8 288.4h0M109.9 332.9h0M106.9 292.3h0M109.9 253.7h0M108.9 324.9h0M114.5 288.6h0M108.9 300.9h0M121.7 306.1h0M108.5 316.9h0M111.9 336.7h0M113.5 306.6h0M130.2 314.4h0M115.7 327.9h0M109.5 315.8h0M109.1 293.4h0M104.1 302.5h0M107.7 341.2h0M107.0 308.6h0M114.6 314.2h0M106.0 281.1h0M105.6 337.3h0M114.7 292.0h0M105.9 305.8h0M114.1 309.1h0M106.8 284.3h0M110.6 278.1h0M109.1 304.7h0M112.5 287.2h0M115.3 305.1h0M108.9 307.1h0M110.9 265.9h0M109.3 284.8h0M108.1 349.9h0M109.8 341.8h0M109.1 328.9h0M114.1 295.9h0M106.2 316.0h0M107.7 326.7h0M105.6 299.0h0M114.5 326.2h0M123.2 334.9h0M111.9 310.4h0M106.2 287.1h0M111.4 321.3h0M116.3 302.2h0M107.3 324.9h0M109.4 295.3h0M110.6 276.0h0M111.2 344.0h0M112.7 326.7h0M113.8 300.7h0M106.2 280.0h0M109.3 279.2h0M109.8 335.0h0M111.6 313.3h0M110.5 309.0h0M111.5 262.6h0M112.6 306.9h0M112.1 294.9h0M110.5 312.1h0M108.1 302.5h0M119.5 309.7h0M113.4 304.3h0M107.8 293.1h0M109.4 330.8h0M113.1 289.7h0M114.0 293.0h0M104.1 332.6h0M121.6 333.3h0M109.0 307.1h0M119.9 320.5h0M119.3 320.0h0M122.2 315.7h0M108.6 272.9h0M113.1 331.3h0M109.7 299.2h0M112.9 257.4h0M114.0 278.8h0M110.4 285.6h0M110.2 299.3h0M104.3 337.8h0M124.8 311.3h0M104.7 297.9h0M113.2 272.9h0M118.9 328.9h0M109.1 304.0h0M108.6 278.0h0M109.7 319.2h0M113.1 339.4h0M119.2 307.4h0M109.6 298.9h0M111.3 326.3h0M111.1 272.2h0M107.3 336.4h0M108.2 289.4h0M113.0 262.2h0M109.3 282.4h0M105.9 328.8h0M110.4 275.1h0M107.7 294.6h0M110.1 312.9h0M107.3 345.6h0M112.7 285.7h0M109.3 297.0h0M108.9 303.4h0M112.3 289.0h0M112.2 350.5h0M112.9 335.3h0M115.6 323.2h0M105.4 302.6h0M117.2 331.4h0M113.0 268.0h0M120.2 318.5h0M110.6 326.1h0M112.8 313.0h0M107.3 281.8h0M109.1 310.5h0M106.2 318.3h0M105.0 274.6h0M109.3 301.9h0M110.2 274.4h0M109.7 280.9h0M105.6 271.3h0M103.7 309.4h0M128.8 303.7h0M112.5 277.5h0M109.0 314.7h0M108.3 279.8h0M109.1 291.2h0M109.6 275.4h0M104.9 281.9h0M112.5 336.2h0M109.5 298.7h0M108.8 276.5h0M118.1 318.1h0M114.9 291.6h0M111.9 300.9h0M114.9 306.7h0M110.3 334.1h0M107.9 327.1h0M110.8 327.1h0M105.7 338.4h0M107.8 279.6h0M109.5 291.5h0M115.6 308.5h0M118.8 330.1h0M114.5 339.9h0M119.7 330.6h0M114.3 310.3h0M121.1 292.0h0M112.1 333.2h0M109.6 272.1h0M110.9 334.6h0M111.9 311.3h0M109.9 272.8h0M116.8 297.8h0M118.6 306.2h0M107.2 324.5h0M109.1 337.9h0M111.9 304.8h0M105.9 312.1h0M104.5 308.2h0M113.2 322.6h0M109.5 269.2h0M114.7 283.5h0M113.7 281.8h0M109.2 335.0h0M110.9 273.5h0M110.5 282.3h0M116.1 326.4h0M109.9 258.0h0M115.2 278.9h0M114.0 288.9h0M112.2 334.3h0M110.1 335.8h0M113.0 271.1h0M118.7 317.1h0M108.2 258.8h0M120.8 333.7h0M113.9 267.6h0M110.0 326.4h0M105.1 290.8h0M111.7 274.1h0M105.5 295.5h0M112.0 351.1h0M110.9 301.4h0M104.0 321.3h0M112.0 330.0h0M113.4 304.5h0M110.9 307.9h0M115.6 301.4h0M112.5 289.6h0M110.7 326.6h0M111.1 312.3h0M110.9 303.2h0M117.2 320.0h0M108.5 292.4h0M108.1 294.5h0M113.0 308.2h0M110.4 262.6h0M108.8 289.5h0M107.9 287.1h0M105.7 320.6h0M107.6 273.3h0M115.8 303.5h0M113.5 310.4h0M111.4 276.8h0M114.7 346.9h0M107.1 309.7h0M106.4 325.5h0M103.5 290.8h0M104.1 304.9h0M110.3 297.3h0M106.9 327.0h0M112.4 315.9h0M107.0 287.6h0M114.3 320.1h0M110.3 262.4h0M109.3 347.9h0M115.9 271.3h0M113.7 280.0h0M114.4 320.5h0M116.7 322.5h0M111.3 328.0h0M111.9 328.6h0M112.2 310.3h0M115.6 321.0h0M109.1 302.1h0M113.5 324.6h0M106.9 315.8h0M113.0 303.9h0M113.5 304.7h0M111.9 285.1h0M120.5 306.9h0M107.5 267.2h0M109.4 292.5h0M116.3 300.2h0M118.5 311.1h0M115.6 300.5h0M108.7 291.6h0M110.8 298.9h0M109.4 292.3h0M115.2 306.4h0M123.2 338.7h0M112.4 292.1h0M108.3 311.5h0M113.1 298.1h0M116.9 300.9h0M118.3 330.5h0M110.8 260.0h0M113.1 298.3h0M113.0 278.7h0M109.9 279.7h0M113.3 285.3h0M111.1 300.0h0M111.3 317.0h0M111.9 280.7h0M111.3 274.3h0M110.4 311.2h0M113.4 336.7h0M111.2 328.7h0M112.2 328.8h0M109.2 301.3h0M112.4 321.9h0M111.6 321.4h0M109.2 260.4h0M112.0 314.1h0M110.1 277.7h0M113.1 342.1h0M108.4 304.3h0M106.1 291.5h0M109.5 315.5h0M108.1 308.8h0M113.0 324.5h0M105.6 322.0h0M107.2 274.8h0M109.2 287.3h0M109.1 299.4h0M107.2 316.9h0M114.8 338.8h0M115.9 292.4h0M111.9 312.3h0M114.5 326.7h0M107.1 319.6h0M116.7 287.3h0M105.1 304.0h0M110.3 320.3h0M112.6 301.7h0M105.5 302.5h0M111.0 292.2h0M112.4 278.0h0M112.0 293.5h0M116.5 281.4h0M108.6 294.1h0M110.3 297.3h0M117.6 341.8h0M116.0 326.4h0M125.1 313.1h0M106.1 316.4h0M110.4 334.9h0M110.4 276.3h0M112.8 287.8h0M114.5 289.6h0M107.9 314.0h0M111.3 321.7h0M108.2 278.7h0M110.7 279.5h0M112.1 319.5h0M114.3 328.1h0M113.7 312.2h0M105.6 292.4h0M113.6 299.9h0M109.8 277.3h0M111.4 277.3h0M110.1 274.0h0M109.1 303.6h0M113.3 307.6h0M111.5 295.0h0M111.7 304.9h0M116.5 313.9h0M105.3 310.5h0M108.0 292.0h0M109.6 299.2h0M106.7 312.2h0M107.2 314.5h0M118.9 327.3h0M107.7 320.9h0M111.4 287.8h0M110.8 321.5h0M111.5 298.9h0M107.7 284.8h0M109.4 273.7h0M113.1 294.8h0M108.4 285.7h0M110.6 345.4h0M112.8 298.8h0M109.4 349.9h0M108.0 301.5h0M103.9 294.4h0M103.8 313.5h0M109.4 320.0h0M114.7 298.1h0M107.4 302.2h0M106.0 304.1h0M115.2 307.5h0M114.5 317.0h0M111.6 276.8h0M112.6 322.9h0M114.8 295.6h0M110.2 307.3h0M112.3 295.1h0M113.4 334.6h0M106.4 307.2h0M115.7 346.9h0M112.9 292.0h0M109.0 292.2h0M116.9 330.7h0M109.3 351.0h0M110.5 283.7h0M113.9 322.2h0M110.7 300.5h0M110.5 326.1h0M122.2 339.1h0M115.8 299.2h0M111.9 295.9h0M112.5 314.7h0M111.4 330.1h0M118.3 321.0h0M107.1 282.2h0M111.7 309.2h0M118.3 321.1h0M108.3 303.6h0M104.0 304.2h0M115.2 268.1h0M108.8 288.5h0M110.1 345.2h0M111.1 299.7h0M114.1 299.7h0M115.1 311.5h0M108.8 293.2h0M110.4 255.3h0M123.4 328.4h0M111.7 296.6h0M105.1 320.1h0M110.8 288.1h0M111.3 327.5h0M106.2 316.4h0M109.5 276.4h0M108.8 302.0h0M116.2 317.7h0M113.5 343.9h0M116.7 291.4h0M121.7 320.3h0M112.9 295.1h0M108.5 301.6h0M112.1 305.2h0M111.6 339.5h0M118.3 314.9h0M113.7 327.9h0M117.2 293.0h0M105.6 310.3h0M110.4 315.6h0M111.2 277.9h0M110.4 329.5h0M107.7 299.2h0M110.1 259.1h0M115.4 329.2h0M113.5 284.1h0M114.0 270.2h0M111.9 306.5h0M109.6 302.2h0M112.0 332.2h0M109.1 337.5h0M109.0 326.6h0M113.2 312.3h0M111.4 314.6h0M107.7 325.1h0M110.6 284.7h0M117.2 319.8h0M114.6 316.0h0M111.6 267.0h0M107.5 269.7h0M114.7 304.1h0M112.1 307.1h0M110.1 282.3h0M103.5 331.8h0M108.1 309.7h0M105.8 325.5h0M110.6 301.4h0M109.0 297.2h0M116.7 325.4h0M110.4 304.9h0M112.5 337.0h0M111.6 309.6h0M112.2 311.9h0M114.3 290.7h0M124.2 339.5h0M116.1 297.5h0M108.0 306.5h0M114.3 302.7h0M114.1 317.8h0M107.5 295.7h0M114.0 312.3h0M109.2 326.9h0M116.2 313.3h0M116.6 305.6h0M111.9 287.6h0M105.3 317.4h0M112.3 299.6h0M116.2 284.1h0M109.3 336.9h0M116.4 346.8h0M113.9 308.9h0M109.4 326.0h0M108.4 340.1h0M109.5 322.1h0M109.0 311.6h0M114.2 308.3h0M110.5 335.0h0M114.7 280.0h0M124.4 297.7h0M118.6 317.1h0M114.2 287.6h0M111.3 275.3h0M114.3 306.1h0M110.0 302.2h0M110.5 286.4h0M108.5 319.5h0M109.0 299.7h0M111.0 288.2h0M108.3 294.4h0M117.8 285.9h0M111.5 306.2h0M113.7 298.8h0M109.2 320.1h0M112.4 294.0h0M111.6 314.2h0M109.6 312.5h0M113.7 285.8h0M108.5 295.3h0M105.3 326.0h0M107.0 319.1h0M114.0 292.3h0M111.5 346.8h0M112.8 328.6h0M111.1 320.8h0M113.3 320.5h0M110.6 330.7h0M103.1 300.9h0M110.4 315.6h0M119.3 321.0h0M112.7 280.2h0M110.1 269.1h0M108.6 310.1h0M108.7 288.9h0M109.0 309.4h0M106.4 273.8h0M121.3 329.5h0M109.0 305.8h0M113.0 336.0h0M107.3 301.2h0M107.8 293.3h0M111.6 291.5h0M114.1 255.4h0M106.3 306.3h0M121.0 324.0h0M109.3 299.0h0M107.3 300.7h0M120.6 309.3h0M110.6 260.0h0M110.3 283.6h0M107.9 274.8h0M109.8 321.5h0M109.0 345.2h0M110.5 345.7h0M112.1 299.7h0M108.6 293.2h0M111.5 332.5h0M109.9 289.3h0M112.0 288.6h0M113.7 335.3h0M115.8 274.5h0M106.2 282.6h0M108.6 321.9h0M111.4 297.2h0M119.7 310.8h0M105.5 321.9h0M114.2 324.7h0M110.7 295.5h0M111.6 307.4h0M105.3 321.9h0M112.3 347.4h0M108.9 305.2h0M111.5 289.4h0M110.1 302.6h0M118.8 317.5h0M115.7 315.1h0M117.1 280.8h0M108.9 297.9h0M111.2 284.3h0M112.8 329.2h0M106.7 312.0h0M107.4 294.4h0M110.8 295.7h0M111.2 320.8h0M108.5 317.7h0M111.3 291.1h0M105.2 313.6h0M107.4 320.8h0M116.0 324.7h0M113.4 282.8h0M115.9 281.9h0M114.8 291.3h0M114.0 295.3h0M114.2 311.4h0M108.8 265.8h0M114.4 334.1h0M107.9 313.9h0M113.0 304.1h0M118.7 312.7h0M119.7 291.8h0M108.9 307.8h0M111.6 272.5h0M110.6 294.0h0M112.6 320.1h0M105.2 298.5h0M110.7 265.8h0M111.8 284.5h0M111.6 291.4h0M108.9 310.6h0M112.1 328.5h0M123.5 342.8h0M109.9 292.8h0M106.8 281.1h0M110.4 294.4h0M113.3 288.7h0M125.0 307.9h0M114.0 273.6h0M111.1 298.1h0M114.0 305.1h0M110.2 303.6h0M121.6 302.1h0M108.7 310.2h0M115.2 307.8h0M107.9 309.4h0M107.0 306.2h0M112.8 296.6h0M111.0 280.7h0M114.2 347.8h0M110.0 285.7h0M107.8 340.2h0M108.8 321.2h0M114.7 316.9h0M121.4 305.9h0M118.5 334.5h0M115.9 296.0h0M109.1 311.0h0M109.6 293.8h0M110.3 299.1h0M113.3 286.1h0M111.8 273.1h0M115.4 328.4h0M108.9 282.1h0M108.8 302.7h0M103.5 296.6h0M104.4 291.4h0M113.0 288.8h0M110.8 305.7h0M107.7 304.2h0M105.6 297.5h0M111.1 320.2h0M121.8 340.7h0M114.9 299.8h0M114.6 303.5h0M109.4 296.7h0M107.0 310.0h0M111.3 306.3h0M109.8 294.4h0M121.6 301.6h0M113.5 319.7h0M115.0 276.9h0M109.6 310.0h0M109.6 314.8h0M109.0 262.3h0M111.3 264.0h0M108.1 293.9h0M121.7 332.7h0M109.7 294.0h0M108.8 286.7h0M106.5 311.8h0M118.1 307.3h0M109.2 288.3h0M109.0 307.1h0M116.9 329.1h0M110.7 296.5h0M108.6 335.0h0M117.8 314.0h0M117.0 316.8h0M114.1 319.1h0M112.2 290.3h0M110.0 268.2h0M112.3 319.6h0M112.7 304.4h0M107.2 272.0h0M120.8 298.2h0M113.8 290.0h0M108.0 318.0h0M110.5 299.4h0M125.1 311.4h0M119.7 287.5h0M112.9 285.2h0M110.1 293.1h0M112.6 266.0h0M111.9 345.5h0M111.4 295.5h0M116.8 323.7h0M112.3 264.5h0M110.9 282.2h0M116.0 295.5h0M108.7 290.0h0M106.7 303.3h0M105.8 284.4h0M113.3 277.4h0M110.8 311.8h0M113.1 315.8h0M105.1 334.0h0M105.1 308.8h0M111.0 306.5h0M108.8 313.9h0M111.9 309.2h0M111.5 334.4h0M111.6 293.2h0M120.7 300.4h0M107.3 280.9h0M113.1 303.9h0M112.8 293.2h0M113.2 322.8h0M109.7 319.7h0M116.5 304.7h0M122.4 311.3h0M115.2 276.0h0M114.0 302.8h0M117.8 346.7h0M111.0 320.2h0M112.9 279.3h0M106.3 275.6h0M121.2 322.6h0M109.8 281.7h0M114.8 303.9h0M111.5 268.2h0M107.8 289.7h0M107.8 306.7h0M116.3 318.9h0M118.0 329.5h0M113.9 297.5h0M109.1 309.4h0M115.6 328.8h0M115.0 306.5h0M115.8 305.9h0M108.5 300.1h0M112.6 350.2h0M114.8 309.6h0M116.6 296.6h0M118.1 291.5h0M111.0 315.5h0M108.5 273.2h0M108.3 285.8h0M109.4 319.9h0M107.3 303.2h0M113.4 298.1h0M106.6 277.4h0M105.0 283.2h0M109.1 258.7h0M111.7 325.8h0M111.4 288.1h0M106.0 304.7h0M111.1 288.0h0M113.9 310.6h0M107.4 304.0h0M111.1 314.6h0M107.0 277.0h0M115.5 271.9h0M110.6 323.4h0M113.9 333.6h0M112.6 333.6h0M112.2 260.0h0M107.4 289.2h0M114.8 300.2h0M111.7 285.0h0M109.0 306.1h0M112.4 266.7h0M109.0 350.2h0M109.7 276.3h0M110.6 305.1h0M109.5 333.9h0M111.2 319.6h0M110.6 275.5h0M109.4 291.0h0M106.2 294.6h0M108.9 339.2h0M115.6 309.1h0M106.8 296.4h0M111.6 266.2h0M112.4 268.6h0M111.5 305.2h0M110.6 327.1h0M111.3 320.5h0M113.0 315.0h0M113.3 283.1h0M110.6 316.6h0M119.1 329.9h0M109.7 262.1h0M115.3 283.2h0M110.2 343.4h0M108.5 259.3h0M110.9 282.3h0M107.6 310.8h0M122.7 313.4h0M124.0 327.7h0M108.0 286.5h0M114.9 324.5h0M105.9 329.6h0M110.8 309.4h0M108.9 297.0h0M105.2 298.4h0M108.2 279.2h0M126.2 310.1h0M107.5 324.0h0M109.6 294.8h0M112.4 300.5h0M106.7 298.8h0M115.9 307.8h0M105.0 295.1h0M116.0 302.1h0M107.9 302.5h0M112.2 288.8h0M110.9 335.9h0M108.3 291.7h0M108.1 317.2h0M115.2 322.0h0M120.0 312.0h0M104.6 283.6h0M110.8 285.2h0M111.3 278.1h0M107.6 295.2h0M119.5 315.2h0M114.5 286.4h0M121.4 318.4h0M113.0 304.0h0M106.8 314.4h0M106.1 293.6h0M110.6 324.9h0M104.3 309.3h0M106.0 343.0h0M112.7 330.3h0M113.4 305.2h0M111.8 272.5h0M113.3 299.1h0M109.5 277.8h0M109.6 338.6h0M112.7 300.2h0M113.3 292.1h0M109.3 277.7h0M113.1 283.8h0M107.1 329.1h0M114.2 292.0h0M107.0 334.6h0M121.0 314.2h0M111.4 301.0h0M110.3 278.0h0M111.2 319.1h0M106.8 330.0h0M115.2 282.5h0M113.6 313.0h0M113.3 296.4h0M108.2 297.2h0M110.3 277.4h0M107.3 335.2h0M113.4 314.1h0M109.0 270.0h0M110.4 280.7h0M120.6 328.3h0M110.2 295.3h0M103.5 305.7h0M118.2 311.0h0M110.7 299.8h0M107.4 279.7h0M114.2 340.9h0M117.4 327.0h0M104.4 317.8h0M113.4 292.2h0M110.3 310.8h0M108.7 265.3h0M106.7 310.1h0M114.4 279.3h0M110.0 321.5h0M110.7 280.7h0M107.6 274.3h0M113.1 281.0h0M122.3 308.3h0M114.3 326.5h0M109.9 307.0h0M115.3 293.7h0M113.1 270.1h0M110.6 324.5h0M109.0 291.7h0M110.0 300.0h0M108.0 301.9h0M114.9 314.0h0M111.2 303.0h0M115.6 313.3h0M113.1 283.4h0M107.4 305.3h0M108.6 289.7h0M110.1 312.4h0M126.3 323.8h0M107.1 330.2h0M109.7 272.7h0M111.8 312.6h0M110.6 291.8h0M106.0 311.3h0M110.9 279.1h0M108.0 319.6h0M110.2 302.8h0M107.4 344.8h0M111.2 322.0h0M109.2 300.5h0M115.2 324.1h0M113.9 291.6h0M114.1 308.0h0M112.4 313.7h0M110.9 312.7h0M105.6 316.6h0M106.7 266.7h0M119.7 308.2h0M110.0 276.2h0M110.0 281.3h0M105.2 309.9h0M111.6 336.4h0M108.9 307.0h0M109.6 297.0h0M114.3 328.7h0M114.9 311.3h0M108.0 298.5h0M125.6 312.6h0M108.5 299.6h0M108.8 322.6h0M110.8 298.7h0M109.1 298.5h0M117.0 311.8h0M109.0 322.0h0M109.3 349.2h0M109.7 285.2h0M110.1 345.2h0M110.0 301.3h0M107.8 284.0h0M106.6 339.4h0M109.3 310.6h0M110.6 306.5h0M110.7 311.2h0M113.8 293.7h0M107.8 278.9h0M112.7 303.7h0M114.1 335.9h0M112.9 277.1h0M107.1 284.9h0M108.2 325.1h0M116.0 301.7h0M108.8 310.4h0M112.3 308.4h0M119.8 301.1h0M112.2 283.8h0M110.2 320.9h0M117.3 329.1h0M105.4 296.4h0M108.7 295.6h0M114.6 255.7h0M120.4 312.9h0M108.2 303.1h0M107.3 299.7h0M106.5 307.0h0M113.0 311.8h0M107.7 344.4h0M110.3 295.8h0M113.4 326.9h0M115.6 278.7h0M110.5 299.5h0M108.5 291.9h0M123.0 301.8h0M119.2 313.1h0M109.4 321.3h0M107.3 292.1h0M111.0 260.4h0M111.1 327.3h0M110.1 348.4h0M109.2 316.8h0M111.1 303.5h0M112.5 315.4h0M111.1 318.5h0M121.0 300.7h0M120.8 332.9h0M111.5 282.4h0M116.2 332.1h0M109.7 302.2h0M114.7 320.1h0M115.4 298.3h0M110.8 290.3h0M111.5 306.4h0M114.1 333.0h0M115.6 285.8h0M110.3 276.2h0M112.2 301.8h0M120.4 323.1h0M110.5 303.7h0M111.7 323.3h0M110.8 330.6h0M108.4 303.4h0M111.9 282.4h0M110.5 321.0h0M111.9 282.1h0M110.8 302.5h0M110.9 298.6h0M104.5 327.0h0M107.7 290.2h0M125.1 312.5h0M107.4 320.5h0M110.8 300.8h0M111.0 286.8h0M105.5 339.1h0M112.3 286.1h0M110.8 325.0h0M109.4 300.3h0M110.1 276.4h0M109.9 308.0h0M113.7 298.9h0M113.7 302.0h0M117.5 322.8h0M109.4 285.0h0M112.0 293.0h0M107.1 319.1h0M111.8 329.7h0M107.1 341.8h0M110.5 330.6h0M104.7 275.2h0M114.8 274.6h0M118.5 330.2h0M105.1 287.1h0M114.4 290.4h0M115.8 288.9h0M113.7 266.0h0M112.1 303.1h0M115.0 305.0h0M109.9 297.2h0M108.4 308.9h0M116.4 308.2h0M109.5 296.9h0M113.2 306.2h0M111.2 314.0h0M111.6 276.3h0M117.1 280.6h0M107.2 336.6h0M114.4 307.3h0M119.3 333.5h0M111.0 285.7h0M119.4 321.6h0M111.1 279.6h0M106.5 322.0h0M106.4 307.0h0M105.4 329.8h0M106.5 282.3h0M112.8 323.9h0M106.2 289.8h0M107.0 316.1h0M111.9 276.9h0M111.4 314.3h0M111.5 300.2h0M104.5 314.6h0M110.9 306.4h0M113.8 305.3h0M110.9 297.0h0M111.8 290.1h0M110.4 282.2h0M107.5 318.4h0M105.9 297.1h0M117.8 343.3h0M112.1 328.2h0M123.1 306.0h0M121.3 326.9h0M109.4 331.2h0M107.5 284.7h0M113.5 259.4h0M111.3 325.4h0M105.6 286.3h0M112.6 264.4h0M108.1 307.1h0M112.2 294.1h0M122.3 331.4h0M117.4 336.5h0M103.3 319.0h0M116.3 320.2h0M111.9 277.8h0M114.6 333.9h0M112.6 320.3h0M123.9 299.4h0M104.0 296.3h0M113.2 279.2h0M117.8 300.6h0M110.6 293.2h0M118.0 304.4h0M114.6 301.8h0M108.4 299.8h0M110.7 279.8h0M113.0 315.4h0M110.4 300.0h0M110.5 285.7h0M107.5 306.8h0M108.5 288.2h0M127.3 314.1h0M106.6 290.0h0M114.0 336.9h0M116.7 315.6h0M112.5 310.7h0M115.6 315.2h0M109.6 322.4h0M113.1 318.2h0M121.8 328.8h0M119.2 323.6h0M118.9 317.6h0M109.6 288.0h0M111.0 309.1h0M111.6 287.4h0M111.4 289.1h0M111.4 297.3h0M108.7 284.4h0M108.6 334.6h0M107.2 293.1h0M123.2 337.4h0M106.8 312.9h0M108.1 292.9h0M113.2 324.8h0M106.8 344.7h0M114.3 305.5h0M112.6 293.1h0M110.1 321.3h0M111.5 275.1h0M109.0 263.9h0M110.9 269.5h0M117.3 290.0h0M108.8 294.2h0M111.7 297.9h0M111.4 293.2h0M112.6 265.5h0M108.7 297.2h0M110.3 257.4h0M108.2 287.0h0M115.2 277.6h0M106.5 307.4h0M115.3 301.0h0M114.5 290.2h0M110.0 271.4h0M112.4 306.5h0M113.0 308.6h0M116.4 321.1h0M114.9 313.5h0M116.1 348.4h0M111.4 304.7h0M108.8 274.9h0M111.8 309.2h0M110.0 277.3h0M105.9 330.8h0M108.8 262.1h0M107.3 287.3h0M112.4 287.9h0M113.2 334.3h0M115.3 287.4h0M106.3 313.7h0M116.9 285.7h0M104.9 333.1h0M109.5 323.3h0M112.3 301.2h0M108.9 315.7h0M110.1 297.8h0M115.1 283.0h0M107.6 263.0h0M107.2 308.6h0M105.9 307.9h0M106.4 301.6h0M108.4 302.6h0M116.2 294.0h0M113.5 292.4h0M113.0 316.8h0M110.8 301.7h0M108.3 308.2h0M106.9 277.1h0M115.1 282.2h0M128.4 303.1h0M124.3 314.3h0M111.3 289.5h0M116.7 315.7h0M112.2 309.9h0M106.7 311.6h0M105.9 312.4h0M106.9 302.3h0M117.4 286.1h0M122.3 297.8h0M112.2 255.9h0M114.3 326.5h0M114.8 292.6h0M109.0 294.8h0M129.8 315.2h0M106.2 293.1h0M114.2 276.2h0M114.0 338.8h0M112.3 294.8h0M116.3 329.3h0M110.7 321.4h0M109.9 291.1h0M111.3 338.7h0M103.4 284.2h0" stroke="#d0041f" stroke-width="1.80" stroke-linecap="round" fill="none"/></g>
<g fill="#c8102e"><path d="M394.1 276.2h0M399.8 343.5h0M395.7 298.8h0M409.5 327.6h0M381.7 349.7h0M416.2 347.5h0M413.9 286.4h0M406.5 326.3h0M404.9 344.7h0M407.0 329.5h0M423.8 324.2h0M411.6 315.4h0M413.6 310.5h0M401.0 320.6h0M367.3 323.9h0M385.3 276.1h0M412.8 296.3h0M415.9 307.7h0M414.3 304.9h0M397.4 278.7h0M393.9 282.5h0M396.0 343.9h0M417.5 343.0h0M385.7 273.3h0M417.9 309.7h0M405.4 329.6h0M404.9 299.4h0M398.1 317.9h0M410.8 306.9h0M400.3 333.8h0M397.3 351.2h0M414.3 334.6h0M414.5 297.0h0M416.7 331.2h0M386.0 351.6h0M413.3 303.9h0M418.2 287.3h0M392.5 278.3h0M416.4 303.3h0M400.7 309.8h0M414.1 311.3h0M396.9 352.1h0M403.4 290.1h0M415.8 348.7h0M417.8 337.7h0M422.8 304.3h0M398.6 288.5h0M423.1 315.7h0M407.4 305.0h0M402.8 339.6h0M416.0 314.3h0M400.3 328.7h0M397.0 295.0h0M398.8 279.6h0M380.7 351.1h0M387.3 282.2h0M422.3 339.5h0M398.2 309.2h0M417.0 338.6h0M398.6 345.9h0M417.4 321.1h0M413.2 285.7h0M394.3 301.6h0M382.8 260.6h0M408.9 323.0h0M391.8 348.2h0M396.8 305.2h0M418.6 294.0h0M367.8 325.5h0M402.3 317.9h0M413.2 326.6h0M422.5 306.5h0M321.5 271.3h0M323.4 271.7h0M324.9 278.7h0M335.7 286.6h0M367.1 267.6h0M368.4 274.6h0M335.5 287.0h0M330.0 299.2h0M317.8 304.1h0M320.8 307.6h0M323.3 310.6h0M319.8 314.5h0M328.6 314.5h0M318.4 318.5h0M323.7 318.9h0M327.1 319.9h0M329.6 320.4h0M334.1 324.8h0M344.0 303.1h0M354.2 298.2h0M358.2 302.7h0M361.7 297.8h0M364.1 294.5h0M352.9 307.6h0M359.7 310.6h0M326.7 329.9h0M329.6 329.9h0M321.1 335.2h0M325.1 335.8h0M337.5 336.6h0M342.8 336.8h0M325.7 339.2h0M329.5 338.3h0M315.2 342.1h0M360.7 342.5h0M320.8 347.6h0M324.1 346.4h0M314.5 350.0h0M319.2 352.0h0M339.1 348.6h0M359.7 347.0h0M364.1 353.0h0M367.0 352.3h0M385.9 225.0h0M392.0 242.5h0M409.5 242.5h0M394.6 253.9h0M387.8 260.0h0M387.2 265.0h0M389.1 267.7h0M402.0 271.0h0M404.9 273.6h0M409.9 270.5h0M396.0 274.2h0M415.4 280.6h0M400.1 282.5h0M429.2 287.6h0M429.3 288.0h0M428.7 290.9h0M443.7 301.7h0M432.3 304.7h0M446.1 312.6h0M432.3 310.6h0M435.8 315.5h0M437.2 325.4h0M429.3 332.3h0M436.6 339.2h0M418.1 351.6h0M419.5 353.0h0M472.3 270.5h0M480.0 272.9h0M481.1 274.7h0M505.4 279.1h0M459.7 283.9h0M480.5 281.7h0M485.1 286.5h0M487.9 285.2h0M459.2 291.9h0M464.7 294.3h0M466.3 294.5h0M475.2 299.4h0M482.5 301.2h0M486.0 301.2h0M454.9 305.7h0M450.9 309.6h0M496.7 309.1h0M492.7 313.2h0M456.8 316.0h0M470.2 318.9h0M475.0 317.5h0M478.1 320.9h0M480.1 319.5h0M456.4 324.0h0M462.7 326.0h0M460.8 333.3h0M462.7 337.8h0M470.6 339.8h0M484.0 344.8h0M491.9 345.7h0M378.6 225.0h0M385.6 225.0h0M369.5 233.6h0M378.4 234.6h0M377.0 238.9h0M374.3 240.8h0M391.5 242.7h0M373.3 246.1h0M394.7 254.0h0M384.0 252.4h0" stroke="#600516" stroke-width="1.80" stroke-linecap="round" fill="none"/>
<path d="M407.5 304.1h0M401.4 283.8h0M395.8 326.5h0M390.3 276.8h0M397.1 323.4h0M392.4 305.9h0M395.6 336.5h0M369.6 342.4h0M415.0 322.8h0M390.4 309.2h0M393.6 324.7h0M384.6 338.6h0M393.2 338.6h0M384.6 270.4h0M387.4 278.6h0M387.3 298.0h0M369.2 290.3h0M391.6 338.3h0M396.2 340.1h0M392.3 281.5h0M391.9 295.4h0M374.3 351.3h0M392.1 299.3h0M409.8 304.3h0M398.4 340.4h0M385.1 277.8h0M398.0 321.3h0M368.6 293.7h0M388.9 284.8h0M384.2 269.7h0M399.0 311.7h0M390.7 324.7h0M397.9 311.9h0M398.9 314.1h0M394.2 316.2h0M395.8 314.9h0M384.9 335.6h0M384.9 270.7h0M395.1 305.1h0M391.7 293.8h0M369.5 336.1h0M378.7 243.7h0M394.3 308.7h0M386.7 267.5h0M383.6 345.5h0M390.9 293.7h0M399.2 314.0h0M396.3 326.8h0M394.6 345.5h0M403.1 280.8h0M416.4 323.0h0M389.2 290.5h0M373.3 349.4h0M390.5 282.8h0M369.6 342.9h0M393.6 297.2h0M395.2 310.2h0M385.0 283.3h0M396.6 321.2h0M400.2 310.6h0M389.6 285.0h0M393.2 338.5h0M390.4 338.9h0M383.0 344.9h0M387.9 277.2h0M407.7 301.8h0M385.5 267.6h0M408.6 302.7h0M395.0 315.1h0M394.6 295.4h0M392.5 306.2h0M367.6 335.3h0M389.4 347.3h0M397.2 328.8h0M369.4 333.8h0M400.3 341.2h0M370.2 269.2h0M402.8 281.5h0M393.6 298.9h0M376.1 243.0h0M387.4 285.8h0M393.4 305.0h0M388.7 297.8h0M389.2 281.5h0M389.9 286.7h0M395.8 318.2h0M396.6 333.1h0M395.0 288.5h0M402.7 283.6h0M388.1 300.9h0M394.1 286.4h0M397.1 341.4h0M388.6 350.9h0M415.8 323.2h0M391.9 344.9h0M393.6 291.8h0M327.5 338.5h0M403.4 272.9h0M392.4 276.9h0M403.4 280.6h0M403.0 283.9h0M376.5 241.8h0M378.1 242.7h0M380.2 244.3h0M381.9 250.8h0" stroke="#960a20" stroke-width="1.80" stroke-linecap="round" fill="none"/>
<path d="M376.2 297.4h0M375.1 328.8h0M376.6 331.3h0M377.0 294.0h0M378.9 296.1h0M379.7 347.5h0M375.2 293.8h0M379.5 325.5h0M373.0 298.3h0M373.0 264.5h0M385.0 327.2h0M371.2 287.0h0M384.0 338.9h0M384.2 295.5h0M373.5 264.9h0M375.1 272.2h0M384.2 295.6h0M376.7 338.7h0M378.4 299.7h0M373.6 311.0h0M374.2 291.1h0M377.3 318.4h0M381.7 309.1h0M377.4 273.9h0M374.7 268.2h0M387.7 342.4h0M374.6 271.1h0M376.5 331.1h0M379.1 296.9h0M376.0 291.6h0M377.0 329.8h0M387.7 345.0h0M377.6 336.4h0M377.7 314.7h0M374.9 332.0h0M386.3 333.4h0M376.2 299.1h0M375.7 311.3h0M387.3 344.5h0M373.6 261.4h0M385.9 297.8h0M384.7 316.8h0M386.0 311.5h0M374.1 262.5h0M375.9 296.5h0M381.5 295.5h0M376.4 316.0h0M370.3 315.3h0M380.6 305.0h0M383.5 305.1h0M373.5 308.4h0M375.8 259.6h0M385.2 323.8h0M373.2 294.3h0M375.6 296.3h0M376.7 326.0h0M377.4 254.7h0M377.5 319.8h0M385.2 303.1h0M378.6 297.8h0M379.9 305.2h0M378.0 247.5h0M374.7 324.9h0M377.3 293.6h0M388.9 305.0h0M376.8 257.2h0M386.1 306.5h0M379.3 341.9h0M377.0 256.4h0M376.8 316.4h0M374.5 315.3h0M378.6 303.5h0M375.6 262.7h0M382.7 303.9h0M381.4 283.5h0M382.8 301.2h0M372.2 296.9h0M380.2 278.8h0M382.3 287.7h0M388.2 339.9h0M376.6 285.8h0M377.0 299.6h0M376.6 269.1h0M373.9 332.1h0M396.1 335.1h0M375.8 341.3h0M375.7 264.1h0M371.7 304.4h0M383.0 333.2h0M383.8 311.8h0M375.1 326.1h0M394.0 312.9h0M377.1 286.1h0M373.1 341.1h0M375.9 322.4h0M373.3 328.9h0M382.6 316.0h0M375.0 276.9h0M379.7 273.9h0M377.3 292.9h0M374.2 270.2h0M378.8 309.1h0M375.4 255.1h0M373.3 310.9h0M379.6 318.9h0M374.0 312.1h0M380.0 321.3h0M384.1 281.1h0M383.5 342.5h0M377.2 320.7h0M375.7 255.5h0M387.5 324.4h0M387.6 350.1h0M385.0 313.9h0M379.9 253.5h0M372.0 291.3h0M374.6 307.3h0M379.2 320.1h0M371.5 325.2h0M380.2 334.1h0M392.0 311.0h0M375.9 321.3h0M379.0 276.5h0M375.5 311.8h0M383.8 329.8h0M388.0 304.2h0M383.3 320.9h0M377.1 326.8h0M374.5 329.5h0M371.0 328.9h0M384.0 310.6h0M387.6 295.1h0M378.6 314.0h0M379.9 282.5h0M374.5 294.5h0M379.2 271.8h0M375.0 294.6h0M381.7 300.4h0M370.1 311.2h0M376.8 287.9h0M374.8 310.0h0M372.0 333.7h0M375.1 327.4h0M388.5 312.9h0M375.2 280.8h0M374.0 280.9h0M378.5 277.2h0M381.2 283.5h0M375.2 328.3h0M386.9 286.3h0M380.7 302.9h0M377.9 298.3h0M388.5 326.2h0M383.6 308.1h0M379.7 312.7h0M375.1 278.2h0M376.6 321.4h0M379.0 330.9h0M389.4 319.4h0M371.9 317.0h0M376.2 308.8h0M390.3 319.4h0M377.0 263.3h0M379.6 261.8h0M375.7 295.0h0M385.5 323.6h0M374.3 275.6h0M374.8 327.8h0M375.0 332.2h0M373.4 311.9h0M380.5 328.0h0M383.1 301.4h0M374.0 275.1h0M376.2 279.1h0M376.6 300.8h0M375.8 321.4h0M378.6 307.8h0M374.4 339.1h0M378.5 263.3h0M377.9 290.5h0M373.5 283.0h0M377.1 297.4h0M377.4 283.7h0M371.9 323.7h0M375.6 274.1h0M379.3 346.3h0M386.7 307.2h0M381.3 334.0h0M376.7 254.8h0M373.8 315.3h0M378.8 295.9h0M380.1 296.0h0M385.8 316.9h0M375.1 313.8h0M378.4 305.9h0M375.0 267.8h0M375.4 312.3h0M377.3 322.9h0M383.7 309.5h0M374.9 305.4h0M380.0 304.1h0M392.1 312.4h0M376.8 292.3h0M374.7 294.0h0M379.5 293.3h0M382.1 292.1h0M378.1 267.6h0M381.1 309.5h0M375.4 299.4h0M376.1 324.7h0M374.8 279.2h0M372.9 288.4h0M377.3 301.8h0M382.0 307.3h0M376.5 318.1h0M392.5 301.2h0M375.2 340.0h0M377.3 308.9h0M380.9 274.5h0M379.5 291.8h0M378.0 302.9h0M375.2 313.9h0M372.7 323.9h0M373.7 295.8h0M373.4 294.5h0M376.8 260.3h0M375.7 263.3h0M378.8 324.8h0M375.9 294.4h0M378.1 250.0h0M390.2 288.4h0M385.4 329.5h0M377.8 267.4h0M375.8 258.8h0M383.8 292.6h0M383.3 298.4h0M374.4 325.2h0M383.5 305.8h0M388.6 321.2h0M375.8 270.2h0M372.7 297.9h0M379.3 270.1h0M376.7 266.7h0M373.8 268.1h0M378.5 314.9h0M384.3 310.9h0M382.3 306.4h0M372.1 278.9h0M372.1 285.9h0M377.7 309.0h0M379.5 305.3h0M390.3 344.2h0M381.9 305.8h0M378.4 313.1h0M386.8 319.4h0M376.7 283.0h0M374.4 278.1h0M374.4 281.4h0M377.1 300.3h0M387.6 323.2h0M377.9 255.5h0M371.7 304.7h0M388.6 311.5h0M380.2 261.5h0M372.0 303.6h0M383.8 299.0h0M374.6 278.7h0M372.9 288.8h0M376.5 322.3h0M381.0 312.7h0M375.3 304.8h0M377.0 262.2h0M382.7 300.5h0M373.4 314.5h0M378.7 308.9h0M374.8 292.4h0M371.0 341.9h0M383.0 333.5h0M378.6 282.9h0M377.2 261.9h0M376.5 344.6h0M377.7 306.6h0M378.1 286.8h0M374.1 290.5h0M374.1 285.0h0M373.1 306.0h0M379.7 332.1h0M377.4 262.0h0M378.0 263.7h0M376.9 287.8h0M383.4 300.0h0M380.9 314.7h0M373.9 248.8h0M372.9 337.2h0M377.9 263.0h0M386.8 319.1h0M382.8 298.9h0M374.4 316.2h0M379.0 280.9h0M373.3 306.9h0M374.7 290.1h0M384.6 307.1h0M378.8 282.2h0M384.2 305.0h0M380.2 298.0h0M387.9 315.5h0M375.0 281.6h0M376.6 275.1h0M392.0 332.5h0M380.6 294.1h0M371.5 304.8h0M375.3 327.1h0M376.9 286.2h0M380.5 315.5h0M375.7 302.0h0M383.2 304.9h0M383.8 343.2h0M377.8 299.4h0M375.0 311.8h0M375.4 307.9h0M375.7 320.2h0M376.5 279.6h0M376.7 329.1h0M380.8 252.0h0M377.1 305.5h0M379.0 312.7h0M375.0 280.5h0M376.2 311.7h0M375.3 256.2h0M376.0 262.9h0M380.5 282.8h0M376.0 289.9h0M377.8 269.9h0M384.4 317.9h0M379.1 295.3h0M379.0 272.7h0M376.7 331.7h0M384.5 341.7h0M381.7 279.2h0M382.9 294.5h0M378.4 305.7h0M383.3 302.8h0M382.6 290.0h0M375.8 287.1h0M372.1 307.5h0M391.2 343.3h0M377.2 254.1h0M373.0 276.6h0M387.2 344.8h0M382.7 300.9h0M378.8 267.2h0M374.5 283.5h0M386.7 324.7h0M377.3 307.7h0M372.9 320.3h0M372.9 297.2h0M373.2 283.8h0M383.3 277.8h0M386.3 310.9h0M375.9 341.6h0M379.3 327.4h0M379.8 292.9h0M377.1 267.0h0M372.9 255.2h0M371.0 303.4h0M372.3 327.0h0M377.2 297.5h0M376.7 314.8h0M372.7 280.7h0M371.4 338.0h0M377.8 325.5h0M379.5 313.8h0M377.4 316.6h0M380.2 294.0h0M379.7 290.8h0M373.7 290.9h0M373.2 295.7h0M377.0 302.1h0M378.7 310.0h0M386.5 314.3h0M387.9 333.1h0M391.7 289.0h0M386.1 309.6h0M377.6 296.8h0M378.6 307.7h0M371.8 302.3h0M392.4 325.7h0M378.3 288.2h0M372.7 275.5h0M386.8 310.2h0M381.5 307.0h0M372.7 344.9h0M376.8 303.3h0M374.5 281.8h0M373.4 291.1h0M380.5 317.1h0M378.8 338.1h0M380.1 305.2h0M376.4 349.5h0M377.2 284.4h0M382.4 300.1h0M378.4 270.0h0M376.0 290.3h0M381.3 299.1h0M378.0 253.4h0M377.2 288.9h0M381.0 331.5h0M375.1 259.0h0M377.2 260.6h0M384.2 320.1h0M379.1 253.5h0M376.4 348.0h0M390.2 341.7h0M381.2 321.7h0M381.8 297.0h0M376.3 278.6h0M374.1 317.7h0M381.8 308.2h0M373.6 264.8h0M377.8 251.4h0M372.3 263.8h0M374.4 307.1h0M377.4 309.5h0M380.8 275.4h0M375.7 332.1h0M391.1 329.6h0M392.7 328.2h0M381.7 301.4h0M375.2 282.4h0M377.1 254.3h0M394.7 289.6h0M379.0 289.5h0M379.7 305.9h0M378.6 290.0h0M373.8 298.0h0M379.5 312.2h0M378.3 314.6h0M383.5 290.3h0M378.1 300.6h0M374.8 294.7h0M387.0 286.6h0M373.4 344.5h0M377.3 291.1h0M379.6 280.2h0M376.6 261.3h0M380.0 306.3h0M375.0 281.2h0M385.3 320.4h0M385.9 309.6h0M377.4 312.8h0M387.3 309.0h0M385.3 290.6h0M378.4 297.5h0M375.2 321.1h0M372.0 306.2h0M389.9 315.2h0M380.1 308.8h0M376.2 318.7h0M380.2 285.0h0M376.3 294.1h0M375.3 289.8h0M374.7 333.2h0M375.7 329.9h0M376.6 326.3h0M369.8 314.8h0M376.0 271.1h0M379.8 322.8h0M387.9 324.2h0M376.3 288.4h0M375.1 321.6h0M392.9 319.1h0M384.2 287.3h0M374.8 292.0h0M381.8 337.8h0M375.9 328.1h0M379.5 311.9h0M375.0 322.9h0M378.5 268.0h0M372.8 288.0h0M377.4 294.0h0M378.6 256.8h0M382.3 294.3h0M391.2 301.9h0M380.1 324.9h0M378.8 312.5h0M376.5 284.9h0M374.1 301.9h0M382.7 336.4h0M376.8 256.8h0M377.8 341.3h0M379.4 250.5h0M376.4 298.4h0M380.3 274.9h0M374.7 299.4h0M374.0 298.9h0M378.0 264.8h0M388.6 321.4h0M373.4 287.9h0M373.0 288.8h0M375.4 300.8h0M385.7 316.6h0M377.8 299.9h0M377.4 298.9h0M376.7 300.8h0M374.9 286.3h0M378.9 269.3h0M377.9 325.6h0M374.7 268.6h0M381.3 305.5h0M373.5 339.7h0M379.7 290.6h0M378.1 295.4h0M370.3 300.4h0M375.0 314.5h0M384.6 308.7h0M379.5 250.9h0M385.9 302.8h0M374.4 299.5h0M381.6 315.8h0M374.7 315.9h0M375.5 303.3h0M373.4 334.5h0M385.2 299.9h0M379.1 314.2h0M373.2 305.2h0M370.4 283.0h0M376.2 327.2h0M387.6 338.9h0M377.0 303.1h0M375.3 330.8h0M378.1 297.2h0M375.7 295.7h0M379.3 289.8h0M378.7 260.3h0M373.7 262.9h0M379.0 271.4h0M380.1 337.9h0M371.5 295.4h0M375.0 272.9h0M372.7 281.4h0M374.9 295.8h0M371.0 330.1h0M379.3 290.6h0M385.3 321.8h0M373.6 321.1h0M386.6 323.8h0M375.2 285.2h0M377.1 256.9h0M374.5 303.8h0M376.0 251.3h0M376.4 247.1h0M383.8 307.7h0M377.7 318.0h0M383.3 298.9h0M378.7 347.6h0M379.8 320.7h0M379.9 269.8h0M373.4 314.8h0M378.8 304.9h0M369.7 308.7h0M374.1 283.6h0M389.3 326.7h0M380.2 319.7h0M373.8 323.7h0M394.6 310.6h0M375.0 309.3h0M377.1 266.3h0M379.5 318.1h0M371.1 278.9h0M378.1 300.5h0M379.0 321.2h0M371.7 314.2h0M377.0 317.7h0M379.9 273.2h0M379.5 330.9h0M375.3 282.1h0M377.4 285.7h0M372.8 325.5h0M377.6 294.8h0M376.1 299.8h0M377.5 292.4h0M378.8 262.3h0M373.2 306.3h0M382.0 294.4h0M376.9 284.9h0M378.9 297.1h0M378.2 295.1h0M395.5 311.3h0M382.1 297.7h0M376.8 264.3h0M373.5 287.9h0M384.2 300.5h0M387.5 293.9h0M378.9 282.0h0M376.5 297.0h0M370.4 302.9h0M384.6 322.9h0M379.5 297.8h0M376.7 320.1h0M381.0 320.9h0M386.2 305.6h0M375.1 305.9h0M374.2 283.8h0M376.7 293.7h0M373.4 298.1h0M376.5 289.5h0M381.8 344.0h0M376.9 282.3h0M377.3 296.0h0M373.2 289.2h0M372.9 314.9h0M387.0 294.4h0M376.0 282.5h0M386.3 310.1h0M373.9 309.9h0M380.4 335.2h0M380.6 347.1h0M373.8 321.8h0M379.6 327.3h0M377.3 267.8h0M384.9 302.2h0M373.2 299.9h0M378.2 316.7h0M370.7 316.3h0M383.8 314.2h0M371.1 339.3h0M385.5 314.7h0M381.4 299.8h0M392.1 345.6h0M378.6 296.4h0M374.3 275.1h0M380.5 307.9h0M371.6 288.1h0M373.3 323.8h0M375.2 309.4h0M376.2 308.5h0M373.8 323.9h0M376.3 321.5h0M375.0 301.3h0M375.4 295.4h0M389.4 301.7h0M378.1 282.7h0M380.6 303.3h0M377.5 308.6h0M383.1 312.2h0M378.9 268.5h0M375.1 329.3h0M374.7 328.7h0M374.6 299.9h0M376.3 342.8h0M392.1 330.9h0M386.0 289.9h0M371.4 316.6h0M377.9 295.4h0M374.2 303.0h0M381.2 267.2h0M377.3 266.4h0M377.6 262.6h0M381.8 294.9h0M384.6 286.3h0M370.4 297.1h0M373.4 297.4h0M372.3 322.4h0M375.6 302.5h0M376.1 254.9h0M374.7 307.2h0M372.8 321.3h0M373.1 322.7h0M377.1 302.1h0M387.8 321.6h0M377.4 290.4h0M373.2 266.0h0M375.8 326.1h0M376.4 294.4h0M380.7 274.9h0M380.7 282.8h0M377.5 290.1h0M374.8 348.0h0M374.0 313.0h0M373.2 312.4h0M376.0 319.5h0M385.2 301.1h0M369.7 292.5h0M377.5 254.2h0M378.4 320.0h0M374.9 271.5h0M377.1 293.8h0M381.4 272.3h0M379.0 301.0h0M375.3 322.0h0M390.1 335.1h0M376.3 302.7h0M378.8 318.5h0M375.6 262.7h0M380.6 303.6h0M375.7 287.1h0M379.3 300.6h0M377.0 278.8h0M377.4 260.8h0M375.5 294.2h0M374.7 288.6h0M377.5 269.7h0M379.1 339.8h0M374.5 303.8h0M379.5 325.1h0M386.4 288.7h0M378.5 328.4h0M379.1 288.5h0M383.7 324.7h0M380.2 301.7h0M375.6 318.7h0M374.9 308.0h0M377.7 289.8h0M375.1 312.8h0M374.8 276.2h0M391.8 334.4h0M386.0 303.5h0M373.1 291.3h0M376.2 313.1h0M387.6 306.8h0M376.0 311.6h0M373.6 333.8h0M374.8 320.1h0M370.5 304.3h0M383.0 285.1h0M387.6 334.7h0M370.8 318.1h0M389.8 317.5h0M376.0 343.4h0M376.0 330.8h0M378.7 284.9h0M372.1 326.4h0M385.4 329.3h0M373.9 323.4h0M372.4 275.7h0M375.8 320.6h0M374.5 311.9h0M376.7 287.4h0M372.8 288.6h0M377.1 271.2h0M382.6 316.0h0M376.4 274.0h0M377.1 308.6h0M375.8 310.2h0M374.0 267.4h0M380.9 267.2h0M378.3 290.6h0M380.0 287.1h0M376.9 250.0h0M380.1 320.6h0M378.1 320.5h0M377.9 315.5h0M378.2 247.3h0M375.1 300.0h0M376.2 272.0h0M371.8 310.6h0M381.8 279.0h0M373.8 306.3h0M376.2 324.9h0M375.7 282.6h0M373.4 289.9h0M377.9 322.1h0M377.0 262.1h0M381.6 308.0h0M375.1 262.7h0M376.7 250.8h0M394.5 329.8h0M377.3 255.1h0M377.6 302.0h0M376.5 323.8h0M373.8 314.2h0M373.1 300.6h0M378.1 265.7h0M374.8 265.4h0M379.1 286.0h0M374.0 292.5h0M374.4 349.8h0M381.7 314.9h0M373.7 311.1h0M376.9 289.2h0M380.1 319.6h0M380.0 291.6h0M384.2 309.8h0M380.9 281.9h0M378.5 318.1h0M376.3 313.6h0M380.5 332.8h0M375.9 313.1h0M375.6 278.5h0M374.7 330.7h0M376.1 278.7h0M375.3 311.7h0M379.6 300.8h0M396.3 329.7h0M380.2 313.9h0M389.6 329.8h0M377.5 328.6h0M378.7 287.9h0M377.5 344.4h0M373.9 304.5h0M382.6 328.6h0M374.9 315.6h0M374.7 300.8h0M368.7 304.4h0M374.7 324.8h0M378.1 305.0h0M375.0 332.0h0M375.5 295.5h0M378.1 261.1h0M379.0 296.3h0M379.0 320.1h0M375.3 279.0h0M376.0 279.1h0M377.1 292.3h0M376.2 271.9h0M375.0 286.3h0M379.7 317.8h0M376.5 321.1h0M371.8 291.3h0M387.2 304.8h0M374.9 304.1h0M375.0 318.8h0M378.1 329.7h0M381.1 317.7h0M378.5 337.8h0M373.2 316.1h0M378.5 297.8h0M377.7 319.4h0M384.5 301.5h0M379.5 306.6h0M377.5 287.4h0M381.8 335.8h0M390.2 337.6h0M377.0 300.9h0M374.7 259.4h0M375.1 307.0h0M376.3 315.1h0M375.0 283.8h0M377.8 311.0h0M374.9 320.0h0M379.7 308.3h0M372.7 303.4h0M379.7 299.1h0M374.8 319.6h0M378.3 269.3h0M374.9 280.7h0M378.4 267.4h0M377.9 285.8h0M386.8 336.1h0M374.0 271.9h0M376.7 305.0h0M377.9 289.0h0M377.8 302.9h0M377.1 271.0h0M378.1 279.2h0M370.1 301.8h0M376.8 307.1h0M377.1 310.0h0M388.1 343.4h0M384.0 317.6h0M381.9 274.1h0M380.3 312.1h0M372.9 283.6h0M387.4 331.3h0M377.2 328.6h0M372.2 324.2h0M372.8 295.0h0M379.6 327.2h0M381.3 307.8h0M385.8 331.4h0M384.9 287.3h0M372.2 300.5h0M376.8 291.0h0M384.8 309.4h0M381.8 276.8h0M375.7 295.1h0M379.5 284.2h0M375.5 330.9h0M372.9 290.4h0M380.6 270.6h0M377.9 300.8h0M371.8 284.5h0M383.0 313.7h0M376.9 285.6h0M378.1 338.1h0M374.7 315.3h0M377.9 323.0h0M383.1 331.0h0M380.4 280.6h0M379.3 283.0h0M374.4 281.8h0M374.8 285.7h0M377.3 287.3h0M376.7 246.6h0M377.7 294.0h0M386.3 317.3h0M376.9 305.5h0M379.4 285.5h0M377.5 253.8h0M375.9 251.1h0M375.0 318.2h0M376.3 249.1h0M381.9 281.1h0M381.5 302.4h0M376.8 335.9h0M378.2 288.5h0M377.6 280.9h0M383.3 326.1h0M374.4 296.8h0M374.3 251.8h0M381.0 280.1h0M378.2 323.0h0M380.4 279.2h0M388.6 336.1h0M375.3 264.5h0M382.3 327.4h0M379.1 250.4h0M378.6 297.3h0M376.8 314.7h0M377.7 254.2h0M376.3 285.0h0M373.5 312.1h0M378.5 296.4h0M368.5 305.2h0M376.0 260.8h0M379.5 332.1h0M386.6 289.4h0M385.9 332.1h0M375.7 297.0h0M386.6 295.5h0M374.3 309.5h0M378.1 281.8h0M375.4 283.6h0M383.9 318.5h0M373.6 337.2h0M373.2 299.6h0M380.2 322.0h0M384.3 294.8h0M373.6 343.3h0M376.8 304.1h0M375.9 280.0h0M391.4 321.6h0M378.3 287.6h0M379.7 289.4h0M382.6 285.0h0M376.5 325.8h0M377.4 255.3h0M376.9 270.1h0M377.4 269.1h0M375.6 306.3h0M375.5 314.8h0M375.2 285.2h0M375.4 342.8h0M387.0 333.8h0M382.0 296.8h0M378.3 300.3h0M383.3 318.5h0M380.6 273.4h0M392.2 307.4h0M373.5 290.2h0M376.3 286.6h0M384.9 299.5h0M374.6 305.3h0M368.4 301.1h0M376.0 323.0h0M373.0 339.7h0M378.6 286.1h0M386.7 316.5h0M377.6 321.5h0M377.2 282.7h0M377.2 315.0h0M375.7 269.1h0M371.0 309.7h0M376.7 327.0h0M382.0 311.6h0M378.7 322.1h0M386.3 308.1h0M381.3 340.7h0M375.2 299.8h0M373.2 303.0h0M378.4 278.0h0M377.1 295.3h0M371.4 301.2h0M382.5 293.2h0M374.7 321.7h0M376.3 296.2h0M376.3 315.4h0M375.9 298.2h0M376.4 290.2h0M380.3 271.7h0M391.0 322.6h0M379.9 296.7h0M376.6 301.0h0M374.7 276.3h0M370.7 289.3h0M377.9 278.0h0M378.8 263.9h0M384.1 307.7h0M374.6 323.1h0M380.6 329.1h0M376.5 335.3h0M373.5 291.8h0M381.1 290.1h0M376.6 307.1h0M378.5 243.6h0M383.9 320.5h0M372.2 296.7h0M379.7 336.4h0M375.0 274.6h0M376.8 331.8h0M383.7 306.0h0M375.7 295.9h0M388.7 349.2h0M383.5 321.4h0M370.4 296.4h0M374.2 271.2h0M376.0 252.5h0M392.8 311.5h0M381.4 332.3h0M376.3 286.8h0M375.4 326.3h0M378.3 299.7h0M377.1 253.6h0M376.5 247.6h0M383.5 303.4h0M370.9 326.9h0M382.9 299.9h0M379.4 327.5h0M376.9 277.6h0M373.2 324.3h0M375.6 292.0h0M373.9 302.9h0M381.3 332.4h0M378.6 274.9h0M377.8 287.9h0M380.0 309.1h0M378.2 298.8h0M379.7 302.0h0M380.0 308.4h0M379.3 319.1h0M379.3 277.7h0M380.8 328.1h0M380.9 283.9h0M386.9 288.4h0M374.1 296.6h0M376.8 284.8h0M376.3 313.5h0M385.2 332.7h0M375.1 283.7h0M375.6 312.4h0M377.8 273.5h0M376.1 247.9h0M376.7 268.4h0M379.0 321.8h0M376.1 304.3h0M374.0 292.2h0M379.3 257.7h0M383.4 273.8h0M377.8 258.6h0M380.8 293.7h0M374.6 286.6h0M378.1 261.9h0M379.5 314.8h0M370.8 324.0h0M374.8 304.4h0M385.5 306.7h0M375.6 284.5h0M375.6 303.9h0M378.7 279.8h0M372.9 321.9h0M376.4 313.0h0M382.3 307.0h0M374.1 303.5h0M377.7 288.4h0M372.1 313.6h0M375.9 304.4h0M388.5 310.4h0M377.8 276.8h0M383.4 310.5h0M378.7 294.6h0M377.3 306.9h0M380.1 294.4h0M376.9 273.8h0M378.8 268.6h0M389.5 315.0h0M375.6 292.1h0M379.4 346.3h0M382.6 318.7h0M389.2 336.1h0M378.0 329.7h0M380.5 269.9h0M380.1 292.7h0M377.8 299.1h0M375.4 309.3h0M377.6 341.0h0M380.4 315.2h0M376.9 262.6h0M384.8 318.0h0M379.8 262.3h0M377.0 323.6h0M388.4 327.7h0M376.4 287.8h0M379.3 302.9h0M375.9 310.9h0M384.4 319.3h0M374.0 314.3h0M394.7 319.2h0M378.2 269.6h0M378.1 310.9h0M375.0 316.3h0M375.5 325.9h0M377.9 248.0h0M379.2 273.3h0M378.5 312.5h0M377.0 257.1h0M380.0 281.7h0M378.6 275.9h0M378.2 323.6h0M375.1 276.4h0M377.5 265.5h0M374.4 275.9h0M377.8 282.6h0M375.5 272.7h0M377.0 292.2h0M377.0 292.4h0M391.5 313.9h0M378.2 349.5h0M371.7 329.0h0M377.9 328.0h0M380.0 335.3h0M379.5 343.8h0M383.7 316.4h0M379.7 260.3h0M377.2 277.8h0M376.2 301.9h0M371.3 331.0h0M381.3 301.6h0M372.7 274.2h0M376.3 323.7h0M375.4 327.7h0M380.0 316.2h0M375.7 313.8h0M375.9 302.7h0M377.4 275.8h0M375.3 303.1h0M383.9 340.4h0M373.9 273.0h0M375.3 289.6h0M381.2 277.4h0M376.6 256.5h0M389.1 339.8h0M373.8 288.9h0M375.4 251.6h0M385.5 308.8h0M377.4 325.3h0M372.5 309.3h0M380.9 289.7h0M383.0 294.6h0M384.4 317.8h0M387.7 329.8h0M377.3 312.7h0M379.4 310.3h0M375.6 274.1h0M376.3 314.0h0M373.9 295.9h0M379.9 309.1h0M377.1 283.9h0M394.0 317.9h0M372.3 295.9h0M375.6 302.9h0M378.5 274.8h0M373.1 294.8h0M383.2 318.1h0M374.1 296.2h0M374.5 321.9h0M375.7 260.9h0M378.1 307.8h0M384.4 300.1h0M371.1 301.6h0M379.7 321.9h0M379.6 284.4h0M376.2 280.3h0M377.0 258.9h0M373.1 322.8h0M390.4 321.9h0M381.3 278.4h0M388.5 329.5h0M379.4 300.9h0M376.2 340.6h0M378.7 340.2h0M381.8 312.9h0M378.7 279.5h0M390.0 345.7h0M372.0 302.0h0M382.1 298.0h0M377.5 297.8h0M374.2 301.0h0M373.5 280.5h0M382.9 288.8h0M378.4 286.4h0M376.1 254.9h0M378.8 293.1h0M386.3 313.8h0M376.6 296.8h0M379.1 304.3h0M375.2 307.9h0M379.5 296.0h0M383.5 288.4h0M374.8 286.7h0M377.8 295.1h0M379.2 274.9h0M388.0 294.9h0M374.8 278.4h0M376.8 291.4h0M376.0 291.6h0M380.1 311.3h0M374.7 290.0h0M378.5 281.3h0M379.3 286.1h0M383.4 330.1h0M379.7 315.1h0M376.4 323.9h0M379.1 303.8h0M371.9 315.6h0M375.6 304.2h0M385.4 307.4h0M377.8 275.9h0M380.8 285.3h0M380.2 263.8h0M383.3 292.3h0M376.3 277.7h0M378.9 336.3h0M373.3 316.5h0M389.2 309.0h0M375.8 311.8h0M378.5 257.7h0M377.7 300.5h0M384.1 305.4h0M379.9 312.2h0M379.0 324.9h0M380.4 280.4h0M387.5 336.0h0M375.7 271.5h0M375.7 287.1h0M377.4 300.9h0M374.5 299.4h0M377.1 333.5h0M388.5 304.3h0M379.0 294.7h0M375.1 289.4h0M375.2 301.3h0M371.5 274.0h0M382.3 278.5h0M374.4 252.4h0M376.1 323.2h0M375.1 295.6h0M374.1 290.1h0M373.7 345.2h0M370.1 304.7h0M377.9 299.1h0M376.8 320.2h0M374.6 314.9h0M373.9 329.2h0M376.4 294.1h0M382.8 341.2h0M377.0 317.9h0M386.7 313.4h0M387.4 310.2h0M382.1 297.8h0M378.8 282.1h0M373.4 331.3h0M372.8 307.2h0M374.9 281.6h0M372.6 305.9h0M377.9 281.8h0M377.0 302.1h0M375.2 309.0h0M384.8 329.3h0M379.4 305.2h0M377.1 298.9h0M373.5 286.7h0M371.1 294.3h0M377.5 282.9h0M380.5 281.0h0M379.7 312.1h0M369.3 314.0h0M389.1 314.6h0M376.2 329.2h0M374.7 293.6h0M381.2 291.1h0M374.1 326.4h0M376.5 263.6h0M379.1 299.0h0M380.4 295.6h0M379.2 283.6h0M380.5 289.0h0M372.8 327.1h0M375.3 268.2h0M376.0 325.7h0M375.3 316.2h0M384.0 317.0h0M373.5 298.2h0M388.2 304.1h0M378.3 284.9h0M379.5 308.7h0M375.3 331.0h0M373.4 301.5h0M384.0 325.2h0M382.1 283.0h0M382.7 287.2h0M377.7 301.5h0M387.4 313.1h0M375.2 330.7h0M375.2 306.0h0M374.6 294.7h0M376.2 312.1h0M374.0 334.7h0M387.1 337.2h0M393.8 331.7h0M377.2 249.6h0M378.8 298.9h0M392.1 315.0h0M382.2 324.7h0M374.0 314.7h0M379.2 304.0h0M382.4 280.0h0M386.8 320.5h0M378.0 337.9h0M379.5 256.0h0M378.9 320.0h0M378.2 304.4h0M385.4 319.9h0M375.2 307.4h0M376.6 294.1h0M377.7 302.3h0M373.1 288.7h0M379.6 321.0h0M375.8 271.3h0M382.0 313.3h0M372.4 301.4h0M379.5 322.2h0M384.0 298.1h0M386.7 315.3h0M374.0 302.0h0M378.4 281.3h0M376.0 342.3h0M374.5 311.5h0M379.9 306.6h0M383.4 306.6h0M379.3 290.8h0M381.2 324.4h0M382.6 302.7h0M375.6 271.0h0M385.4 316.5h0M386.2 323.4h0M390.9 335.4h0M378.0 286.5h0M381.7 316.6h0M378.0 312.6h0M379.3 325.5h0M384.6 316.1h0M370.7 314.6h0M377.7 287.1h0M377.6 307.2h0M373.6 290.4h0M377.8 318.3h0M375.1 286.9h0M378.7 297.5h0M374.3 289.5h0M388.7 303.5h0M378.9 272.6h0M376.2 284.9h0M379.0 280.5h0M382.2 303.0h0M390.3 308.0h0M385.2 295.0h0M377.8 324.1h0M382.5 285.8h0M386.2 307.2h0M377.1 329.0h0M373.1 304.8h0M375.1 321.3h0M378.7 327.1h0M377.1 279.5h0M372.9 319.7h0M379.5 320.7h0M378.4 311.2h0M374.7 314.9h0M381.6 278.0h0M377.9 279.1h0M371.6 289.1h0M379.4 296.8h0M391.5 299.5h0M372.8 313.6h0M384.4 314.8h0M374.7 310.1h0M386.6 310.2h0M378.5 253.4h0M377.4 331.9h0M376.3 313.8h0M377.0 287.7h0M376.9 310.6h0M380.8 290.0h0M374.4 272.2h0M375.2 300.2h0M377.8 276.8h0M377.4 256.9h0M374.1 267.0h0M376.5 261.2h0M377.1 308.7h0M375.4 302.6h0M378.0 289.1h0M379.7 274.4h0M377.4 292.0h0M378.2 331.6h0M379.0 288.0h0M373.1 280.3h0M376.1 286.4h0M380.0 265.2h0M377.8 318.9h0M378.9 304.3h0M375.2 295.5h0M382.7 290.2h0M378.7 266.7h0M376.2 275.7h0M386.0 306.0h0M377.6 312.2h0M371.2 294.9h0M380.1 319.8h0M378.4 266.5h0M372.9 262.7h0M377.1 291.8h0M378.1 276.2h0M371.6 279.5h0M377.3 252.4h0M381.5 303.3h0M385.2 303.4h0M377.2 331.5h0M383.0 317.2h0M373.7 301.9h0M378.7 295.6h0M376.9 309.3h0M375.6 289.3h0M374.7 320.3h0M378.4 278.5h0M382.3 271.4h0M374.9 322.4h0M379.9 330.8h0M379.4 275.7h0M374.1 280.8h0M379.6 283.6h0M376.4 328.9h0M383.6 307.7h0M385.1 316.7h0M376.7 294.9h0M372.7 338.3h0M376.0 338.6h0M372.8 314.7h0M378.6 284.0h0M385.3 325.7h0M385.3 295.6h0M381.8 315.5h0M380.8 281.4h0M383.5 307.4h0M388.6 322.5h0M375.0 271.0h0M377.8 246.0h0M380.8 294.9h0M373.3 300.3h0M379.0 278.2h0M383.9 299.3h0M377.1 287.6h0M374.3 311.0h0M384.2 290.3h0M378.9 306.0h0M377.9 303.8h0M376.3 347.6h0M371.6 309.2h0M384.7 288.6h0M377.3 253.8h0M378.2 298.0h0M371.9 301.1h0M392.2 321.7h0M380.3 256.6h0M376.3 315.3h0M380.9 334.0h0M378.7 274.8h0M378.6 278.7h0M378.2 272.0h0M376.6 254.8h0M374.8 270.6h0M383.1 307.5h0M373.8 310.5h0M371.8 280.4h0M386.1 318.3h0M379.0 312.3h0M376.2 247.0h0M382.8 313.6h0M382.5 340.2h0M379.0 291.0h0M384.0 285.4h0M381.8 284.6h0M374.9 283.4h0M379.0 296.1h0M380.4 291.6h0M376.3 319.6h0M386.3 346.4h0M377.9 270.3h0M377.3 277.7h0M379.5 290.7h0M381.3 287.6h0M376.2 302.3h0M375.4 340.5h0M378.2 325.6h0M383.5 291.3h0M375.0 298.2h0M371.6 303.1h0M378.5 262.1h0M378.9 267.2h0M377.0 274.7h0M387.5 324.4h0M381.3 319.5h0M375.6 324.7h0M374.7 304.7h0M372.8 303.0h0M371.4 315.6h0M377.6 275.2h0M373.4 303.5h0M374.8 310.8h0M379.9 311.2h0M382.9 331.7h0M376.4 279.5h0M372.1 300.4h0M375.9 296.4h0M371.5 303.5h0M384.6 320.6h0M378.7 278.6h0M375.5 277.8h0M377.6 287.4h0M377.3 285.8h0M386.2 312.0h0M373.7 264.0h0M380.8 304.6h0M374.6 282.6h0M373.9 273.1h0M373.2 285.2h0M376.6 277.7h0M378.6 262.2h0M377.6 301.6h0M381.6 277.3h0M380.0 301.0h0M375.7 248.8h0M373.0 336.9h0M382.8 326.8h0M378.0 296.1h0M384.7 304.4h0M377.4 306.2h0M373.2 295.2h0M374.6 261.8h0M371.2 335.9h0M377.2 253.0h0M379.3 316.0h0M376.5 314.4h0M376.7 258.4h0M382.4 329.7h0M387.7 310.5h0M373.3 303.2h0M375.1 328.3h0M378.3 275.8h0M379.7 293.3h0M370.1 317.1h0M375.8 275.3h0M384.6 335.1h0M376.0 331.7h0M374.5 307.9h0M373.0 310.3h0M377.6 274.8h0M388.4 296.0h0M377.8 283.5h0M375.1 295.3h0M375.4 262.2h0M382.7 329.4h0M378.1 269.7h0M373.6 287.9h0M377.2 250.0h0M373.2 282.3h0M383.2 313.3h0M388.9 343.5h0M373.8 315.8h0M377.1 306.3h0M371.3 291.4h0M394.9 329.2h0M377.9 346.7h0M375.7 330.2h0M372.8 303.2h0M375.9 259.5h0M377.6 266.8h0M381.8 274.0h0M375.0 326.7h0M372.6 326.4h0M371.0 294.7h0M381.3 284.7h0M383.1 309.9h0M379.7 302.2h0M376.4 312.1h0M371.6 300.3h0M378.0 306.5h0M388.2 305.3h0M374.4 299.3h0M379.2 287.4h0M375.7 298.1h0M378.4 310.1h0M369.8 291.7h0M381.7 337.7h0M374.9 250.4h0M385.4 329.2h0M376.5 291.2h0M375.9 319.9h0M377.1 302.4h0M377.6 282.8h0M382.2 299.9h0M383.8 280.3h0M374.7 306.6h0M371.0 336.6h0M379.2 260.5h0M384.0 323.3h0M381.2 309.9h0M375.8 318.9h0M374.2 304.0h0M374.1 334.1h0M380.7 290.8h0M380.0 294.7h0M378.8 277.6h0M376.4 272.3h0M377.5 289.9h0M373.6 312.1h0M376.9 274.2h0M373.4 283.3h0M378.7 286.9h0M375.0 291.2h0M377.4 263.5h0M378.3 279.9h0M377.8 287.1h0M375.1 303.0h0M375.7 333.6h0M380.7 298.5h0M372.4 293.6h0M381.8 289.2h0M380.3 307.6h0M378.9 280.2h0M375.7 323.7h0M380.7 303.5h0M377.2 289.5h0M377.8 297.5h0M377.8 284.2h0M389.9 334.5h0M375.8 286.5h0M374.0 268.6h0M380.1 302.4h0M379.5 258.5h0M386.2 346.2h0M381.7 289.9h0M376.2 281.9h0M377.0 300.6h0M374.9 265.8h0M379.0 303.2h0M371.5 271.6h0M374.3 285.6h0M377.8 334.7h0M377.7 281.4h0M378.4 317.2h0M376.6 300.9h0M376.6 299.0h0M373.4 291.1h0M383.1 324.0h0M375.6 332.5h0M378.2 305.7h0M384.7 313.2h0M378.1 317.9h0M373.3 305.4h0M375.2 299.1h0M375.4 273.5h0M386.4 307.7h0M376.4 283.7h0M376.8 249.0h0M376.2 319.1h0M382.4 290.1h0M378.0 311.7h0M377.3 347.8h0M381.9 324.3h0M383.1 296.7h0M373.8 288.8h0M373.8 299.9h0M381.2 296.5h0M376.5 296.5h0M375.8 289.3h0M378.4 298.0h0M379.8 321.7h0M377.0 286.6h0M371.5 295.7h0M390.4 328.9h0M375.0 304.8h0M375.1 327.5h0M380.8 300.6h0M375.5 280.4h0M377.2 313.1h0M378.0 284.0h0M381.0 297.6h0M374.1 301.2h0M379.4 313.8h0M385.3 313.4h0M375.7 319.5h0M380.1 265.4h0M393.9 327.8h0M375.9 287.8h0M378.7 271.3h0M390.2 306.2h0M378.1 318.4h0M378.2 301.0h0M373.4 306.3h0M372.9 275.7h0M373.2 338.0h0M373.8 287.7h0M377.4 269.1h0M376.6 259.7h0M373.0 327.5h0M374.1 303.0h0M373.8 279.2h0M388.4 344.4h0M373.8 268.2h0M374.0 295.8h0M389.2 293.6h0M383.7 294.4h0M372.9 313.9h0M374.7 348.5h0M373.8 307.9h0M379.4 310.0h0M374.1 297.5h0M375.1 260.2h0M376.0 274.4h0M380.3 289.5h0M372.5 272.1h0M377.4 274.4h0M383.5 295.2h0M372.6 269.0h0M377.2 297.3h0M384.0 298.8h0M377.4 302.3h0M373.1 293.9h0M375.6 255.4h0M384.7 294.5h0M376.5 279.1h0M371.1 302.1h0M377.9 294.8h0M375.4 296.6h0M372.5 318.5h0M384.3 304.3h0M381.0 320.0h0M374.8 308.6h0M388.7 340.8h0M373.9 311.9h0M390.5 290.4h0M391.8 319.2h0M373.0 311.0h0M375.7 288.9h0M376.5 267.0h0M378.4 320.2h0M379.0 294.1h0M373.9 306.8h0M378.7 328.2h0M388.3 292.6h0M376.4 334.1h0M375.2 307.2h0M393.9 288.5h0M372.3 332.3h0M394.2 331.0h0M372.2 284.9h0M373.3 294.2h0M382.9 299.2h0M375.7 321.1h0M381.3 295.0h0M377.9 305.2h0M377.0 314.2h0M374.6 317.1h0M376.0 284.5h0M386.1 305.6h0M370.9 284.9h0M379.0 344.3h0M380.2 302.0h0M375.2 293.2h0M380.5 320.3h0M376.1 267.1h0M373.5 316.3h0M369.5 299.8h0M380.1 336.1h0M375.8 261.4h0M373.8 309.6h0M374.5 303.9h0M394.2 333.5h0M372.4 272.9h0M377.2 273.5h0M377.6 267.8h0M379.3 312.2h0M379.1 286.6h0M377.4 333.0h0M379.8 286.4h0M377.1 300.0h0M376.9 347.7h0M374.0 278.2h0M376.9 347.3h0M375.6 281.7h0M375.8 267.5h0M378.6 274.0h0M379.6 290.8h0M376.0 299.8h0M377.1 303.5h0M376.6 324.5h0M377.2 297.5h0M376.4 317.1h0M372.4 296.7h0M377.4 280.4h0M380.1 343.1h0M375.9 326.0h0M376.3 313.6h0M376.2 294.9h0M379.1 270.0h0M376.8 302.2h0M377.7 284.4h0M380.9 315.0h0M375.1 318.0h0M373.9 317.9h0M382.1 325.5h0M376.2 296.6h0M379.0 326.1h0M376.2 327.3h0M380.7 295.2h0M375.4 318.4h0M374.7 312.4h0M380.4 311.3h0M377.1 291.7h0M378.4 285.3h0M377.5 276.4h0M378.5 291.4h0M375.7 264.8h0M385.9 307.0h0M391.7 326.7h0M380.9 293.2h0M373.3 292.3h0M373.1 323.1h0M374.0 322.1h0M383.3 272.3h0M377.4 262.1h0M387.5 292.0h0M376.8 330.7h0M372.7 312.9h0M378.5 291.7h0M374.0 299.8h0M375.4 334.8h0M373.5 291.1h0M382.6 302.2h0M371.3 292.8h0M375.8 293.2h0M376.6 286.7h0M378.5 249.4h0M375.8 247.2h0M376.8 290.6h0M376.7 255.8h0M375.4 316.4h0M378.1 337.3h0M377.4 276.0h0M374.8 331.8h0M371.2 285.7h0M377.4 256.0h0M392.3 330.6h0M384.8 306.5h0M375.2 265.5h0M377.5 293.8h0M376.6 308.8h0M376.6 287.5h0M375.6 294.8h0M383.6 304.5h0M376.7 294.8h0M372.0 292.6h0M373.8 277.2h0M375.1 332.3h0M386.3 312.4h0M376.4 324.4h0M374.6 280.1h0M370.0 304.6h0M374.4 330.1h0M378.0 302.3h0M388.1 321.2h0M378.5 333.4h0M381.9 278.8h0M387.1 301.9h0M378.6 343.4h0M394.3 334.9h0M376.6 277.6h0M371.1 328.8h0M376.8 286.3h0M375.8 262.0h0M376.8 316.7h0M382.1 295.2h0M378.3 302.6h0M376.8 309.1h0M387.2 344.0h0M382.5 305.8h0M374.2 299.6h0M377.0 317.2h0M384.9 327.6h0M382.3 306.1h0M375.0 251.7h0M374.5 302.4h0M383.7 314.9h0M383.0 303.8h0M379.3 310.0h0M373.5 330.7h0M388.0 305.3h0M376.9 324.9h0M375.3 271.4h0M376.0 341.5h0M376.3 297.9h0M371.3 287.7h0M385.3 326.3h0M380.1 332.2h0M380.5 314.1h0M375.5 295.1h0M375.3 325.7h0M373.2 296.2h0M378.7 317.3h0M377.3 252.0h0M376.6 284.2h0M373.6 278.9h0M376.2 293.1h0M380.2 327.5h0M380.3 301.2h0M381.4 282.7h0M376.7 259.9h0M376.4 323.7h0M378.4 331.6h0M373.7 274.2h0M392.9 311.3h0M376.7 293.9h0M377.6 314.2h0M375.7 311.9h0M384.8 295.3h0M374.4 313.3h0M384.9 312.3h0M378.5 271.9h0M381.6 304.6h0M374.2 305.3h0M386.7 346.4h0M371.7 311.2h0M374.3 290.2h0M375.4 298.1h0M376.5 323.0h0M386.4 301.0h0M387.0 314.8h0M383.1 289.3h0M377.2 319.2h0M378.7 318.8h0M386.2 315.3h0M377.3 310.7h0M377.8 296.7h0M377.9 319.8h0M378.7 275.9h0M373.9 342.3h0M374.1 269.6h0M384.1 299.0h0M375.3 287.8h0M381.9 278.2h0M378.7 292.4h0M373.6 299.5h0M375.6 289.6h0M380.8 312.8h0M378.4 295.5h0M378.9 275.8h0M377.7 332.7h0M370.7 301.1h0M375.8 311.5h0M373.6 321.0h0M375.7 328.4h0M378.6 303.6h0M372.2 317.2h0M373.7 262.7h0M384.6 300.8h0M380.7 337.9h0M379.8 297.3h0M380.1 275.1h0M373.1 292.5h0M381.2 308.4h0M377.2 318.2h0M375.0 265.3h0M375.8 305.7h0M372.0 302.9h0M370.7 323.5h0M377.0 318.0h0M376.2 329.8h0M385.8 324.5h0M369.5 302.7h0M384.3 306.6h0M381.0 304.2h0M376.8 299.6h0M374.7 278.8h0M380.6 335.1h0M375.2 342.4h0M377.9 321.6h0M376.9 247.9h0M376.8 296.5h0M374.1 315.9h0M377.9 303.2h0M377.1 284.6h0M374.4 277.1h0M377.0 306.7h0M376.0 277.3h0M379.6 282.4h0M381.2 294.1h0M378.5 305.4h0M375.5 301.9h0M372.9 341.7h0M371.9 284.5h0M380.0 302.6h0M379.1 257.5h0M369.8 312.7h0M392.9 334.1h0M375.2 318.0h0M380.9 299.4h0M371.0 311.4h0M378.6 279.5h0M374.9 299.1h0M375.6 283.4h0M382.7 333.4h0M380.1 291.2h0M375.5 324.6h0M374.3 302.9h0M373.9 292.3h0M383.9 293.9h0M377.1 274.4h0M377.5 320.0h0M382.6 310.7h0M380.0 293.7h0M371.1 295.6h0M372.9 299.4h0M381.3 330.8h0M372.6 255.0h0M382.7 318.3h0M375.1 300.1h0M373.1 313.0h0M378.5 289.8h0M375.6 334.9h0M375.0 259.8h0M375.8 324.6h0M392.8 290.1h0M374.8 325.3h0M376.1 268.6h0M380.8 345.1h0M374.6 298.7h0M383.6 310.5h0M379.0 302.4h0M379.2 305.5h0M375.9 329.1h0M373.6 284.5h0M383.2 315.2h0M392.0 313.6h0M376.1 301.8h0M376.5 293.0h0M371.3 305.4h0M392.5 289.4h0M376.3 300.1h0M380.3 334.3h0M381.6 292.7h0M377.7 282.2h0M372.8 275.2h0M372.4 283.9h0M374.9 274.7h0M382.7 313.3h0M379.5 298.5h0M374.8 302.1h0M376.7 331.6h0M380.1 313.3h0M378.1 297.7h0M371.7 295.5h0M376.4 317.3h0M382.6 309.3h0M389.4 311.8h0M376.0 302.1h0M371.7 343.8h0M372.8 314.2h0M379.6 321.9h0M379.4 278.4h0M377.6 342.3h0M378.4 341.5h0M375.4 276.2h0M376.7 252.7h0M374.6 272.8h0M382.0 285.2h0M374.4 258.3h0M377.0 287.1h0M378.0 302.0h0M381.9 321.9h0M378.6 314.4h0M393.5 326.2h0M373.8 315.6h0M375.1 275.8h0M376.0 299.0h0M382.2 318.9h0M384.8 324.6h0M378.9 279.5h0M371.5 301.4h0M377.9 271.7h0M374.1 343.4h0M380.9 270.9h0M376.3 279.7h0M376.3 310.5h0M376.7 291.5h0M371.0 303.5h0M377.1 278.3h0M379.8 296.3h0M373.4 299.4h0M376.5 274.9h0M387.2 348.6h0M376.6 287.0h0M378.8 322.0h0M376.0 270.0h0M374.7 317.7h0M383.7 318.6h0M384.8 297.9h0M377.0 308.4h0M381.2 284.1h0M377.8 264.9h0M387.9 307.1h0M381.5 312.4h0M382.6 315.5h0M374.7 254.2h0M382.7 329.2h0M374.8 321.0h0M377.5 338.8h0M382.1 284.8h0M378.6 314.4h0M379.7 271.1h0M378.0 303.3h0M373.0 274.3h0M373.8 326.1h0M372.9 311.7h0M376.6 260.4h0M376.3 278.7h0M375.5 303.5h0M373.2 306.7h0M373.2 338.8h0M377.4 305.3h0M374.0 301.6h0M375.2 292.3h0M377.6 319.5h0M379.0 295.2h0M377.4 260.6h0M375.7 301.6h0M375.0 286.5h0M383.0 285.7h0M376.6 306.7h0M374.0 286.1h0M375.3 276.3h0M376.0 315.5h0M383.6 300.1h0M380.9 329.6h0M374.0 305.0h0M375.4 262.1h0M374.8 291.4h0M390.0 349.0h0M375.2 341.1h0M374.0 307.4h0M375.6 328.9h0M379.7 304.4h0M375.0 298.8h0M378.3 290.7h0M378.4 292.5h0M376.3 303.0h0M379.9 300.3h0M375.5 310.9h0M379.2 305.5h0M385.6 307.6h0M382.6 284.2h0M375.1 259.4h0M383.8 291.5h0M376.1 297.0h0M373.7 285.3h0M380.6 330.7h0M380.5 257.4h0M374.0 320.8h0M376.7 252.4h0M385.4 311.2h0M369.7 307.4h0M383.0 332.0h0M383.0 337.1h0M379.5 271.2h0M376.0 331.5h0M374.7 319.8h0M384.1 296.3h0M379.3 332.5h0M373.8 302.5h0M376.6 276.5h0M375.8 322.6h0M373.6 342.6h0M376.6 350.5h0M372.8 289.5h0M379.6 278.6h0M383.1 306.9h0M369.9 300.5h0M374.2 276.7h0M375.2 256.1h0M387.2 322.9h0M377.6 266.9h0M387.5 318.2h0M378.8 296.6h0M375.0 331.7h0M373.8 280.5h0M376.3 288.5h0M378.3 308.7h0M376.8 326.8h0M376.1 315.7h0M377.9 323.5h0M376.6 260.6h0M378.0 291.6h0M381.7 282.5h0M383.6 312.7h0M379.7 323.2h0M376.2 308.3h0M373.8 329.7h0M375.6 294.7h0M375.3 302.3h0M376.1 304.7h0M378.2 276.1h0M373.1 306.0h0M379.3 336.2h0M373.8 263.5h0M375.9 264.6h0M378.4 251.6h0M386.2 303.3h0M371.9 274.2h0M384.6 301.6h0M376.0 346.0h0M390.9 331.5h0M376.6 336.3h0M377.8 289.8h0M372.1 277.6h0M380.1 277.3h0M372.7 256.3h0M379.5 266.7h0M375.3 334.8h0M371.9 309.5h0M383.2 297.7h0M372.6 292.0h0M381.7 303.9h0M375.3 325.8h0M382.5 283.6h0M378.7 300.5h0M379.0 285.7h0M376.2 286.5h0M379.9 253.1h0M387.9 333.6h0M375.6 287.1h0M377.0 268.5h0M380.3 334.9h0M387.8 339.9h0M381.0 292.6h0M378.3 259.2h0M380.9 295.6h0M379.6 323.8h0M381.1 310.5h0M379.8 276.9h0M375.2 267.2h0M377.9 252.6h0M371.7 313.2h0M386.1 321.2h0M375.0 305.4h0M376.4 283.1h0M377.5 349.7h0M380.4 296.9h0M380.7 288.3h0M374.8 308.3h0M373.7 308.1h0M384.5 314.0h0M377.4 297.6h0M382.0 330.6h0M374.4 347.2h0M385.7 279.8h0M376.2 312.4h0M381.1 264.8h0M375.3 257.7h0M373.3 346.2h0M376.6 291.5h0M374.9 289.1h0M374.7 300.2h0M380.9 319.7h0M374.8 308.5h0M376.7 281.9h0M380.7 269.8h0M389.2 313.7h0M375.1 298.1h0M372.9 292.3h0M376.5 326.6h0M382.7 294.9h0M376.6 256.5h0M375.6 309.9h0M382.0 287.5h0M375.0 313.9h0M375.9 315.2h0M376.2 327.2h0M376.9 315.0h0M378.2 305.6h0M376.2 294.5h0M379.6 309.1h0M371.6 308.7h0M376.8 285.1h0M380.8 283.3h0M380.1 275.1h0M379.3 340.6h0M373.5 296.6h0M389.0 293.2h0M377.0 274.7h0M378.7 287.9h0M386.6 320.5h0M374.0 284.4h0M385.0 341.6h0M382.9 325.1h0M369.8 301.9h0M376.1 262.9h0M379.7 302.5h0M373.9 318.3h0M380.3 282.5h0M375.7 272.7h0M376.4 287.7h0M382.2 318.9h0M384.4 317.6h0M371.9 265.5h0M384.1 321.1h0M371.5 288.8h0M379.0 319.5h0M385.2 321.2h0M373.3 304.7h0M376.9 301.5h0M375.6 296.7h0M377.0 299.5h0M380.2 319.6h0M379.2 295.7h0M377.2 257.4h0M378.4 303.5h0M374.9 275.2h0M381.4 335.8h0M375.0 260.1h0M369.8 303.9h0M376.2 315.7h0M375.9 313.6h0M388.3 320.0h0M375.0 314.2h0M373.3 312.0h0M376.0 277.6h0M378.7 314.6h0M383.7 339.9h0M379.5 248.6h0M379.9 312.3h0M387.1 345.1h0M374.6 260.9h0M382.2 312.1h0M377.2 330.1h0M375.1 307.8h0M385.0 306.7h0M386.1 331.6h0M374.6 312.2h0M377.3 305.1h0M375.0 282.9h0M390.6 302.7h0M370.6 282.4h0M374.6 306.5h0M384.6 323.8h0M377.5 262.3h0M378.4 262.8h0M373.4 321.9h0M394.5 309.5h0M381.8 281.0h0M381.9 281.6h0M376.3 284.0h0M386.5 309.5h0M384.4 312.3h0M377.8 272.9h0M381.9 268.0h0M375.0 296.6h0M374.7 276.5h0M376.4 289.5h0M382.7 302.1h0M379.9 296.0h0M380.6 311.9h0M388.9 312.9h0M382.3 295.7h0M380.8 281.2h0M374.7 320.3h0M373.0 312.2h0M371.3 330.0h0M383.9 287.5h0M377.9 311.2h0M377.7 301.7h0M375.8 308.4h0M377.4 293.8h0M381.2 274.9h0M374.3 305.3h0M376.2 287.2h0M374.6 311.4h0M375.3 272.4h0M377.6 291.9h0M383.9 311.8h0M383.1 314.5h0M371.1 331.6h0M383.4 310.0h0M381.6 307.0h0M373.1 292.8h0M379.8 333.3h0M372.7 291.0h0M379.0 284.8h0M373.0 269.4h0M379.1 297.1h0M380.8 279.2h0M376.4 261.3h0M390.0 320.0h0M375.8 299.7h0M377.4 331.1h0M376.0 276.1h0M375.0 257.0h0M390.3 300.9h0M374.2 294.2h0M376.2 326.3h0M376.7 279.8h0M374.3 275.6h0M379.3 325.4h0M383.5 305.9h0M374.8 270.3h0M376.4 262.4h0M379.6 321.5h0M380.5 271.6h0M374.8 333.2h0M389.3 322.3h0M372.0 291.8h0M374.6 258.3h0M376.5 276.1h0M378.4 313.2h0M380.8 277.6h0M375.7 321.0h0M374.3 286.1h0M375.8 297.5h0M379.5 312.1h0M378.1 256.4h0M378.8 296.7h0M378.1 290.9h0M376.8 303.9h0M375.4 294.7h0M388.9 336.5h0M379.7 268.5h0M379.3 309.2h0M376.1 262.6h0M385.0 330.9h0M374.9 303.1h0M379.5 312.0h0M376.5 294.5h0M374.2 297.3h0M379.0 270.8h0M379.6 328.7h0M386.9 332.5h0M372.3 269.7h0M380.5 279.4h0M394.2 320.3h0M376.3 305.4h0M386.9 329.1h0M395.0 334.2h0M373.6 323.1h0M376.8 307.4h0M371.5 282.3h0M377.7 268.3h0M373.1 313.3h0M379.2 285.4h0M373.8 289.2h0M374.4 335.6h0M381.0 273.8h0M378.2 322.5h0M372.7 293.0h0M383.2 317.6h0M369.3 312.7h0M373.6 255.1h0M370.3 330.6h0M388.8 305.6h0M377.5 287.1h0M376.8 259.6h0M377.0 335.2h0M376.2 305.4h0M377.1 264.8h0M389.8 319.3h0M377.8 299.9h0M383.0 296.0h0M374.6 287.4h0M373.9 314.7h0M378.1 296.2h0M382.2 291.5h0M376.0 313.1h0M388.8 331.0h0M372.6 270.6h0M386.6 319.2h0M380.7 308.9h0M378.1 305.2h0M374.9 261.1h0M389.6 333.5h0M375.2 312.0h0M371.1 327.0h0M380.5 327.6h0M375.8 318.2h0M375.0 254.5h0M390.6 312.1h0M374.1 312.4h0M378.1 316.1h0M382.8 298.4h0M382.5 341.8h0M375.5 265.8h0M377.2 268.2h0M378.4 283.2h0M378.8 247.4h0M379.7 295.1h0M379.8 312.1h0M377.5 327.6h0M376.0 299.9h0M377.1 297.0h0M377.1 345.1h0M384.2 308.4h0M372.6 288.7h0M375.3 277.6h0M375.5 283.4h0M371.3 303.9h0M380.5 269.9h0M378.9 291.4h0M373.0 260.9h0M376.1 325.6h0M375.5 261.2h0M377.0 334.9h0M379.1 286.3h0M378.1 289.4h0M391.4 321.3h0M381.7 281.7h0M372.0 304.0h0M382.6 310.6h0M374.6 305.4h0M375.6 331.2h0M376.9 319.1h0M381.8 286.7h0M373.6 333.4h0M381.8 285.5h0M375.8 257.0h0M386.1 305.4h0M374.9 290.8h0M378.3 270.2h0M377.6 290.7h0M376.8 266.7h0M385.3 320.5h0M390.2 336.2h0M373.3 301.0h0M376.5 298.5h0M388.6 306.3h0M377.0 348.4h0M377.5 315.6h0M374.8 330.7h0M385.5 312.3h0M389.2 320.8h0M374.0 319.4h0M374.7 290.0h0M376.2 290.0h0M377.1 286.4h0M374.2 276.4h0M376.0 285.2h0M374.7 326.8h0M370.5 307.9h0M380.9 279.3h0M375.5 309.8h0M372.5 339.5h0M382.4 300.5h0M371.3 330.3h0M380.4 280.9h0M373.0 324.7h0M376.4 266.0h0M389.0 335.6h0M382.7 287.1h0M381.8 304.3h0M372.3 287.1h0M374.7 331.8h0M378.2 281.1h0M382.9 288.4h0M375.8 348.8h0M381.1 267.9h0M372.1 302.4h0M387.6 340.7h0M373.9 307.4h0M390.2 314.1h0M375.5 307.8h0M378.8 285.3h0M375.7 329.2h0M375.6 323.1h0M375.4 318.3h0M376.8 319.9h0M370.7 308.4h0M381.0 340.8h0M375.2 274.9h0M379.9 314.4h0M372.3 289.9h0M377.9 288.8h0M377.8 273.0h0M374.9 251.7h0M380.4 250.7h0M381.3 310.0h0M379.6 322.5h0M384.0 323.3h0M373.4 330.8h0M385.3 307.1h0M373.8 277.2h0M377.8 321.6h0M375.6 273.4h0M374.7 274.5h0M377.5 320.6h0M378.9 280.9h0M378.6 285.0h0M373.9 306.6h0M373.8 305.5h0M375.7 290.9h0M374.8 320.7h0M377.9 279.6h0M375.8 343.5h0M381.9 310.4h0M371.9 297.7h0M377.1 301.7h0M381.4 308.9h0M391.6 334.2h0M379.7 274.9h0M386.7 303.4h0M374.8 312.4h0M387.1 317.4h0M374.9 261.2h0M383.1 317.5h0M379.2 290.6h0M377.0 312.4h0M378.5 312.6h0M377.4 273.4h0M385.0 309.0h0M376.7 308.7h0M369.3 310.9h0M379.9 316.6h0M373.2 287.1h0M379.9 306.3h0M376.6 323.7h0M377.6 304.1h0M375.1 344.4h0M381.8 313.0h0M377.6 279.2h0M384.6 305.4h0M381.6 279.7h0M375.1 294.4h0M371.9 319.1h0M384.9 313.0h0M372.4 297.9h0M374.6 298.9h0M372.1 332.9h0M378.3 254.0h0M378.4 259.4h0M375.7 293.3h0M374.1 328.8h0M393.0 320.2h0M374.2 289.9h0M387.4 338.4h0M377.2 324.0h0M379.4 291.8h0M375.4 270.5h0M378.9 274.9h0M379.7 302.4h0M371.3 286.8h0M376.5 272.6h0M375.1 272.8h0M380.2 313.5h0M378.6 284.8h0M375.5 297.5h0M384.3 280.4h0M378.3 315.1h0M375.3 270.6h0M374.6 289.7h0M391.0 319.7h0M370.8 285.4h0M382.3 285.8h0M376.8 338.1h0M383.0 270.0h0M378.2 279.1h0M376.8 301.0h0M375.4 316.9h0M383.2 290.0h0M394.4 330.7h0M378.2 314.1h0M371.5 325.9h0M385.1 342.6h0M375.2 329.8h0M381.7 306.9h0M378.8 298.4h0M370.6 317.6h0M375.3 306.9h0M373.7 314.9h0M379.5 318.8h0M377.8 306.1h0M377.0 265.2h0M380.7 290.5h0M374.5 276.3h0M373.8 315.8h0M388.0 349.2h0M379.0 293.0h0M373.5 273.6h0M377.2 322.5h0M375.4 326.6h0M374.8 291.3h0M381.2 276.1h0M386.2 315.8h0M380.6 341.0h0M382.9 297.2h0M376.3 298.3h0M378.4 292.2h0M374.7 306.6h0M376.4 308.7h0M375.2 265.3h0M375.8 262.0h0M376.0 258.9h0M377.4 262.3h0M379.3 315.9h0M380.7 305.1h0M372.2 302.4h0M382.7 312.3h0M375.1 282.4h0M374.1 247.9h0M379.2 246.8h0" stroke="#d0041f" stroke-width="1.80" stroke-linecap="round" fill="none"/></g>
<text x="0.50" y="10.10" font-size="10.6" text-anchor="start" fill="#000" font-weight="bold" stroke="#000" stroke-width="0.4">A</text>
<text x="265.90" y="10.10" font-size="10.6" text-anchor="start" fill="#000" font-weight="bold" stroke="#000" stroke-width="0.4">B</text>
<text x="0.50" y="212.40" font-size="10.6" text-anchor="start" fill="#000" font-weight="bold" stroke="#000" stroke-width="0.4">C</text>
<text x="265.90" y="212.40" font-size="10.6" text-anchor="start" fill="#000" font-weight="bold" stroke="#000" stroke-width="0.4">D</text>
<line x1="40" y1="16" x2="40" y2="157.2" stroke="#505050" stroke-width="1.8"/>
<line x1="39.2" y1="156.5" x2="250" y2="156.5" stroke="#404040" stroke-width="1.5"/>
<line x1="37" y1="151.7" x2="40" y2="151.7" stroke="#444" stroke-width="1"/>
<line x1="37" y1="116.6" x2="40" y2="116.6" stroke="#444" stroke-width="1"/>
<line x1="37" y1="81.5" x2="40" y2="81.5" stroke="#444" stroke-width="1"/>
<line x1="37" y1="46.4" x2="40" y2="46.4" stroke="#444" stroke-width="1"/>
<line x1="45.6" y1="157" x2="45.6" y2="159.6" stroke="#444" stroke-width="1"/>
<line x1="89.0" y1="157" x2="89.0" y2="159.6" stroke="#444" stroke-width="1"/>
<line x1="132.4" y1="157" x2="132.4" y2="159.6" stroke="#444" stroke-width="1"/>
<line x1="175.8" y1="157" x2="175.8" y2="159.6" stroke="#444" stroke-width="1"/>
<text x="33.50" y="154.25" font-size="8" text-anchor="end" fill="#2a2a2a" font-weight="normal" stroke="#2a2a2a" stroke-width="0.08">0</text>
<text x="33.50" y="119.15" font-size="8" text-anchor="end" fill="#2a2a2a" font-weight="normal" stroke="#2a2a2a" stroke-width="0.08">500</text>
<text x="33.50" y="84.05" font-size="8" text-anchor="end" fill="#2a2a2a" font-weight="normal" stroke="#2a2a2a" stroke-width="0.08">1000</text>
<text x="33.50" y="48.95" font-size="8" text-anchor="end" fill="#2a2a2a" font-weight="normal" stroke="#2a2a2a" stroke-width="0.08">1500</text>
<text x="45.60" y="169.75" font-size="8" text-anchor="middle" fill="#2a2a2a" font-weight="normal" stroke="#2a2a2a" stroke-width="0.08">0</text>
<text x="89.00" y="169.75" font-size="8" text-anchor="middle" fill="#2a2a2a" font-weight="normal" stroke="#2a2a2a" stroke-width="0.08">1000</text>
<text x="132.40" y="169.75" font-size="8" text-anchor="middle" fill="#2a2a2a" font-weight="normal" stroke="#2a2a2a" stroke-width="0.08">2000</text>
<text x="175.80" y="169.75" font-size="8" text-anchor="middle" fill="#2a2a2a" font-weight="normal" stroke="#2a2a2a" stroke-width="0.08">3000</text>
<text x="90.50" y="183.90" font-size="9.2" fill="#111" stroke="#111" stroke-width="0.38" textLength="78.20" lengthAdjust="spacingAndGlyphs">Total mHA-encoding SNPs</text>
<text transform="translate(9.00,118.30) rotate(-90)" x="0" y="0" font-size="9.6" fill="#111" stroke="#111" stroke-width="0.12" textLength="63.30" lengthAdjust="spacingAndGlyphs">Predicted GvL mHAS</text>
<line x1="305.5" y1="16" x2="305.5" y2="157.2" stroke="#1a1a1a" stroke-width="1.1"/>
<line x1="305" y1="156.6" x2="520" y2="156.6" stroke="#1a1a1a" stroke-width="1.2"/>
<line x1="302.3" y1="22.0" x2="305.5" y2="22.0" stroke="#555" stroke-width="1"/>
<line x1="302.3" y1="65.0" x2="305.5" y2="65.0" stroke="#555" stroke-width="1"/>
<line x1="302.3" y1="108.0" x2="305.5" y2="108.0" stroke="#555" stroke-width="1"/>
<line x1="302.3" y1="150.6" x2="305.5" y2="150.6" stroke="#555" stroke-width="1"/>
<line x1="314.5" y1="157" x2="314.5" y2="159.6" stroke="#555" stroke-width="1"/>
<line x1="341.73" y1="157" x2="341.73" y2="159.6" stroke="#555" stroke-width="1"/>
<line x1="368.96" y1="157" x2="368.96" y2="159.6" stroke="#555" stroke-width="1"/>
<line x1="396.19" y1="157" x2="396.19" y2="159.6" stroke="#555" stroke-width="1"/>
<line x1="423.42" y1="157" x2="423.42" y2="159.6" stroke="#555" stroke-width="1"/>
<line x1="450.65" y1="157" x2="450.65" y2="159.6" stroke="#555" stroke-width="1"/>
<line x1="477.88" y1="157" x2="477.88" y2="159.6" stroke="#555" stroke-width="1"/>
<line x1="505.11" y1="157" x2="505.11" y2="159.6" stroke="#555" stroke-width="1"/>
<text x="298.60" y="152.65" font-size="8" text-anchor="end" fill="#2a2a2a" font-weight="normal" stroke="#2a2a2a" stroke-width="0.08">0</text>
<text x="298.60" y="110.05" font-size="8" text-anchor="end" fill="#2a2a2a" font-weight="normal" stroke="#2a2a2a" stroke-width="0.08">200</text>
<text x="298.60" y="67.45" font-size="8" text-anchor="end" fill="#2a2a2a" font-weight="normal" stroke="#2a2a2a" stroke-width="0.08">400</text>
<text x="298.60" y="24.35" font-size="8" text-anchor="end" fill="#2a2a2a" font-weight="normal" stroke="#2a2a2a" stroke-width="0.08">600</text>
<text x="314.50" y="169.95" font-size="8" text-anchor="middle" fill="#2a2a2a" font-weight="normal" stroke="#2a2a2a" stroke-width="0.08">0.23</text>
<text x="341.73" y="169.95" font-size="8" text-anchor="middle" fill="#2a2a2a" font-weight="normal" stroke="#2a2a2a" stroke-width="0.08">0.24</text>
<text x="368.96" y="169.95" font-size="8" text-anchor="middle" fill="#2a2a2a" font-weight="normal" stroke="#2a2a2a" stroke-width="0.08">0.25</text>
<text x="396.19" y="169.95" font-size="8" text-anchor="middle" fill="#2a2a2a" font-weight="normal" stroke="#2a2a2a" stroke-width="0.08">0.26</text>
<text x="423.42" y="169.95" font-size="8" text-anchor="middle" fill="#2a2a2a" font-weight="normal" stroke="#2a2a2a" stroke-width="0.08">0.27</text>
<text x="450.65" y="169.95" font-size="8" text-anchor="middle" fill="#2a2a2a" font-weight="normal" stroke="#2a2a2a" stroke-width="0.08">0.28</text>
<text x="477.88" y="169.95" font-size="8" text-anchor="middle" fill="#2a2a2a" font-weight="normal" stroke="#2a2a2a" stroke-width="0.08">0.29</text>
<text x="505.11" y="169.95" font-size="8" text-anchor="middle" fill="#2a2a2a" font-weight="normal" stroke="#2a2a2a" stroke-width="0.08">0.30</text>
<text x="349.70" y="185.40" font-size="9.3" fill="#111" stroke="#111" stroke-width="0.38" textLength="120.60" lengthAdjust="spacingAndGlyphs">Pairwise genetic distance between DRP</text>
<text transform="translate(274.40,100.80) rotate(-90)" x="0" y="0" font-size="8.9" fill="#111" stroke="#111" stroke-width="0.12" textLength="30.40" lengthAdjust="spacingAndGlyphs">Frequency</text>
<line x1="40" y1="218.7" x2="40" y2="361.7" stroke="#505050" stroke-width="1.8"/>
<line x1="39.2" y1="361" x2="250" y2="361" stroke="#404040" stroke-width="1.5"/>
<line x1="37" y1="356.6" x2="40" y2="356.6" stroke="#444" stroke-width="1"/>
<line x1="37" y1="320.5" x2="40" y2="320.5" stroke="#444" stroke-width="1"/>
<line x1="37" y1="284.4" x2="40" y2="284.4" stroke="#444" stroke-width="1"/>
<line x1="37" y1="248.3" x2="40" y2="248.3" stroke="#444" stroke-width="1"/>
<line x1="58.6" y1="361.5" x2="58.6" y2="364" stroke="#444" stroke-width="1"/>
<line x1="107.1" y1="361.5" x2="107.1" y2="364" stroke="#444" stroke-width="1"/>
<line x1="155.7" y1="361.5" x2="155.7" y2="364" stroke="#444" stroke-width="1"/>
<line x1="204.2" y1="361.5" x2="204.2" y2="364" stroke="#444" stroke-width="1"/>
<text x="33.50" y="359.45" font-size="8" text-anchor="end" fill="#2a2a2a" font-weight="normal" stroke="#2a2a2a" stroke-width="0.08">0</text>
<text x="33.50" y="323.35" font-size="8" text-anchor="end" fill="#2a2a2a" font-weight="normal" stroke="#2a2a2a" stroke-width="0.08">500</text>
<text x="33.50" y="287.25" font-size="8" text-anchor="end" fill="#2a2a2a" font-weight="normal" stroke="#2a2a2a" stroke-width="0.08">1000</text>
<text x="33.50" y="251.15" font-size="8" text-anchor="end" fill="#2a2a2a" font-weight="normal" stroke="#2a2a2a" stroke-width="0.08">1500</text>
<text x="58.60" y="374.55" font-size="8" text-anchor="middle" fill="#2a2a2a" font-weight="normal" stroke="#2a2a2a" stroke-width="0.08">0.24</text>
<text x="107.10" y="374.55" font-size="8" text-anchor="middle" fill="#2a2a2a" font-weight="normal" stroke="#2a2a2a" stroke-width="0.08">0.26</text>
<text x="155.70" y="374.55" font-size="8" text-anchor="middle" fill="#2a2a2a" font-weight="normal" stroke="#2a2a2a" stroke-width="0.08">0.28</text>
<text x="204.20" y="374.55" font-size="8" text-anchor="middle" fill="#2a2a2a" font-weight="normal" stroke="#2a2a2a" stroke-width="0.08">0.30</text>
<text x="104.80" y="388.00" font-size="9.4" fill="#111" stroke="#111" stroke-width="0.38" textLength="81.50" lengthAdjust="spacingAndGlyphs">Pairwise distance per DRP</text>
<text transform="translate(8.60,335.00) rotate(-90)" x="0" y="0" font-size="9.3" fill="#111" stroke="#111" stroke-width="0.12" textLength="90.10" lengthAdjust="spacingAndGlyphs">Predicted GvL mHAS per DRP</text>
<line x1="305.5" y1="218.3" x2="305.5" y2="361.8" stroke="#1a1a1a" stroke-width="1.1"/>
<line x1="305" y1="361.2" x2="515" y2="361.2" stroke="#1a1a1a" stroke-width="1.2"/>
<line x1="302.3" y1="357.6" x2="305.5" y2="357.6" stroke="#555" stroke-width="1"/>
<line x1="302.3" y1="322.4" x2="305.5" y2="322.4" stroke="#555" stroke-width="1"/>
<line x1="302.3" y1="287.2" x2="305.5" y2="287.2" stroke="#555" stroke-width="1"/>
<line x1="302.3" y1="252.0" x2="305.5" y2="252.0" stroke="#555" stroke-width="1"/>
<line x1="324.1" y1="361.8" x2="324.1" y2="364" stroke="#555" stroke-width="1"/>
<line x1="372.6" y1="361.8" x2="372.6" y2="364" stroke="#555" stroke-width="1"/>
<line x1="421.2" y1="361.8" x2="421.2" y2="364" stroke="#555" stroke-width="1"/>
<line x1="469.7" y1="361.8" x2="469.7" y2="364" stroke="#555" stroke-width="1"/>
<text x="298.60" y="360.45" font-size="8" text-anchor="end" fill="#2a2a2a" font-weight="normal" stroke="#2a2a2a" stroke-width="0.08">0</text>
<text x="298.60" y="325.25" font-size="8" text-anchor="end" fill="#2a2a2a" font-weight="normal" stroke="#2a2a2a" stroke-width="0.08">1000</text>
<text x="298.60" y="290.05" font-size="8" text-anchor="end" fill="#2a2a2a" font-weight="normal" stroke="#2a2a2a" stroke-width="0.08">2000</text>
<text x="298.60" y="254.85" font-size="8" text-anchor="end" fill="#2a2a2a" font-weight="normal" stroke="#2a2a2a" stroke-width="0.08">3000</text>
<text x="324.10" y="374.55" font-size="8" text-anchor="middle" fill="#2a2a2a" font-weight="normal" stroke="#2a2a2a" stroke-width="0.08">0.24</text>
<text x="372.60" y="374.55" font-size="8" text-anchor="middle" fill="#2a2a2a" font-weight="normal" stroke="#2a2a2a" stroke-width="0.08">0.26</text>
<text x="421.20" y="374.55" font-size="8" text-anchor="middle" fill="#2a2a2a" font-weight="normal" stroke="#2a2a2a" stroke-width="0.08">0.28</text>
<text x="469.70" y="374.55" font-size="8" text-anchor="middle" fill="#2a2a2a" font-weight="normal" stroke="#2a2a2a" stroke-width="0.08">0.30</text>
<text x="369.90" y="388.80" font-size="9.4" fill="#111" stroke="#111" stroke-width="0.38" textLength="81.00" lengthAdjust="spacingAndGlyphs">Pairwise distance per DRP</text>
<text transform="translate(273.00,335.60) rotate(-90)" x="0" y="0" font-size="9.3" fill="#111" stroke="#111" stroke-width="0.12" textLength="90.50" lengthAdjust="spacingAndGlyphs">Predicted total mHAS per DRP</text>
<text x="103.9" y="35.4" font-size="8.2" fill="#222" textLength="79" lengthAdjust="spacingAndGlyphs"><tspan font-style="italic">R</tspan> = 0.99, <tspan font-style="italic">P</tspan> &lt; 2.2e-16</text>
<text x="228.2" y="72.6" font-size="8.1" fill="#222">Count</text>
<text x="238.1" y="84.1" font-size="8" fill="#303030">30</text>
<text x="238.1" y="93.6" font-size="8" fill="#303030">20</text>
<text x="238.1" y="103.1" font-size="8" fill="#303030">10</text>

</g>
</svg></body></html>
